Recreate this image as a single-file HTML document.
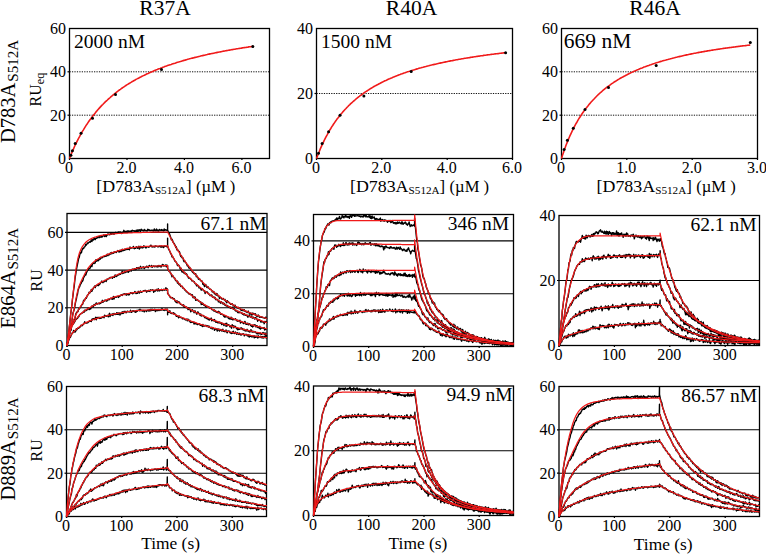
<!DOCTYPE html>
<html><head><meta charset="utf-8"><style>html,body{margin:0;padding:0;background:#fff;width:766px;height:554px;overflow:hidden}svg{display:block}</style></head>
<body><svg width="766" height="554" viewBox="0 0 766 554" font-family='"Liberation Serif", serif' fill="#000"><text x="165.0" y="15.4" font-size="21.5" text-anchor="middle" >R37A</text>
<text x="411.5" y="15.4" font-size="21.5" text-anchor="middle" >R40A</text>
<text x="655.0" y="15.4" font-size="21.5" text-anchor="middle" >R46A</text>
<text x="66.0" y="164.0" font-size="16" text-anchor="end" >0</text>
<text x="66.0" y="120.7" font-size="16" text-anchor="end" >20</text>
<text x="66.0" y="77.3" font-size="16" text-anchor="end" >40</text>
<text x="66.0" y="34.0" font-size="16" text-anchor="end" >60</text>
<text x="69.0" y="172.5" font-size="16" text-anchor="middle" >0</text>
<text x="126.5" y="172.5" font-size="16" text-anchor="middle" >2.0</text>
<text x="183.9" y="172.5" font-size="16" text-anchor="middle" >4.0</text>
<text x="241.4" y="172.5" font-size="16" text-anchor="middle" >6.0</text>
<text x="313.0" y="164.0" font-size="16" text-anchor="end" >0</text>
<text x="313.0" y="99.0" font-size="16" text-anchor="end" >20</text>
<text x="313.0" y="34.0" font-size="16" text-anchor="end" >40</text>
<text x="316.0" y="172.5" font-size="16" text-anchor="middle" >0</text>
<text x="381.3" y="172.5" font-size="16" text-anchor="middle" >2.0</text>
<text x="446.7" y="172.5" font-size="16" text-anchor="middle" >4.0</text>
<text x="512.0" y="172.5" font-size="16" text-anchor="middle" >6.0</text>
<text x="558.0" y="164.0" font-size="16" text-anchor="end" >0</text>
<text x="558.0" y="120.7" font-size="16" text-anchor="end" >20</text>
<text x="558.0" y="77.3" font-size="16" text-anchor="end" >40</text>
<text x="558.0" y="34.0" font-size="16" text-anchor="end" >60</text>
<text x="561.0" y="172.5" font-size="16" text-anchor="middle" >0</text>
<text x="626.3" y="172.5" font-size="16" text-anchor="middle" >1.0</text>
<text x="691.7" y="172.5" font-size="16" text-anchor="middle" >2.0</text>
<text x="757.0" y="172.5" font-size="16" text-anchor="middle" >3.0</text>
<text x="63.5" y="351.0" font-size="16" text-anchor="end" >0</text>
<text x="63.5" y="313.3" font-size="16" text-anchor="end" >20</text>
<text x="63.5" y="275.6" font-size="16" text-anchor="end" >40</text>
<text x="63.5" y="237.9" font-size="16" text-anchor="end" >60</text>
<text x="66.5" y="359.5" font-size="16" text-anchor="middle" >0</text>
<text x="121.7" y="359.5" font-size="16" text-anchor="middle" >100</text>
<text x="177.0" y="359.5" font-size="16" text-anchor="middle" >200</text>
<text x="232.2" y="359.5" font-size="16" text-anchor="middle" >300</text>
<text x="310.0" y="352.0" font-size="16" text-anchor="end" >0</text>
<text x="310.0" y="299.2" font-size="16" text-anchor="end" >20</text>
<text x="310.0" y="246.4" font-size="16" text-anchor="end" >40</text>
<text x="313.0" y="360.5" font-size="16" text-anchor="middle" >0</text>
<text x="368.2" y="360.5" font-size="16" text-anchor="middle" >100</text>
<text x="423.5" y="360.5" font-size="16" text-anchor="middle" >200</text>
<text x="478.7" y="360.5" font-size="16" text-anchor="middle" >300</text>
<text x="555.5" y="351.0" font-size="16" text-anchor="end" >0</text>
<text x="555.5" y="286.0" font-size="16" text-anchor="end" >20</text>
<text x="555.5" y="221.0" font-size="16" text-anchor="end" >40</text>
<text x="558.5" y="359.5" font-size="16" text-anchor="middle" >0</text>
<text x="613.9" y="359.5" font-size="16" text-anchor="middle" >100</text>
<text x="669.3" y="359.5" font-size="16" text-anchor="middle" >200</text>
<text x="724.7" y="359.5" font-size="16" text-anchor="middle" >300</text>
<text x="63.0" y="522.0" font-size="16" text-anchor="end" >0</text>
<text x="63.0" y="478.7" font-size="16" text-anchor="end" >20</text>
<text x="63.0" y="435.3" font-size="16" text-anchor="end" >40</text>
<text x="63.0" y="392.0" font-size="16" text-anchor="end" >60</text>
<text x="66.0" y="530.5" font-size="16" text-anchor="middle" >0</text>
<text x="121.2" y="530.5" font-size="16" text-anchor="middle" >100</text>
<text x="176.5" y="530.5" font-size="16" text-anchor="middle" >200</text>
<text x="231.7" y="530.5" font-size="16" text-anchor="middle" >300</text>
<text x="310.0" y="521.0" font-size="16" text-anchor="end" >0</text>
<text x="310.0" y="456.2" font-size="16" text-anchor="end" >20</text>
<text x="310.0" y="391.5" font-size="16" text-anchor="end" >40</text>
<text x="313.0" y="529.5" font-size="16" text-anchor="middle" >0</text>
<text x="368.2" y="529.5" font-size="16" text-anchor="middle" >100</text>
<text x="423.5" y="529.5" font-size="16" text-anchor="middle" >200</text>
<text x="478.7" y="529.5" font-size="16" text-anchor="middle" >300</text>
<text x="555.5" y="522.0" font-size="16" text-anchor="end" >0</text>
<text x="555.5" y="478.7" font-size="16" text-anchor="end" >20</text>
<text x="555.5" y="435.3" font-size="16" text-anchor="end" >40</text>
<text x="555.5" y="392.0" font-size="16" text-anchor="end" >60</text>
<text x="558.5" y="530.5" font-size="16" text-anchor="middle" >0</text>
<text x="613.9" y="530.5" font-size="16" text-anchor="middle" >100</text>
<text x="669.3" y="530.5" font-size="16" text-anchor="middle" >200</text>
<text x="724.7" y="530.5" font-size="16" text-anchor="middle" >300</text>
<g transform="translate(0.5,0.5)">
<line x1="69" x2="269" y1="114.7" y2="114.7" stroke="#111" stroke-width="1" stroke-dasharray="1.25,1.2"/>
<line x1="67" x2="69" y1="114.7" y2="114.7" stroke="#000" stroke-width="1.2"/>
<line x1="69" x2="269" y1="71.3" y2="71.3" stroke="#111" stroke-width="1" stroke-dasharray="1.25,1.2"/>
<line x1="67" x2="69" y1="71.3" y2="71.3" stroke="#000" stroke-width="1.2"/>
<line x1="69.0" x2="69.0" y1="158" y2="159.5" stroke="#000" stroke-width="1.2"/>
<line x1="126.5" x2="126.5" y1="158" y2="159.5" stroke="#000" stroke-width="1.2"/>
<line x1="183.9" x2="183.9" y1="158" y2="159.5" stroke="#000" stroke-width="1.2"/>
<line x1="241.4" x2="241.4" y1="158" y2="159.5" stroke="#000" stroke-width="1.2"/>
<line x1="316" x2="512" y1="93.0" y2="93.0" stroke="#111" stroke-width="1" stroke-dasharray="1.25,1.2"/>
<line x1="314" x2="316" y1="93.0" y2="93.0" stroke="#000" stroke-width="1.2"/>
<line x1="316.0" x2="316.0" y1="158" y2="159.5" stroke="#000" stroke-width="1.2"/>
<line x1="381.3" x2="381.3" y1="158" y2="159.5" stroke="#000" stroke-width="1.2"/>
<line x1="446.7" x2="446.7" y1="158" y2="159.5" stroke="#000" stroke-width="1.2"/>
<line x1="512.0" x2="512.0" y1="158" y2="159.5" stroke="#000" stroke-width="1.2"/>
<line x1="561" x2="757" y1="114.7" y2="114.7" stroke="#111" stroke-width="1" stroke-dasharray="1.25,1.2"/>
<line x1="559" x2="561" y1="114.7" y2="114.7" stroke="#000" stroke-width="1.2"/>
<line x1="561" x2="757" y1="71.3" y2="71.3" stroke="#111" stroke-width="1" stroke-dasharray="1.25,1.2"/>
<line x1="559" x2="561" y1="71.3" y2="71.3" stroke="#000" stroke-width="1.2"/>
<line x1="561.0" x2="561.0" y1="158" y2="159.5" stroke="#000" stroke-width="1.2"/>
<line x1="626.3" x2="626.3" y1="158" y2="159.5" stroke="#000" stroke-width="1.2"/>
<line x1="691.7" x2="691.7" y1="158" y2="159.5" stroke="#000" stroke-width="1.2"/>
<line x1="757.0" x2="757.0" y1="158" y2="159.5" stroke="#000" stroke-width="1.2"/>
<line x1="66.5" x2="266.5" y1="307.3" y2="307.3" stroke="#000" stroke-width="1.1"/>
<line x1="64.5" x2="66.5" y1="307.3" y2="307.3" stroke="#000" stroke-width="1.2"/>
<line x1="66.5" x2="266.5" y1="269.6" y2="269.6" stroke="#000" stroke-width="1.1"/>
<line x1="64.5" x2="66.5" y1="269.6" y2="269.6" stroke="#000" stroke-width="1.2"/>
<line x1="66.5" x2="266.5" y1="231.9" y2="231.9" stroke="#000" stroke-width="1.1"/>
<line x1="64.5" x2="66.5" y1="231.9" y2="231.9" stroke="#000" stroke-width="1.2"/>
<line x1="66.5" x2="66.5" y1="345" y2="346.5" stroke="#000" stroke-width="1.2"/>
<line x1="121.7" x2="121.7" y1="345" y2="346.5" stroke="#000" stroke-width="1.2"/>
<line x1="177.0" x2="177.0" y1="345" y2="346.5" stroke="#000" stroke-width="1.2"/>
<line x1="232.2" x2="232.2" y1="345" y2="346.5" stroke="#000" stroke-width="1.2"/>
<line x1="313" x2="513" y1="293.2" y2="293.2" stroke="#000" stroke-width="1.1"/>
<line x1="311" x2="313" y1="293.2" y2="293.2" stroke="#000" stroke-width="1.2"/>
<line x1="313" x2="513" y1="240.4" y2="240.4" stroke="#000" stroke-width="1.1"/>
<line x1="311" x2="313" y1="240.4" y2="240.4" stroke="#000" stroke-width="1.2"/>
<line x1="313.0" x2="313.0" y1="346" y2="347.5" stroke="#000" stroke-width="1.2"/>
<line x1="368.2" x2="368.2" y1="346" y2="347.5" stroke="#000" stroke-width="1.2"/>
<line x1="423.5" x2="423.5" y1="346" y2="347.5" stroke="#000" stroke-width="1.2"/>
<line x1="478.7" x2="478.7" y1="346" y2="347.5" stroke="#000" stroke-width="1.2"/>
<line x1="558.5" x2="759" y1="280.0" y2="280.0" stroke="#000" stroke-width="1.1"/>
<line x1="556.5" x2="558.5" y1="280.0" y2="280.0" stroke="#000" stroke-width="1.2"/>
<line x1="558.5" x2="558.5" y1="345" y2="346.5" stroke="#000" stroke-width="1.2"/>
<line x1="613.9" x2="613.9" y1="345" y2="346.5" stroke="#000" stroke-width="1.2"/>
<line x1="669.3" x2="669.3" y1="345" y2="346.5" stroke="#000" stroke-width="1.2"/>
<line x1="724.7" x2="724.7" y1="345" y2="346.5" stroke="#000" stroke-width="1.2"/>
<line x1="66" x2="266" y1="472.7" y2="472.7" stroke="#000" stroke-width="1.1"/>
<line x1="64" x2="66" y1="472.7" y2="472.7" stroke="#000" stroke-width="1.2"/>
<line x1="66" x2="266" y1="429.3" y2="429.3" stroke="#000" stroke-width="1.1"/>
<line x1="64" x2="66" y1="429.3" y2="429.3" stroke="#000" stroke-width="1.2"/>
<line x1="66.0" x2="66.0" y1="516" y2="517.5" stroke="#000" stroke-width="1.2"/>
<line x1="121.2" x2="121.2" y1="516" y2="517.5" stroke="#000" stroke-width="1.2"/>
<line x1="176.5" x2="176.5" y1="516" y2="517.5" stroke="#000" stroke-width="1.2"/>
<line x1="231.7" x2="231.7" y1="516" y2="517.5" stroke="#000" stroke-width="1.2"/>
<line x1="313" x2="513" y1="450.2" y2="450.2" stroke="#000" stroke-width="1.1"/>
<line x1="311" x2="313" y1="450.2" y2="450.2" stroke="#000" stroke-width="1.2"/>
<line x1="313.0" x2="313.0" y1="515" y2="516.5" stroke="#000" stroke-width="1.2"/>
<line x1="368.2" x2="368.2" y1="515" y2="516.5" stroke="#000" stroke-width="1.2"/>
<line x1="423.5" x2="423.5" y1="515" y2="516.5" stroke="#000" stroke-width="1.2"/>
<line x1="478.7" x2="478.7" y1="515" y2="516.5" stroke="#000" stroke-width="1.2"/>
<line x1="558.5" x2="759" y1="472.7" y2="472.7" stroke="#000" stroke-width="1.1"/>
<line x1="556.5" x2="558.5" y1="472.7" y2="472.7" stroke="#000" stroke-width="1.2"/>
<line x1="558.5" x2="759" y1="429.3" y2="429.3" stroke="#000" stroke-width="1.1"/>
<line x1="556.5" x2="558.5" y1="429.3" y2="429.3" stroke="#000" stroke-width="1.2"/>
<line x1="558.5" x2="558.5" y1="516" y2="517.5" stroke="#000" stroke-width="1.2"/>
<line x1="613.9" x2="613.9" y1="516" y2="517.5" stroke="#000" stroke-width="1.2"/>
<line x1="669.3" x2="669.3" y1="516" y2="517.5" stroke="#000" stroke-width="1.2"/>
<line x1="724.7" x2="724.7" y1="516" y2="517.5" stroke="#000" stroke-width="1.2"/>
<rect x="69" y="28" width="200" height="130" fill="none" stroke="#000" stroke-width="1.3"/>
<rect x="316" y="28" width="196" height="130" fill="none" stroke="#000" stroke-width="1.3"/>
<rect x="561" y="28" width="196" height="130" fill="none" stroke="#000" stroke-width="1.3"/>
<rect x="66.5" y="213" width="200.0" height="132" fill="none" stroke="#000" stroke-width="1.3"/>
<rect x="313" y="214" width="200" height="132" fill="none" stroke="#000" stroke-width="1.3"/>
<rect x="558.5" y="215" width="200.5" height="130" fill="none" stroke="#000" stroke-width="1.3"/>
<rect x="66" y="386" width="200" height="130" fill="none" stroke="#000" stroke-width="1.3"/>
<rect x="313" y="385.5" width="200" height="129.5" fill="none" stroke="#000" stroke-width="1.3"/>
<rect x="558.5" y="386" width="200.5" height="130" fill="none" stroke="#000" stroke-width="1.3"/>
<defs><clipPath id="c1"><rect x="67.5" y="28" width="202" height="131"/></clipPath><clipPath id="c2"><rect x="314.5" y="28" width="198" height="131"/></clipPath><clipPath id="c3"><rect x="559.5" y="28" width="198" height="131"/></clipPath><clipPath id="c4"><rect x="65.0" y="213" width="202.0" height="133"/></clipPath><clipPath id="c5"><rect x="311.5" y="214" width="202" height="133"/></clipPath><clipPath id="c6"><rect x="557.0" y="215" width="202.5" height="131"/></clipPath><clipPath id="c7"><rect x="64.5" y="386" width="202" height="131"/></clipPath><clipPath id="c8"><rect x="311.5" y="385.5" width="202" height="130.5"/></clipPath><clipPath id="c9"><rect x="557.0" y="386" width="202.5" height="131"/></clipPath></defs>
<g clip-path="url(#c1)">
<path d="M69.0,158.0 L69.9,155.7 L70.8,153.4 L71.8,151.2 L72.7,149.1 L73.6,147.0 L74.5,145.0 L75.5,143.1 L76.4,141.2 L77.3,139.4 L78.2,137.6 L79.2,135.9 L80.1,134.2 L81.0,132.5 L81.9,130.9 L82.9,129.4 L83.8,127.9 L84.7,126.4 L85.6,124.9 L86.6,123.5 L87.5,122.1 L88.4,120.8 L89.3,119.5 L90.3,118.2 L91.2,117.0 L92.1,115.8 L93.0,114.6 L94.0,113.4 L94.9,112.3 L95.8,111.1 L96.7,110.1 L97.6,109.0 L98.6,107.9 L99.5,106.9 L100.4,105.9 L101.3,104.9 L102.3,104.0 L103.2,103.0 L104.1,102.1 L105.0,101.2 L106.0,100.3 L106.9,99.5 L107.8,98.6 L108.7,97.8 L109.7,97.0 L110.6,96.1 L111.5,95.4 L112.4,94.6 L113.4,93.8 L114.3,93.1 L115.2,92.3 L116.1,91.6 L117.1,90.9 L118.0,90.2 L118.9,89.5 L119.8,88.9 L120.8,88.2 L121.7,87.5 L122.6,86.9 L123.5,86.3 L124.4,85.7 L125.4,85.0 L126.3,84.4 L127.2,83.9 L128.1,83.3 L129.1,82.7 L130.0,82.1 L130.9,81.6 L131.8,81.0 L132.8,80.5 L133.7,80.0 L134.6,79.5 L135.5,78.9 L136.5,78.4 L137.4,77.9 L138.3,77.5 L139.2,77.0 L140.2,76.5 L141.1,76.0 L142.0,75.6 L142.9,75.1 L143.9,74.7 L144.8,74.2 L145.7,73.8 L146.6,73.3 L147.6,72.9 L148.5,72.5 L149.4,72.1 L150.3,71.7 L151.3,71.3 L152.2,70.9 L153.1,70.5 L154.0,70.1 L154.9,69.7 L155.9,69.3 L156.8,69.0 L157.7,68.6 L158.6,68.2 L159.6,67.9 L160.5,67.5 L161.4,67.2 L162.3,66.8 L163.3,66.5 L164.2,66.1 L165.1,65.8 L166.0,65.5 L167.0,65.1 L167.9,64.8 L168.8,64.5 L169.7,64.2 L170.7,63.9 L171.6,63.6 L172.5,63.3 L173.4,63.0 L174.4,62.7 L175.3,62.4 L176.2,62.1 L177.1,61.8 L178.1,61.5 L179.0,61.2 L179.9,61.0 L180.8,60.7 L181.7,60.4 L182.7,60.1 L183.6,59.9 L184.5,59.6 L185.4,59.4 L186.4,59.1 L187.3,58.8 L188.2,58.6 L189.1,58.3 L190.1,58.1 L191.0,57.8 L191.9,57.6 L192.8,57.4 L193.8,57.1 L194.7,56.9 L195.6,56.7 L196.5,56.4 L197.5,56.2 L198.4,56.0 L199.3,55.8 L200.2,55.5 L201.2,55.3 L202.1,55.1 L203.0,54.9 L203.9,54.7 L204.9,54.5 L205.8,54.3 L206.7,54.1 L207.6,53.8 L208.5,53.6 L209.5,53.4 L210.4,53.2 L211.3,53.0 L212.2,52.9 L213.2,52.7 L214.1,52.5 L215.0,52.3 L215.9,52.1 L216.9,51.9 L217.8,51.7 L218.7,51.5 L219.6,51.4 L220.6,51.2 L221.5,51.0 L222.4,50.8 L223.3,50.6 L224.3,50.5 L225.2,50.3 L226.1,50.1 L227.0,50.0 L228.0,49.8 L228.9,49.6 L229.8,49.5 L230.7,49.3 L231.7,49.1 L232.6,49.0 L233.5,48.8 L234.4,48.7 L235.3,48.5 L236.3,48.3 L237.2,48.2 L238.1,48.0 L239.0,47.9 L240.0,47.7 L240.9,47.6 L241.8,47.4 L242.7,47.3 L243.7,47.1 L244.6,47.0 L245.5,46.9 L246.4,46.7 L247.4,46.6 L248.3,46.4 L249.2,46.3 L250.1,46.2 L251.1,46.0 L252.0,45.9 L252.9,45.7" fill="none" stroke="#f01a1a" stroke-width="1.6"/>
</g>
<circle cx="71.9" cy="150.2" r="1.5" fill="#000"/>
<circle cx="74.7" cy="143.1" r="1.5" fill="#000"/>
<circle cx="80.5" cy="132.7" r="1.5" fill="#000"/>
<circle cx="92.0" cy="117.7" r="1.5" fill="#000"/>
<circle cx="115.0" cy="94.1" r="1.5" fill="#000"/>
<circle cx="161.0" cy="68.9" r="1.5" fill="#000"/>
<circle cx="252.3" cy="46.0" r="1.5" fill="#000"/>
<circle cx="70.4" cy="154.8" r="1.5" fill="#000"/>
<g clip-path="url(#c2)">
<path d="M316.0,158.0 L317.0,155.5 L317.9,153.0 L318.9,150.7 L319.8,148.4 L320.8,146.2 L321.7,144.1 L322.7,142.1 L323.6,140.1 L324.6,138.2 L325.5,136.4 L326.5,134.6 L327.4,132.8 L328.4,131.2 L329.3,129.5 L330.3,128.0 L331.2,126.4 L332.2,125.0 L333.1,123.5 L334.1,122.1 L335.0,120.8 L336.0,119.4 L336.9,118.1 L337.9,116.9 L338.8,115.7 L339.8,114.5 L340.7,113.3 L341.7,112.2 L342.6,111.1 L343.6,110.0 L344.5,109.0 L345.5,108.0 L346.4,107.0 L347.4,106.0 L348.3,105.0 L349.3,104.1 L350.2,103.2 L351.2,102.3 L352.1,101.5 L353.1,100.6 L354.0,99.8 L355.0,99.0 L355.9,98.2 L356.9,97.4 L357.8,96.6 L358.8,95.9 L359.7,95.2 L360.7,94.5 L361.6,93.8 L362.6,93.1 L363.5,92.4 L364.5,91.7 L365.4,91.1 L366.4,90.5 L367.3,89.8 L368.3,89.2 L369.2,88.6 L370.2,88.0 L371.1,87.5 L372.1,86.9 L373.0,86.3 L374.0,85.8 L374.9,85.2 L375.9,84.7 L376.8,84.2 L377.8,83.7 L378.7,83.2 L379.7,82.7 L380.6,82.2 L381.6,81.7 L382.5,81.3 L383.5,80.8 L384.4,80.3 L385.4,79.9 L386.3,79.5 L387.3,79.0 L388.2,78.6 L389.2,78.2 L390.1,77.8 L391.1,77.4 L392.0,77.0 L393.0,76.6 L393.9,76.2 L394.9,75.8 L395.8,75.4 L396.8,75.1 L397.7,74.7 L398.7,74.3 L399.6,74.0 L400.6,73.6 L401.5,73.3 L402.5,72.9 L403.4,72.6 L404.4,72.3 L405.3,71.9 L406.3,71.6 L407.2,71.3 L408.2,71.0 L409.1,70.7 L410.1,70.4 L411.0,70.1 L412.0,69.8 L412.9,69.5 L413.9,69.2 L414.8,68.9 L415.8,68.6 L416.7,68.4 L417.7,68.1 L418.6,67.8 L419.6,67.5 L420.5,67.3 L421.5,67.0 L422.5,66.8 L423.4,66.5 L424.4,66.2 L425.3,66.0 L426.3,65.7 L427.2,65.5 L428.2,65.3 L429.1,65.0 L430.1,64.8 L431.0,64.6 L432.0,64.3 L432.9,64.1 L433.9,63.9 L434.8,63.7 L435.8,63.4 L436.7,63.2 L437.7,63.0 L438.6,62.8 L439.6,62.6 L440.5,62.4 L441.5,62.2 L442.4,62.0 L443.4,61.8 L444.3,61.6 L445.3,61.4 L446.2,61.2 L447.2,61.0 L448.1,60.8 L449.1,60.6 L450.0,60.4 L451.0,60.2 L451.9,60.1 L452.9,59.9 L453.8,59.7 L454.8,59.5 L455.7,59.3 L456.7,59.2 L457.6,59.0 L458.6,58.8 L459.5,58.7 L460.5,58.5 L461.4,58.3 L462.4,58.2 L463.3,58.0 L464.3,57.8 L465.2,57.7 L466.2,57.5 L467.1,57.4 L468.1,57.2 L469.0,57.1 L470.0,56.9 L470.9,56.8 L471.9,56.6 L472.8,56.5 L473.8,56.3 L474.7,56.2 L475.7,56.0 L476.6,55.9 L477.6,55.8 L478.5,55.6 L479.5,55.5 L480.4,55.3 L481.4,55.2 L482.3,55.1 L483.3,54.9 L484.2,54.8 L485.2,54.7 L486.1,54.5 L487.1,54.4 L488.0,54.3 L489.0,54.2 L489.9,54.0 L490.9,53.9 L491.8,53.8 L492.8,53.7 L493.7,53.5 L494.7,53.4 L495.6,53.3 L496.6,53.2 L497.5,53.1 L498.5,53.0 L499.4,52.8 L500.4,52.7 L501.3,52.6 L502.3,52.5 L503.2,52.4 L504.2,52.3 L505.1,52.2" fill="none" stroke="#f01a1a" stroke-width="1.6"/>
</g>
<circle cx="318.0" cy="152.8" r="1.5" fill="#000"/>
<circle cx="321.6" cy="143.1" r="1.5" fill="#000"/>
<circle cx="328.1" cy="131.3" r="1.5" fill="#000"/>
<circle cx="339.5" cy="114.8" r="1.5" fill="#000"/>
<circle cx="363.4" cy="95.6" r="1.5" fill="#000"/>
<circle cx="410.7" cy="70.9" r="1.5" fill="#000"/>
<circle cx="505.1" cy="52.2" r="1.5" fill="#000"/>
<g clip-path="url(#c3)">
<path d="M561.0,158.0 L561.9,155.0 L562.9,152.2 L563.8,149.5 L564.8,146.8 L565.7,144.3 L566.7,141.9 L567.6,139.6 L568.6,137.3 L569.5,135.2 L570.5,133.1 L571.4,131.1 L572.4,129.1 L573.3,127.2 L574.3,125.4 L575.2,123.7 L576.2,122.0 L577.1,120.3 L578.1,118.7 L579.0,117.2 L580.0,115.7 L580.9,114.2 L581.9,112.8 L582.8,111.5 L583.8,110.1 L584.7,108.8 L585.7,107.6 L586.6,106.4 L587.6,105.2 L588.5,104.0 L589.5,102.9 L590.4,101.8 L591.4,100.7 L592.3,99.7 L593.3,98.7 L594.2,97.7 L595.2,96.7 L596.1,95.8 L597.1,94.8 L598.0,93.9 L599.0,93.0 L599.9,92.2 L600.9,91.4 L601.8,90.5 L602.7,89.7 L603.7,88.9 L604.6,88.2 L605.6,87.4 L606.5,86.7 L607.5,86.0 L608.4,85.3 L609.4,84.6 L610.3,83.9 L611.3,83.2 L612.2,82.6 L613.2,81.9 L614.1,81.3 L615.1,80.7 L616.0,80.1 L617.0,79.5 L617.9,78.9 L618.9,78.4 L619.8,77.8 L620.8,77.3 L621.7,76.7 L622.7,76.2 L623.6,75.7 L624.6,75.2 L625.5,74.7 L626.5,74.2 L627.4,73.7 L628.4,73.2 L629.3,72.8 L630.3,72.3 L631.2,71.9 L632.2,71.4 L633.1,71.0 L634.1,70.6 L635.0,70.1 L636.0,69.7 L636.9,69.3 L637.9,68.9 L638.8,68.5 L639.8,68.1 L640.7,67.7 L641.6,67.4 L642.6,67.0 L643.5,66.6 L644.5,66.3 L645.4,65.9 L646.4,65.6 L647.3,65.2 L648.3,64.9 L649.2,64.5 L650.2,64.2 L651.1,63.9 L652.1,63.6 L653.0,63.2 L654.0,62.9 L654.9,62.6 L655.9,62.3 L656.8,62.0 L657.8,61.7 L658.7,61.4 L659.7,61.1 L660.6,60.9 L661.6,60.6 L662.5,60.3 L663.5,60.0 L664.4,59.8 L665.4,59.5 L666.3,59.2 L667.3,59.0 L668.2,58.7 L669.2,58.5 L670.1,58.2 L671.1,58.0 L672.0,57.7 L673.0,57.5 L673.9,57.3 L674.9,57.0 L675.8,56.8 L676.8,56.6 L677.7,56.3 L678.7,56.1 L679.6,55.9 L680.6,55.7 L681.5,55.4 L682.4,55.2 L683.4,55.0 L684.3,54.8 L685.3,54.6 L686.2,54.4 L687.2,54.2 L688.1,54.0 L689.1,53.8 L690.0,53.6 L691.0,53.4 L691.9,53.2 L692.9,53.0 L693.8,52.8 L694.8,52.7 L695.7,52.5 L696.7,52.3 L697.6,52.1 L698.6,51.9 L699.5,51.8 L700.5,51.6 L701.4,51.4 L702.4,51.3 L703.3,51.1 L704.3,50.9 L705.2,50.8 L706.2,50.6 L707.1,50.4 L708.1,50.3 L709.0,50.1 L710.0,50.0 L710.9,49.8 L711.9,49.6 L712.8,49.5 L713.8,49.3 L714.7,49.2 L715.7,49.0 L716.6,48.9 L717.6,48.8 L718.5,48.6 L719.5,48.5 L720.4,48.3 L721.3,48.2 L722.3,48.0 L723.2,47.9 L724.2,47.8 L725.1,47.6 L726.1,47.5 L727.0,47.4 L728.0,47.2 L728.9,47.1 L729.9,47.0 L730.8,46.9 L731.8,46.7 L732.7,46.6 L733.7,46.5 L734.6,46.4 L735.6,46.2 L736.5,46.1 L737.5,46.0 L738.4,45.9 L739.4,45.8 L740.3,45.6 L741.3,45.5 L742.2,45.4 L743.2,45.3 L744.1,45.2 L745.1,45.1 L746.0,45.0 L747.0,44.8 L747.9,44.7 L748.9,44.6 L749.8,44.5" fill="none" stroke="#f01a1a" stroke-width="1.6"/>
</g>
<circle cx="563.6" cy="149.1" r="1.5" fill="#000"/>
<circle cx="566.9" cy="139.8" r="1.5" fill="#000"/>
<circle cx="572.8" cy="127.7" r="1.5" fill="#000"/>
<circle cx="584.5" cy="109.0" r="1.5" fill="#000"/>
<circle cx="608.0" cy="87.1" r="1.5" fill="#000"/>
<circle cx="655.7" cy="65.0" r="1.5" fill="#000"/>
<circle cx="749.8" cy="42.1" r="1.5" fill="#000"/>
<g clip-path="url(#c4)" fill="none" stroke-linejoin="round">
<path d="M66.5,345.0 L67.1,340.6 L67.6,336.5 L68.2,332.1 L68.7,326.9 L69.3,322.5 L69.8,317.0 L70.4,311.5 L70.9,308.1 L71.5,303.5 L72.0,298.2 L72.6,293.8 L73.1,289.4 L73.7,285.7 L74.2,280.6 L74.8,275.7 L75.3,273.0 L75.9,268.7 L76.4,266.4 L77.0,263.2 L77.5,261.1 L78.1,257.8 L78.7,256.7 L79.2,254.0 L79.8,252.6 L80.3,251.5 L80.9,252.0 L81.4,249.6 L82.0,248.3 L82.5,247.4 L83.1,247.8 L83.6,246.4 L84.2,246.1 L84.7,245.4 L85.3,243.5 L85.8,244.3 L86.4,243.2 L86.9,242.1 L87.5,242.7 L88.0,241.9 L88.6,241.4 L89.2,241.0 L89.7,241.5 L90.3,240.3 L90.8,239.0 L91.4,240.8 L91.9,238.8 L92.5,239.0 L93.0,239.2 L93.6,237.1 L94.1,237.7 L94.7,238.8 L95.2,237.7 L95.8,237.1 L96.3,237.4 L96.9,236.6 L97.4,236.9 L98.0,236.2 L98.5,235.5 L99.1,236.8 L99.6,236.0 L100.2,236.2 L100.8,235.7 L101.3,236.4 L101.9,235.8 L102.4,235.4 L103.0,234.5 L103.5,234.1 L104.1,235.7 L104.6,235.2 L105.2,234.1 L105.7,235.8 L106.3,234.6 L106.8,234.2 L107.4,233.1 L107.9,233.4 L108.5,234.0 L109.0,233.9 L109.6,233.7 L110.1,232.3 L110.7,233.5 L111.3,233.3 L111.8,232.8 L112.4,233.0 L112.9,232.9 L113.5,233.4 L114.0,232.6 L114.6,232.8 L115.1,231.5 L115.7,231.8 L116.2,232.1 L116.8,231.6 L117.3,232.2 L117.9,231.1 L118.4,231.7 L119.0,231.2 L119.5,232.5 L120.1,231.2 L120.6,232.6 L121.2,232.7 L121.7,231.5 L122.3,231.8 L122.9,231.0 L123.4,229.5 L124.0,231.5 L124.5,231.3 L125.1,230.7 L125.6,230.4 L126.2,230.8 L126.7,230.8 L127.3,230.0 L127.8,230.1 L128.4,231.1 L128.9,230.4 L129.5,230.3 L130.0,231.0 L130.6,230.0 L131.1,230.7 L131.7,229.4 L132.2,229.9 L132.8,229.9 L133.4,230.3 L133.9,229.9 L134.5,231.2 L135.0,230.6 L135.6,229.5 L136.1,231.2 L136.7,229.1 L137.2,230.9 L137.8,229.1 L138.3,230.2 L138.9,229.0 L139.4,229.5 L140.0,230.6 L140.5,228.7 L141.1,228.5 L141.6,229.6 L142.2,229.7 L142.7,229.6 L143.3,230.1 L143.8,228.7 L144.4,229.8 L145.0,229.5 L145.5,230.0 L146.1,229.8 L146.6,230.3 L147.2,228.5 L147.7,229.5 L148.3,228.7 L148.8,229.3 L149.4,229.8 L149.9,229.5 L150.5,229.7 L151.0,229.3 L151.6,229.5 L152.1,229.5 L152.7,230.2 L153.2,229.8 L153.8,228.1 L154.3,229.7 L154.9,230.0 L155.5,229.0 L156.0,228.2 L156.6,230.2 L157.1,229.3 L157.7,229.6 L158.2,230.4 L158.8,228.6 L159.3,229.2 L159.9,229.1 L160.4,229.7 L161.0,228.8 L161.5,229.5 L162.1,229.2 L162.6,229.9 L163.2,230.0 L163.7,228.2 L164.3,229.5 L164.8,228.9 L165.4,229.1 L165.9,229.4 L166.5,229.4 L167.1,228.6 L167.1,223.1 L167.1,229.1 L167.6,230.5 L168.2,231.8 L168.7,232.3 L169.3,233.9 L169.8,235.4 L170.4,237.2 L170.9,239.0 L171.5,238.5 L172.0,239.5 L172.6,241.4 L173.1,242.0 L173.7,242.8 L174.2,243.8 L174.8,244.7 L175.3,246.7 L175.9,246.2 L176.4,249.1 L177.0,248.6 L177.5,249.7 L178.1,250.4 L178.7,250.6 L179.2,251.7 L179.8,254.4 L180.3,255.7 L180.9,254.8 L181.4,256.9 L182.0,257.0 L182.5,257.2 L183.1,259.8 L183.6,260.9 L184.2,260.0 L184.7,261.0 L185.3,261.9 L185.8,262.5 L186.4,263.9 L186.9,265.1 L187.5,264.9 L188.0,266.2 L188.6,267.4 L189.2,266.6 L189.7,267.7 L190.3,268.0 L190.8,269.7 L191.4,270.2 L191.9,271.1 L192.5,271.7 L193.0,271.6 L193.6,272.9 L194.1,272.8 L194.7,273.4 L195.2,272.9 L195.8,275.9 L196.3,274.9 L196.9,276.2 L197.4,276.8 L198.0,278.4 L198.5,278.3 L199.1,278.0 L199.6,279.2 L200.2,279.6 L200.8,280.5 L201.3,280.0 L201.9,281.4 L202.4,283.5 L203.0,282.9 L203.5,284.4 L204.1,285.8 L204.6,284.4 L205.2,283.6 L205.7,285.1 L206.3,286.4 L206.8,286.8 L207.4,285.8 L207.9,287.0 L208.5,287.5 L209.0,288.1 L209.6,288.5 L210.1,288.4 L210.7,289.1 L211.3,289.8 L211.8,291.1 L212.4,290.5 L212.9,291.8 L213.5,291.0 L214.0,293.1 L214.6,292.7 L215.1,293.0 L215.7,294.4 L216.2,292.7 L216.8,293.3 L217.3,295.0 L217.9,294.6 L218.4,295.2 L219.0,297.7 L219.5,296.1 L220.1,296.7 L220.6,297.0 L221.2,298.2 L221.7,298.0 L222.3,298.3 L222.9,297.7 L223.4,298.7 L224.0,299.3 L224.5,298.6 L225.1,300.4 L225.6,300.6 L226.2,302.0 L226.7,299.9 L227.3,300.7 L227.8,301.1 L228.4,301.6 L228.9,302.3 L229.5,302.5 L230.0,303.2 L230.6,303.5 L231.1,303.6 L231.7,302.9 L232.2,303.9 L232.8,304.6 L233.4,305.2 L233.9,305.6 L234.5,304.3 L235.0,305.4 L235.6,306.0 L236.1,306.5 L236.7,307.3 L237.2,306.9 L237.8,306.5 L238.3,307.7 L238.9,307.8 L239.4,308.1 L240.0,308.1 L240.5,309.6 L241.1,308.9 L241.6,309.6 L242.2,308.6 L242.7,310.0 L243.3,309.3 L243.8,308.9 L244.4,310.4 L245.0,310.8 L245.5,310.5 L246.1,310.9 L246.6,311.8 L247.2,311.0 L247.7,310.2 L248.3,312.0 L248.8,312.2 L249.4,313.0 L249.9,312.2 L250.5,313.5 L251.0,313.7 L251.6,312.2 L252.1,313.9 L252.7,312.7 L253.2,312.6 L253.8,313.7 L254.3,313.7 L254.9,312.9 L255.5,314.6 L256.0,315.1 L256.6,315.8 L257.1,315.0 L257.7,314.2 L258.2,314.8 L258.8,316.3 L259.3,316.4 L259.9,316.3 L260.4,315.9 L261.0,316.5 L261.5,316.3 L262.1,316.4 L262.6,317.0 L263.2,317.0 L263.7,317.0 L264.3,317.4 L264.8,317.1 L265.4,316.3 L265.9,317.4 L266.5,317.9" stroke="#000" stroke-width="1.4" transform="translate(0,0.3)"/>
<path d="M66.5,346.2 L67.1,342.6 L67.6,341.6 L68.2,338.3 L68.7,333.5 L69.3,330.5 L69.8,327.9 L70.4,325.9 L70.9,322.0 L71.5,319.4 L72.0,315.7 L72.6,311.8 L73.1,310.6 L73.7,308.7 L74.2,306.3 L74.8,302.8 L75.3,300.2 L75.9,298.2 L76.4,294.9 L77.0,293.4 L77.5,289.8 L78.1,287.9 L78.7,286.2 L79.2,285.8 L79.8,283.8 L80.3,283.0 L80.9,282.0 L81.4,280.8 L82.0,280.3 L82.5,279.3 L83.1,276.6 L83.6,276.2 L84.2,274.9 L84.7,273.3 L85.3,274.2 L85.8,272.5 L86.4,270.9 L86.9,269.9 L87.5,269.6 L88.0,267.8 L88.6,267.6 L89.2,267.9 L89.7,267.0 L90.3,265.2 L90.8,264.8 L91.4,265.8 L91.9,263.0 L92.5,263.0 L93.0,261.9 L93.6,262.6 L94.1,262.1 L94.7,262.2 L95.2,259.1 L95.8,260.6 L96.3,258.9 L96.9,260.0 L97.4,259.0 L98.0,259.9 L98.5,258.6 L99.1,257.3 L99.6,258.5 L100.2,256.5 L100.8,256.7 L101.3,257.3 L101.9,256.6 L102.4,256.3 L103.0,255.7 L103.5,255.8 L104.1,255.7 L104.6,255.1 L105.2,255.4 L105.7,255.4 L106.3,254.3 L106.8,253.4 L107.4,254.9 L107.9,253.6 L108.5,253.9 L109.0,253.9 L109.6,252.4 L110.1,253.2 L110.7,251.6 L111.3,253.0 L111.8,252.0 L112.4,252.3 L112.9,252.4 L113.5,251.3 L114.0,251.7 L114.6,250.9 L115.1,251.2 L115.7,251.8 L116.2,250.9 L116.8,250.6 L117.3,249.8 L117.9,251.0 L118.4,250.2 L119.0,251.2 L119.5,249.4 L120.1,250.4 L120.6,250.8 L121.2,249.4 L121.7,248.4 L122.3,250.1 L122.9,249.7 L123.4,249.3 L124.0,249.4 L124.5,248.3 L125.1,249.0 L125.6,248.8 L126.2,247.7 L126.7,248.6 L127.3,247.6 L127.8,248.5 L128.4,248.5 L128.9,248.9 L129.5,246.2 L130.0,247.6 L130.6,247.1 L131.1,247.3 L131.7,247.0 L132.2,247.0 L132.8,245.7 L133.4,247.6 L133.9,247.9 L134.5,247.5 L135.0,247.6 L135.6,246.1 L136.1,246.0 L136.7,247.2 L137.2,247.5 L137.8,246.7 L138.3,245.4 L138.9,248.3 L139.4,245.9 L140.0,247.0 L140.5,245.5 L141.1,246.9 L141.6,246.3 L142.2,247.1 L142.7,246.7 L143.3,245.0 L143.8,245.4 L144.4,246.2 L145.0,246.5 L145.5,247.2 L146.1,246.1 L146.6,245.9 L147.2,245.9 L147.7,245.8 L148.3,246.5 L148.8,245.8 L149.4,245.7 L149.9,244.8 L150.5,244.4 L151.0,245.7 L151.6,246.2 L152.1,245.7 L152.7,246.0 L153.2,246.1 L153.8,245.6 L154.3,246.3 L154.9,245.1 L155.5,245.6 L156.0,245.3 L156.6,245.6 L157.1,246.0 L157.7,246.1 L158.2,245.6 L158.8,245.8 L159.3,245.3 L159.9,245.4 L160.4,246.4 L161.0,245.3 L161.5,246.3 L162.1,245.8 L162.6,245.6 L163.2,246.8 L163.7,245.3 L164.3,245.2 L164.8,245.5 L165.4,245.6 L165.9,245.6 L166.5,246.0 L167.1,245.5 L167.1,237.3 L167.1,245.6 L167.6,246.6 L168.2,248.8 L168.7,249.1 L169.3,250.4 L169.8,251.8 L170.4,253.1 L170.9,253.5 L171.5,256.1 L172.0,255.6 L172.6,256.7 L173.1,257.6 L173.7,258.4 L174.2,260.0 L174.8,260.6 L175.3,260.8 L175.9,261.8 L176.4,262.7 L177.0,264.7 L177.5,264.0 L178.1,264.3 L178.7,265.1 L179.2,266.4 L179.8,268.3 L180.3,267.2 L180.9,268.7 L181.4,271.0 L182.0,269.6 L182.5,271.5 L183.1,272.0 L183.6,272.2 L184.2,271.5 L184.7,273.2 L185.3,273.3 L185.8,272.9 L186.4,273.6 L186.9,275.3 L187.5,276.0 L188.0,277.3 L188.6,277.4 L189.2,277.2 L189.7,277.7 L190.3,278.4 L190.8,278.4 L191.4,280.1 L191.9,280.1 L192.5,280.1 L193.0,280.7 L193.6,280.9 L194.1,281.8 L194.7,282.8 L195.2,282.8 L195.8,284.3 L196.3,285.2 L196.9,284.1 L197.4,285.0 L198.0,285.2 L198.5,287.1 L199.1,286.6 L199.6,287.2 L200.2,287.9 L200.8,289.3 L201.3,288.4 L201.9,288.0 L202.4,288.8 L203.0,289.9 L203.5,289.9 L204.1,289.8 L204.6,292.7 L205.2,291.2 L205.7,291.2 L206.3,291.5 L206.8,291.2 L207.4,292.0 L207.9,293.0 L208.5,293.4 L209.0,293.4 L209.6,294.8 L210.1,294.8 L210.7,294.5 L211.3,294.2 L211.8,296.0 L212.4,296.3 L212.9,296.5 L213.5,296.1 L214.0,297.4 L214.6,296.8 L215.1,298.8 L215.7,298.6 L216.2,299.0 L216.8,298.7 L217.3,298.8 L217.9,301.0 L218.4,300.9 L219.0,300.4 L219.5,301.4 L220.1,302.4 L220.6,300.9 L221.2,301.6 L221.7,301.9 L222.3,303.0 L222.9,302.2 L223.4,303.4 L224.0,302.8 L224.5,304.5 L225.1,304.8 L225.6,304.4 L226.2,305.3 L226.7,304.7 L227.3,305.3 L227.8,306.4 L228.4,306.0 L228.9,306.6 L229.5,306.0 L230.0,307.4 L230.6,307.6 L231.1,306.7 L231.7,306.3 L232.2,306.7 L232.8,308.4 L233.4,308.5 L233.9,307.9 L234.5,309.3 L235.0,310.2 L235.6,309.7 L236.1,309.7 L236.7,310.9 L237.2,311.7 L237.8,311.9 L238.3,310.7 L238.9,311.9 L239.4,311.7 L240.0,311.7 L240.5,311.7 L241.1,312.6 L241.6,312.3 L242.2,313.5 L242.7,313.4 L243.3,314.1 L243.8,312.8 L244.4,313.9 L245.0,314.6 L245.5,314.6 L246.1,314.7 L246.6,314.3 L247.2,316.2 L247.7,316.0 L248.3,315.8 L248.8,314.0 L249.4,315.3 L249.9,316.3 L250.5,315.9 L251.0,315.2 L251.6,317.0 L252.1,317.3 L252.7,316.4 L253.2,317.1 L253.8,317.2 L254.3,318.3 L254.9,316.8 L255.5,317.1 L256.0,318.1 L256.6,318.3 L257.1,320.4 L257.7,318.7 L258.2,319.5 L258.8,319.2 L259.3,319.2 L259.9,320.2 L260.4,321.3 L261.0,320.0 L261.5,321.0 L262.1,320.9 L262.6,321.3 L263.2,321.3 L263.7,322.9 L264.3,320.6 L264.8,321.4 L265.4,321.0 L265.9,320.6 L266.5,322.1" stroke="#000" stroke-width="1.4" transform="translate(0,0.3)"/>
<path d="M66.5,346.3 L67.1,342.3 L67.6,339.6 L68.2,336.4 L68.7,333.6 L69.3,332.8 L69.8,329.1 L70.4,328.5 L70.9,325.5 L71.5,324.1 L72.0,322.6 L72.6,321.0 L73.1,319.9 L73.7,318.6 L74.2,318.1 L74.8,315.7 L75.3,313.2 L75.9,312.0 L76.4,311.4 L77.0,310.7 L77.5,310.7 L78.1,308.2 L78.7,308.3 L79.2,307.4 L79.8,306.6 L80.3,305.5 L80.9,304.9 L81.4,303.8 L82.0,303.6 L82.5,302.2 L83.1,299.5 L83.6,300.2 L84.2,299.4 L84.7,298.0 L85.3,297.0 L85.8,297.4 L86.4,296.0 L86.9,294.3 L87.5,294.0 L88.0,293.3 L88.6,291.5 L89.2,292.3 L89.7,291.1 L90.3,290.8 L90.8,288.7 L91.4,290.5 L91.9,289.0 L92.5,288.3 L93.0,286.9 L93.6,286.4 L94.1,285.3 L94.7,286.9 L95.2,284.8 L95.8,285.1 L96.3,284.9 L96.9,283.7 L97.4,284.3 L98.0,284.8 L98.5,283.2 L99.1,283.7 L99.6,282.8 L100.2,281.7 L100.8,281.5 L101.3,280.3 L101.9,281.2 L102.4,281.9 L103.0,281.1 L103.5,280.9 L104.1,280.8 L104.6,279.4 L105.2,279.9 L105.7,280.6 L106.3,278.5 L106.8,278.8 L107.4,278.2 L107.9,278.1 L108.5,277.5 L109.0,277.7 L109.6,276.6 L110.1,276.9 L110.7,276.7 L111.3,276.5 L111.8,277.5 L112.4,276.4 L112.9,276.2 L113.5,275.6 L114.0,276.5 L114.6,274.1 L115.1,275.0 L115.7,275.6 L116.2,275.7 L116.8,274.5 L117.3,274.1 L117.9,274.3 L118.4,273.5 L119.0,273.8 L119.5,272.7 L120.1,273.4 L120.6,272.7 L121.2,271.7 L121.7,270.4 L122.3,272.7 L122.9,272.1 L123.4,272.1 L124.0,270.8 L124.5,271.9 L125.1,271.3 L125.6,270.8 L126.2,271.2 L126.7,271.0 L127.3,270.5 L127.8,271.5 L128.4,270.8 L128.9,270.0 L129.5,269.4 L130.0,269.5 L130.6,270.4 L131.1,269.4 L131.7,268.3 L132.2,268.4 L132.8,268.7 L133.4,269.1 L133.9,267.9 L134.5,268.6 L135.0,268.9 L135.6,268.6 L136.1,266.9 L136.7,267.6 L137.2,266.9 L137.8,267.9 L138.3,266.8 L138.9,267.8 L139.4,267.4 L140.0,265.5 L140.5,266.6 L141.1,267.4 L141.6,267.0 L142.2,266.6 L142.7,265.9 L143.3,267.0 L143.8,267.8 L144.4,266.8 L145.0,266.5 L145.5,266.3 L146.1,265.4 L146.6,266.1 L147.2,265.7 L147.7,266.9 L148.3,265.5 L148.8,264.6 L149.4,265.5 L149.9,265.8 L150.5,265.8 L151.0,264.6 L151.6,266.5 L152.1,265.8 L152.7,265.4 L153.2,265.2 L153.8,265.9 L154.3,265.4 L154.9,265.8 L155.5,265.4 L156.0,265.6 L156.6,266.3 L157.1,265.4 L157.7,264.8 L158.2,266.0 L158.8,265.5 L159.3,264.8 L159.9,266.0 L160.4,265.1 L161.0,266.0 L161.5,264.4 L162.1,263.6 L162.6,263.8 L163.2,265.3 L163.7,264.6 L164.3,265.0 L164.8,265.0 L165.4,264.0 L165.9,266.0 L166.5,264.3 L167.1,265.1 L167.1,267.0 L167.1,267.1 L167.6,268.8 L168.2,270.2 L168.7,270.4 L169.3,270.8 L169.8,272.1 L170.4,272.6 L170.9,274.0 L171.5,275.9 L172.0,274.5 L172.6,275.4 L173.1,276.5 L173.7,277.2 L174.2,277.2 L174.8,279.0 L175.3,279.8 L175.9,280.1 L176.4,279.8 L177.0,282.2 L177.5,281.1 L178.1,283.0 L178.7,283.9 L179.2,282.9 L179.8,284.4 L180.3,285.8 L180.9,285.8 L181.4,285.4 L182.0,285.8 L182.5,287.5 L183.1,287.5 L183.6,287.8 L184.2,289.3 L184.7,289.1 L185.3,289.9 L185.8,290.8 L186.4,291.2 L186.9,291.4 L187.5,291.9 L188.0,292.8 L188.6,293.2 L189.2,292.6 L189.7,293.7 L190.3,293.7 L190.8,293.9 L191.4,294.8 L191.9,294.0 L192.5,296.7 L193.0,295.9 L193.6,297.2 L194.1,296.1 L194.7,296.6 L195.2,299.6 L195.8,299.3 L196.3,298.6 L196.9,298.9 L197.4,299.3 L198.0,300.3 L198.5,300.3 L199.1,300.5 L199.6,301.4 L200.2,301.0 L200.8,303.7 L201.3,302.0 L201.9,303.6 L202.4,302.5 L203.0,303.7 L203.5,304.5 L204.1,304.0 L204.6,305.2 L205.2,305.6 L205.7,306.4 L206.3,305.6 L206.8,305.6 L207.4,305.6 L207.9,306.7 L208.5,306.2 L209.0,307.2 L209.6,307.6 L210.1,307.4 L210.7,307.4 L211.3,308.7 L211.8,308.9 L212.4,309.2 L212.9,309.3 L213.5,310.3 L214.0,309.2 L214.6,310.5 L215.1,310.2 L215.7,311.4 L216.2,310.8 L216.8,311.1 L217.3,311.9 L217.9,310.5 L218.4,311.9 L219.0,311.2 L219.5,312.0 L220.1,313.4 L220.6,313.4 L221.2,313.1 L221.7,313.6 L222.3,313.9 L222.9,314.4 L223.4,315.7 L224.0,314.8 L224.5,316.5 L225.1,314.9 L225.6,315.9 L226.2,316.1 L226.7,316.0 L227.3,315.9 L227.8,317.3 L228.4,317.8 L228.9,317.5 L229.5,318.4 L230.0,317.9 L230.6,316.3 L231.1,318.4 L231.7,317.4 L232.2,319.0 L232.8,318.1 L233.4,318.7 L233.9,318.7 L234.5,318.5 L235.0,317.9 L235.6,319.2 L236.1,319.4 L236.7,320.4 L237.2,319.5 L237.8,320.3 L238.3,319.7 L238.9,320.5 L239.4,319.4 L240.0,322.2 L240.5,321.2 L241.1,320.6 L241.6,321.6 L242.2,322.1 L242.7,321.9 L243.3,322.9 L243.8,322.0 L244.4,320.6 L245.0,321.7 L245.5,323.4 L246.1,323.4 L246.6,323.3 L247.2,322.4 L247.7,323.9 L248.3,324.0 L248.8,323.0 L249.4,323.2 L249.9,324.2 L250.5,324.9 L251.0,325.4 L251.6,324.9 L252.1,326.2 L252.7,324.2 L253.2,325.3 L253.8,324.7 L254.3,323.9 L254.9,324.5 L255.5,326.3 L256.0,325.0 L256.6,325.0 L257.1,326.5 L257.7,326.8 L258.2,326.3 L258.8,327.5 L259.3,325.5 L259.9,328.3 L260.4,327.6 L261.0,327.1 L261.5,327.2 L262.1,327.1 L262.6,327.1 L263.2,327.6 L263.7,326.8 L264.3,329.2 L264.8,327.9 L265.4,328.5 L265.9,328.0 L266.5,328.1" stroke="#000" stroke-width="1.4" transform="translate(0,0.3)"/>
<path d="M66.5,345.6 L67.1,342.0 L67.6,338.1 L68.2,335.9 L68.7,334.4 L69.3,330.5 L69.8,328.6 L70.4,329.7 L70.9,327.0 L71.5,324.1 L72.0,324.1 L72.6,323.4 L73.1,322.7 L73.7,321.9 L74.2,320.8 L74.8,320.1 L75.3,318.4 L75.9,318.5 L76.4,317.8 L77.0,317.6 L77.5,316.2 L78.1,316.1 L78.7,315.1 L79.2,313.6 L79.8,313.6 L80.3,313.0 L80.9,312.6 L81.4,312.3 L82.0,312.0 L82.5,311.7 L83.1,310.5 L83.6,311.4 L84.2,309.3 L84.7,309.8 L85.3,310.0 L85.8,309.5 L86.4,309.2 L86.9,308.3 L87.5,308.6 L88.0,307.0 L88.6,308.0 L89.2,308.7 L89.7,307.3 L90.3,307.9 L90.8,306.2 L91.4,305.2 L91.9,305.2 L92.5,306.3 L93.0,305.6 L93.6,303.6 L94.1,304.3 L94.7,304.3 L95.2,303.3 L95.8,302.1 L96.3,302.6 L96.9,303.2 L97.4,302.8 L98.0,302.4 L98.5,303.0 L99.1,303.1 L99.6,302.0 L100.2,302.5 L100.8,301.6 L101.3,301.3 L101.9,299.5 L102.4,301.5 L103.0,300.7 L103.5,300.5 L104.1,299.9 L104.6,299.2 L105.2,300.1 L105.7,300.1 L106.3,300.4 L106.8,299.7 L107.4,298.5 L107.9,298.6 L108.5,299.1 L109.0,298.5 L109.6,298.0 L110.1,297.4 L110.7,298.0 L111.3,297.6 L111.8,298.5 L112.4,297.8 L112.9,295.7 L113.5,298.2 L114.0,296.7 L114.6,296.2 L115.1,296.4 L115.7,296.5 L116.2,295.9 L116.8,295.7 L117.3,295.6 L117.9,296.7 L118.4,295.3 L119.0,295.7 L119.5,295.3 L120.1,294.6 L120.6,294.2 L121.2,293.9 L121.7,294.7 L122.3,293.6 L122.9,293.3 L123.4,293.2 L124.0,292.9 L124.5,293.9 L125.1,293.8 L125.6,292.9 L126.2,294.4 L126.7,293.1 L127.3,293.6 L127.8,293.3 L128.4,294.2 L128.9,293.5 L129.5,292.8 L130.0,292.0 L130.6,291.9 L131.1,292.5 L131.7,292.5 L132.2,292.9 L132.8,291.9 L133.4,292.3 L133.9,291.6 L134.5,290.7 L135.0,291.9 L135.6,292.8 L136.1,292.3 L136.7,292.6 L137.2,292.3 L137.8,290.5 L138.3,291.2 L138.9,292.3 L139.4,290.7 L140.0,290.2 L140.5,291.3 L141.1,291.5 L141.6,291.1 L142.2,290.6 L142.7,290.3 L143.3,289.9 L143.8,289.8 L144.4,289.7 L145.0,289.6 L145.5,290.0 L146.1,291.4 L146.6,290.4 L147.2,290.0 L147.7,290.5 L148.3,289.5 L148.8,290.3 L149.4,290.7 L149.9,289.0 L150.5,289.4 L151.0,289.7 L151.6,289.2 L152.1,289.0 L152.7,289.5 L153.2,291.4 L153.8,290.1 L154.3,289.9 L154.9,290.2 L155.5,289.3 L156.0,288.6 L156.6,289.7 L157.1,290.1 L157.7,287.9 L158.2,289.6 L158.8,290.1 L159.3,289.0 L159.9,288.9 L160.4,289.6 L161.0,288.5 L161.5,289.4 L162.1,289.7 L162.6,288.9 L163.2,288.4 L163.7,289.4 L164.3,288.7 L164.8,289.0 L165.4,286.9 L165.9,289.3 L166.5,287.9 L167.1,288.8 L167.1,292.8 L167.1,291.7 L167.6,293.0 L168.2,294.0 L168.7,294.4 L169.3,295.6 L169.8,296.7 L170.4,297.1 L170.9,296.7 L171.5,297.1 L172.0,296.9 L172.6,298.0 L173.1,297.9 L173.7,298.0 L174.2,299.3 L174.8,300.8 L175.3,301.0 L175.9,301.6 L176.4,299.8 L177.0,301.9 L177.5,300.8 L178.1,301.6 L178.7,301.2 L179.2,302.0 L179.8,303.1 L180.3,303.6 L180.9,303.7 L181.4,304.0 L182.0,304.8 L182.5,304.8 L183.1,304.0 L183.6,306.6 L184.2,305.6 L184.7,306.7 L185.3,306.3 L185.8,306.1 L186.4,307.1 L186.9,306.8 L187.5,308.8 L188.0,307.2 L188.6,308.7 L189.2,308.2 L189.7,308.8 L190.3,311.0 L190.8,310.0 L191.4,309.6 L191.9,309.0 L192.5,310.2 L193.0,310.5 L193.6,311.9 L194.1,310.2 L194.7,310.2 L195.2,311.8 L195.8,312.2 L196.3,313.5 L196.9,312.0 L197.4,311.0 L198.0,312.6 L198.5,312.5 L199.1,313.3 L199.6,314.6 L200.2,313.2 L200.8,315.3 L201.3,314.8 L201.9,314.7 L202.4,314.6 L203.0,315.1 L203.5,315.4 L204.1,316.5 L204.6,317.1 L205.2,316.4 L205.7,317.1 L206.3,317.8 L206.8,318.0 L207.4,317.7 L207.9,318.9 L208.5,318.7 L209.0,319.2 L209.6,318.1 L210.1,318.2 L210.7,317.3 L211.3,320.0 L211.8,319.6 L212.4,318.7 L212.9,319.7 L213.5,320.0 L214.0,318.8 L214.6,320.4 L215.1,321.2 L215.7,321.5 L216.2,320.6 L216.8,320.8 L217.3,322.1 L217.9,322.1 L218.4,321.2 L219.0,321.4 L219.5,322.4 L220.1,321.7 L220.6,321.9 L221.2,323.8 L221.7,322.9 L222.3,322.6 L222.9,323.5 L223.4,324.8 L224.0,323.6 L224.5,323.1 L225.1,322.7 L225.6,325.5 L226.2,322.3 L226.7,325.1 L227.3,323.8 L227.8,323.8 L228.4,324.1 L228.9,324.9 L229.5,326.0 L230.0,324.9 L230.6,326.0 L231.1,327.4 L231.7,323.8 L232.2,325.5 L232.8,324.9 L233.4,326.9 L233.9,325.4 L234.5,325.5 L235.0,325.7 L235.6,326.9 L236.1,327.9 L236.7,327.3 L237.2,328.9 L237.8,328.7 L238.3,327.6 L238.9,328.5 L239.4,328.0 L240.0,328.1 L240.5,326.9 L241.1,327.4 L241.6,328.5 L242.2,327.8 L242.7,329.3 L243.3,329.1 L243.8,328.4 L244.4,330.0 L245.0,329.5 L245.5,330.3 L246.1,329.5 L246.6,328.5 L247.2,330.3 L247.7,329.8 L248.3,330.7 L248.8,331.0 L249.4,331.2 L249.9,329.4 L250.5,328.9 L251.0,330.3 L251.6,331.3 L252.1,330.4 L252.7,331.3 L253.2,330.6 L253.8,331.0 L254.3,331.2 L254.9,331.0 L255.5,332.0 L256.0,332.0 L256.6,333.0 L257.1,332.2 L257.7,333.0 L258.2,332.2 L258.8,332.9 L259.3,332.3 L259.9,332.1 L260.4,333.5 L261.0,333.2 L261.5,333.4 L262.1,332.3 L262.6,331.8 L263.2,332.5 L263.7,333.4 L264.3,332.2 L264.8,334.4 L265.4,332.4 L265.9,334.0 L266.5,335.6" stroke="#000" stroke-width="1.4" transform="translate(0,0.3)"/>
<path d="M66.5,343.1 L67.1,341.6 L67.6,341.6 L68.2,339.1 L68.7,338.0 L69.3,336.6 L69.8,336.7 L70.4,335.2 L70.9,333.6 L71.5,333.0 L72.0,331.7 L72.6,331.8 L73.1,329.7 L73.7,331.3 L74.2,330.0 L74.8,331.1 L75.3,330.1 L75.9,327.8 L76.4,328.9 L77.0,327.4 L77.5,327.4 L78.1,327.6 L78.7,326.7 L79.2,326.4 L79.8,326.0 L80.3,324.7 L80.9,324.4 L81.4,324.9 L82.0,324.8 L82.5,323.6 L83.1,323.5 L83.6,322.4 L84.2,320.9 L84.7,321.9 L85.3,322.2 L85.8,322.0 L86.4,322.2 L86.9,322.0 L87.5,321.8 L88.0,321.1 L88.6,320.9 L89.2,319.9 L89.7,320.5 L90.3,320.1 L90.8,320.6 L91.4,318.4 L91.9,319.0 L92.5,317.9 L93.0,318.4 L93.6,317.7 L94.1,318.8 L94.7,317.9 L95.2,316.4 L95.8,318.9 L96.3,317.1 L96.9,316.6 L97.4,317.3 L98.0,316.9 L98.5,316.4 L99.1,317.6 L99.6,316.7 L100.2,317.4 L100.8,317.2 L101.3,317.0 L101.9,316.5 L102.4,316.1 L103.0,315.8 L103.5,317.0 L104.1,314.4 L104.6,314.8 L105.2,315.0 L105.7,315.6 L106.3,315.3 L106.8,314.7 L107.4,314.7 L107.9,316.1 L108.5,314.2 L109.0,312.5 L109.6,315.8 L110.1,313.6 L110.7,313.9 L111.3,314.2 L111.8,313.0 L112.4,314.7 L112.9,313.6 L113.5,312.6 L114.0,313.6 L114.6,313.7 L115.1,313.2 L115.7,313.5 L116.2,311.9 L116.8,313.6 L117.3,312.2 L117.9,313.6 L118.4,312.1 L119.0,312.6 L119.5,314.3 L120.1,312.3 L120.6,313.0 L121.2,312.4 L121.7,310.9 L122.3,312.7 L122.9,312.6 L123.4,310.7 L124.0,311.6 L124.5,310.5 L125.1,311.2 L125.6,312.0 L126.2,311.4 L126.7,310.4 L127.3,310.5 L127.8,311.1 L128.4,311.0 L128.9,311.0 L129.5,311.3 L130.0,309.4 L130.6,310.7 L131.1,311.5 L131.7,311.0 L132.2,310.0 L132.8,310.0 L133.4,310.6 L133.9,310.9 L134.5,310.3 L135.0,311.5 L135.6,311.2 L136.1,309.6 L136.7,310.5 L137.2,309.8 L137.8,309.2 L138.3,309.5 L138.9,310.0 L139.4,308.4 L140.0,309.4 L140.5,310.1 L141.1,309.3 L141.6,309.5 L142.2,310.4 L142.7,309.7 L143.3,309.8 L143.8,311.1 L144.4,309.7 L145.0,309.8 L145.5,309.9 L146.1,310.7 L146.6,309.7 L147.2,309.5 L147.7,309.4 L148.3,310.2 L148.8,308.9 L149.4,310.2 L149.9,309.5 L150.5,308.4 L151.0,309.8 L151.6,309.6 L152.1,308.5 L152.7,309.5 L153.2,309.4 L153.8,309.0 L154.3,308.4 L154.9,310.7 L155.5,309.7 L156.0,309.8 L156.6,309.9 L157.1,309.7 L157.7,309.7 L158.2,308.8 L158.8,309.7 L159.3,308.9 L159.9,308.7 L160.4,309.5 L161.0,308.9 L161.5,307.8 L162.1,308.7 L162.6,309.4 L163.2,309.0 L163.7,309.6 L164.3,308.7 L164.8,308.3 L165.4,309.5 L165.9,309.1 L166.5,308.1 L167.1,309.3 L167.1,313.9 L167.1,310.2 L167.6,311.3 L168.2,311.5 L168.7,311.5 L169.3,309.9 L169.8,312.0 L170.4,312.4 L170.9,312.7 L171.5,312.6 L172.0,312.3 L172.6,312.9 L173.1,311.9 L173.7,313.4 L174.2,312.8 L174.8,313.9 L175.3,313.9 L175.9,315.6 L176.4,314.9 L177.0,315.2 L177.5,315.5 L178.1,317.1 L178.7,315.2 L179.2,316.4 L179.8,316.6 L180.3,316.7 L180.9,316.9 L181.4,316.7 L182.0,318.1 L182.5,318.1 L183.1,317.5 L183.6,317.8 L184.2,318.4 L184.7,318.8 L185.3,319.2 L185.8,318.9 L186.4,318.2 L186.9,320.0 L187.5,318.4 L188.0,319.1 L188.6,320.2 L189.2,319.5 L189.7,321.3 L190.3,321.7 L190.8,321.6 L191.4,321.2 L191.9,321.3 L192.5,321.6 L193.0,321.4 L193.6,323.2 L194.1,321.5 L194.7,323.0 L195.2,322.7 L195.8,322.7 L196.3,323.4 L196.9,323.8 L197.4,323.7 L198.0,323.2 L198.5,322.9 L199.1,323.1 L199.6,324.4 L200.2,324.4 L200.8,324.7 L201.3,323.9 L201.9,325.8 L202.4,323.7 L203.0,325.1 L203.5,325.4 L204.1,324.8 L204.6,324.5 L205.2,325.1 L205.7,324.8 L206.3,325.6 L206.8,325.0 L207.4,325.2 L207.9,326.3 L208.5,325.3 L209.0,326.4 L209.6,326.6 L210.1,327.4 L210.7,327.1 L211.3,326.5 L211.8,328.2 L212.4,326.9 L212.9,327.3 L213.5,327.5 L214.0,329.4 L214.6,328.0 L215.1,327.6 L215.7,328.8 L216.2,328.3 L216.8,330.2 L217.3,328.2 L217.9,329.2 L218.4,328.3 L219.0,330.3 L219.5,328.7 L220.1,329.5 L220.6,328.9 L221.2,330.2 L221.7,330.1 L222.3,328.3 L222.9,330.5 L223.4,330.6 L224.0,330.4 L224.5,331.0 L225.1,329.6 L225.6,329.3 L226.2,331.2 L226.7,332.0 L227.3,330.1 L227.8,330.2 L228.4,330.6 L228.9,330.4 L229.5,332.0 L230.0,331.6 L230.6,332.6 L231.1,332.7 L231.7,331.1 L232.2,332.4 L232.8,330.4 L233.4,332.1 L233.9,332.7 L234.5,331.8 L235.0,331.2 L235.6,332.2 L236.1,333.5 L236.7,332.5 L237.2,331.9 L237.8,333.3 L238.3,333.6 L238.9,332.4 L239.4,333.2 L240.0,334.1 L240.5,333.7 L241.1,334.1 L241.6,333.4 L242.2,333.6 L242.7,333.0 L243.3,333.4 L243.8,335.1 L244.4,333.8 L245.0,333.6 L245.5,334.0 L246.1,333.6 L246.6,334.8 L247.2,335.2 L247.7,334.0 L248.3,335.5 L248.8,336.3 L249.4,334.2 L249.9,335.5 L250.5,335.3 L251.0,336.1 L251.6,336.1 L252.1,336.1 L252.7,335.6 L253.2,335.2 L253.8,337.1 L254.3,335.1 L254.9,336.5 L255.5,336.5 L256.0,335.4 L256.6,336.0 L257.1,337.1 L257.7,334.8 L258.2,336.7 L258.8,336.0 L259.3,336.1 L259.9,335.4 L260.4,336.7 L261.0,335.8 L261.5,337.1 L262.1,335.8 L262.6,337.2 L263.2,337.0 L263.7,335.5 L264.3,336.7 L264.8,336.9 L265.4,335.5 L265.9,336.8 L266.5,337.7" stroke="#000" stroke-width="1.4" transform="translate(0,0.3)"/>
<path d="M66.5,345.0 L66.8,342.9 L67.1,340.9 L67.3,338.6 L67.6,336.3 L67.9,333.9 L68.2,331.5 L68.4,329.0 L68.7,326.6 L69.0,324.2 L69.3,321.8 L69.5,319.4 L69.8,317.1 L70.1,314.8 L70.4,312.4 L70.6,310.1 L70.9,307.8 L71.2,305.4 L71.5,303.0 L71.7,300.5 L72.0,298.1 L72.3,295.6 L72.6,293.1 L72.9,290.7 L73.1,288.2 L73.4,285.7 L73.7,283.2 L74.0,280.8 L74.2,278.5 L74.5,276.2 L74.8,273.9 L75.1,271.8 L75.3,269.8 L75.6,267.9 L75.9,266.0 L76.2,264.4 L76.4,262.8 L76.7,261.3 L77.0,259.9 L77.3,258.6 L77.5,257.4 L78.9,252.5 L80.3,249.0 L81.7,246.3 L83.1,244.3 L84.5,242.7 L85.8,241.3 L87.2,240.3 L88.6,239.3 L90.0,238.6 L91.4,237.9 L92.7,237.3 L94.1,236.7 L95.5,236.3 L96.9,235.8 L98.3,235.5 L99.6,235.2 L101.0,234.9 L102.4,234.6 L103.8,234.4 L105.2,234.2 L106.6,234.0 L107.9,233.8 L109.3,233.7 L110.7,233.6 L112.1,233.4 L113.5,233.3 L114.8,233.2 L116.2,233.1 L117.6,233.0 L119.0,232.9 L120.4,232.8 L121.7,232.8 L123.1,232.7 L124.5,232.6 L125.9,232.5 L127.3,232.5 L128.7,232.4 L130.0,232.4 L131.4,232.3 L132.8,232.2 L134.2,232.2 L135.6,232.1 L136.9,232.1 L138.3,232.1 L139.7,232.0 L141.1,232.0 L142.5,231.9 L143.8,231.9 L145.2,231.9 L146.6,231.8 L148.0,231.8 L149.4,231.8 L150.8,231.7 L152.1,231.7 L153.5,231.7 L154.9,231.7 L156.3,231.6 L157.7,231.6 L159.0,231.6 L160.4,231.6 L161.8,231.6 L163.2,231.6 L164.6,231.6 L165.9,231.5 L167.1,231.5 L167.1,231.4 L167.6,232.5 L168.2,233.5 L168.7,234.6 L169.3,235.7 L169.8,236.7 L170.4,237.7 L170.9,238.8 L171.5,239.8 L172.0,240.8 L172.6,241.8 L173.1,242.7 L173.7,243.7 L174.2,244.7 L174.8,245.6 L175.3,246.5 L175.9,247.5 L176.4,248.4 L177.0,249.3 L177.5,250.2 L178.1,251.1 L178.7,252.0 L179.2,252.8 L179.8,253.7 L180.3,254.5 L180.9,255.4 L181.4,256.2 L182.0,257.0 L182.5,257.8 L183.1,258.6 L183.6,259.4 L185.3,261.8 L186.9,264.0 L188.6,266.2 L190.3,268.3 L191.9,270.4 L193.6,272.4 L195.2,274.3 L196.9,276.1 L198.5,277.9 L200.2,279.7 L201.9,281.4 L203.5,283.0 L205.2,284.6 L206.8,286.1 L208.5,287.6 L210.1,289.0 L211.8,290.4 L213.5,291.7 L215.1,293.0 L216.8,294.3 L218.4,295.5 L220.1,296.7 L221.7,297.8 L223.4,298.9 L225.1,300.0 L226.7,301.0 L228.4,302.0 L230.0,303.0 L231.7,303.9 L233.4,304.8 L235.0,305.7 L236.7,306.6 L238.3,307.4 L240.0,308.2 L241.6,309.0 L243.3,309.7 L245.0,310.4 L246.6,311.1 L248.3,311.8 L249.9,312.5 L251.6,313.1 L253.2,313.7 L254.9,314.3 L256.6,314.9 L258.2,315.4 L259.9,316.0 L261.5,316.5 L263.2,317.0 L264.8,317.5 L266.5,318.0" stroke="#f01a1a" stroke-width="1.25"/>
<path d="M66.5,345.0 L66.8,343.9 L67.1,342.8 L67.3,341.6 L67.6,340.2 L67.9,338.8 L68.2,337.3 L68.4,335.7 L68.7,334.1 L69.0,332.5 L69.3,331.0 L69.5,329.4 L69.8,327.8 L70.1,326.3 L70.4,324.7 L70.6,323.2 L70.9,321.8 L71.2,320.3 L71.5,318.9 L71.7,317.5 L72.0,316.1 L72.3,314.7 L72.6,313.4 L72.9,312.0 L73.1,310.6 L73.4,309.2 L73.7,307.8 L74.0,306.4 L74.2,304.9 L74.5,303.4 L74.8,302.0 L75.1,300.5 L75.3,299.1 L75.6,297.6 L75.9,296.2 L76.2,294.9 L76.4,293.6 L76.7,292.4 L77.0,291.2 L77.3,290.1 L77.5,289.0 L78.9,284.7 L80.3,281.4 L81.7,278.5 L83.1,275.7 L84.5,273.0 L85.8,270.5 L87.2,268.2 L88.6,266.3 L90.0,264.6 L91.4,263.1 L92.7,261.9 L94.1,260.7 L95.5,259.7 L96.9,258.8 L98.3,258.0 L99.6,257.2 L101.0,256.5 L102.4,255.9 L103.8,255.3 L105.2,254.7 L106.6,254.1 L107.9,253.6 L109.3,253.1 L110.7,252.7 L112.1,252.2 L113.5,251.7 L114.8,251.3 L116.2,250.8 L117.6,250.4 L119.0,250.0 L120.4,249.6 L121.7,249.2 L123.1,248.9 L124.5,248.5 L125.9,248.2 L127.3,247.9 L128.7,247.6 L130.0,247.4 L131.4,247.2 L132.8,247.0 L134.2,246.8 L135.6,246.7 L136.9,246.5 L138.3,246.4 L139.7,246.3 L141.1,246.2 L142.5,246.1 L143.8,246.0 L145.2,245.9 L146.6,245.8 L148.0,245.8 L149.4,245.7 L150.8,245.7 L152.1,245.6 L153.5,245.6 L154.9,245.5 L156.3,245.5 L157.7,245.5 L159.0,245.4 L160.4,245.4 L161.8,245.4 L163.2,245.4 L164.6,245.3 L165.9,245.3 L167.1,245.3 L167.1,245.2 L167.6,246.6 L168.2,248.0 L168.7,249.3 L169.3,250.5 L169.8,251.7 L170.4,252.8 L170.9,253.9 L171.5,254.9 L172.0,255.9 L172.6,256.9 L173.1,257.8 L173.7,258.7 L174.2,259.6 L174.8,260.4 L175.3,261.3 L175.9,262.1 L176.4,262.9 L177.0,263.6 L177.5,264.4 L178.1,265.1 L178.7,265.8 L179.2,266.5 L179.8,267.2 L180.3,267.9 L180.9,268.6 L181.4,269.2 L182.0,269.9 L182.5,270.5 L183.1,271.1 L183.6,271.7 L185.3,273.5 L186.9,275.3 L188.6,276.9 L190.3,278.5 L191.9,280.1 L193.6,281.6 L195.2,283.1 L196.9,284.5 L198.5,285.9 L200.2,287.3 L201.9,288.6 L203.5,289.9 L205.2,291.2 L206.8,292.4 L208.5,293.6 L210.1,294.8 L211.8,295.9 L213.5,297.1 L215.1,298.1 L216.8,299.2 L218.4,300.3 L220.1,301.3 L221.7,302.3 L223.4,303.3 L225.1,304.2 L226.7,305.2 L228.4,306.1 L230.0,307.0 L231.7,307.8 L233.4,308.7 L235.0,309.5 L236.7,310.3 L238.3,311.1 L240.0,311.9 L241.6,312.7 L243.3,313.4 L245.0,314.1 L246.6,314.8 L248.3,315.5 L249.9,316.2 L251.6,316.8 L253.2,317.5 L254.9,318.1 L256.6,318.7 L258.2,319.3 L259.9,319.9 L261.5,320.5 L263.2,321.1 L264.8,321.6 L266.5,322.1" stroke="#f01a1a" stroke-width="1.25"/>
<path d="M66.5,345.0 L66.8,343.3 L67.1,341.7 L67.3,340.1 L67.6,338.7 L67.9,337.4 L68.2,336.1 L68.4,334.8 L68.7,333.6 L69.0,332.5 L69.3,331.4 L69.5,330.4 L69.8,329.4 L70.1,328.4 L70.4,327.5 L70.6,326.5 L70.9,325.7 L71.2,324.8 L71.5,324.0 L71.7,323.2 L72.0,322.4 L72.3,321.7 L72.6,320.9 L72.9,320.2 L73.1,319.5 L73.4,318.8 L73.7,318.2 L74.0,317.5 L74.2,316.9 L74.5,316.3 L74.8,315.7 L75.1,315.1 L75.3,314.5 L75.6,313.9 L75.9,313.4 L76.2,312.8 L76.4,312.3 L76.7,311.8 L77.0,311.2 L77.3,310.7 L77.5,310.2 L78.9,307.8 L80.3,305.5 L81.7,303.3 L83.1,301.0 L84.5,298.8 L85.8,296.7 L87.2,294.6 L88.6,292.6 L90.0,290.8 L91.4,289.1 L92.7,287.6 L94.1,286.3 L95.5,285.1 L96.9,284.1 L98.3,283.1 L99.6,282.3 L101.0,281.5 L102.4,280.8 L103.8,280.1 L105.2,279.5 L106.6,278.8 L107.9,278.2 L109.3,277.6 L110.7,277.0 L112.1,276.4 L113.5,275.8 L114.8,275.2 L116.2,274.5 L117.6,273.9 L119.0,273.3 L120.4,272.8 L121.7,272.2 L123.1,271.7 L124.5,271.1 L125.9,270.6 L127.3,270.2 L128.7,269.7 L130.0,269.3 L131.4,269.0 L132.8,268.6 L134.2,268.3 L135.6,268.0 L136.9,267.7 L138.3,267.5 L139.7,267.2 L141.1,267.0 L142.5,266.8 L143.8,266.6 L145.2,266.5 L146.6,266.3 L148.0,266.1 L149.4,266.0 L150.8,265.9 L152.1,265.8 L153.5,265.7 L154.9,265.6 L156.3,265.5 L157.7,265.4 L159.0,265.3 L160.4,265.3 L161.8,265.2 L163.2,265.2 L164.6,265.1 L165.9,265.1 L167.1,265.0 L167.1,268.1 L167.6,269.0 L168.2,269.8 L168.7,270.6 L169.3,271.4 L169.8,272.1 L170.4,272.9 L170.9,273.7 L171.5,274.4 L172.0,275.1 L172.6,275.9 L173.1,276.6 L173.7,277.3 L174.2,278.0 L174.8,278.6 L175.3,279.3 L175.9,280.0 L176.4,280.6 L177.0,281.3 L177.5,281.9 L178.1,282.5 L178.7,283.1 L179.2,283.7 L179.8,284.3 L180.3,284.9 L180.9,285.5 L181.4,286.1 L182.0,286.6 L182.5,287.2 L183.1,287.7 L183.6,288.3 L185.3,289.9 L186.9,291.4 L188.6,292.9 L190.3,294.3 L191.9,295.6 L193.6,296.9 L195.2,298.2 L196.9,299.4 L198.5,300.6 L200.2,301.7 L201.9,302.8 L203.5,303.9 L205.2,304.9 L206.8,305.9 L208.5,306.9 L210.1,307.9 L211.8,308.8 L213.5,309.6 L215.1,310.5 L216.8,311.3 L218.4,312.1 L220.1,312.9 L221.7,313.7 L223.4,314.4 L225.1,315.1 L226.7,315.9 L228.4,316.5 L230.0,317.2 L231.7,317.8 L233.4,318.5 L235.0,319.1 L236.7,319.7 L238.3,320.3 L240.0,320.8 L241.6,321.4 L243.3,321.9 L245.0,322.5 L246.6,323.0 L248.3,323.5 L249.9,324.0 L251.6,324.4 L253.2,324.9 L254.9,325.4 L256.6,325.8 L258.2,326.2 L259.9,326.7 L261.5,327.1 L263.2,327.5 L264.8,327.9 L266.5,328.2" stroke="#f01a1a" stroke-width="1.25"/>
<path d="M66.5,345.0 L66.8,343.2 L67.1,341.5 L67.3,340.0 L67.6,338.6 L67.9,337.3 L68.2,336.1 L68.4,335.0 L68.7,333.9 L69.0,332.9 L69.3,332.0 L69.5,331.1 L69.8,330.2 L70.1,329.4 L70.4,328.6 L70.6,327.9 L70.9,327.2 L71.2,326.5 L71.5,325.9 L71.7,325.3 L72.0,324.7 L72.3,324.1 L72.6,323.6 L72.9,323.0 L73.1,322.5 L73.4,322.0 L73.7,321.5 L74.0,321.1 L74.2,320.6 L74.5,320.2 L74.8,319.8 L75.1,319.3 L75.3,318.9 L75.6,318.6 L75.9,318.2 L76.2,317.8 L76.4,317.5 L76.7,317.1 L77.0,316.8 L77.3,316.4 L77.5,316.1 L78.9,314.7 L80.3,313.3 L81.7,312.2 L83.1,311.1 L84.5,310.1 L85.8,309.1 L87.2,308.3 L88.6,307.4 L90.0,306.7 L91.4,305.9 L92.7,305.2 L94.1,304.6 L95.5,303.9 L96.9,303.3 L98.3,302.7 L99.6,302.1 L101.0,301.5 L102.4,300.9 L103.8,300.3 L105.2,299.7 L106.6,299.2 L107.9,298.6 L109.3,298.1 L110.7,297.6 L112.1,297.1 L113.5,296.7 L114.8,296.2 L116.2,295.8 L117.6,295.4 L119.0,295.1 L120.4,294.7 L121.7,294.4 L123.1,294.1 L124.5,293.7 L125.9,293.5 L127.3,293.2 L128.7,292.9 L130.0,292.7 L131.4,292.4 L132.8,292.2 L134.2,292.0 L135.6,291.8 L136.9,291.5 L138.3,291.4 L139.7,291.2 L141.1,291.0 L142.5,290.8 L143.8,290.6 L145.2,290.5 L146.6,290.3 L148.0,290.2 L149.4,290.0 L150.8,289.9 L152.1,289.8 L153.5,289.6 L154.9,289.5 L156.3,289.4 L157.7,289.3 L159.0,289.2 L160.4,289.1 L161.8,289.0 L163.2,289.0 L164.6,288.9 L165.9,288.8 L167.1,288.8 L167.1,291.6 L167.6,293.5 L168.2,294.6 L168.7,295.3 L169.3,295.8 L169.8,296.3 L170.4,296.7 L170.9,297.1 L171.5,297.5 L172.0,297.9 L172.6,298.3 L173.1,298.7 L173.7,299.0 L174.2,299.4 L174.8,299.8 L175.3,300.2 L175.9,300.6 L176.4,300.9 L177.0,301.3 L177.5,301.6 L178.1,302.0 L178.7,302.4 L179.2,302.7 L179.8,303.1 L180.3,303.4 L180.9,303.8 L181.4,304.1 L182.0,304.4 L182.5,304.8 L183.1,305.1 L183.6,305.4 L185.3,306.4 L186.9,307.4 L188.6,308.3 L190.3,309.2 L191.9,310.1 L193.6,310.9 L195.2,311.8 L196.9,312.6 L198.5,313.4 L200.2,314.2 L201.9,314.9 L203.5,315.7 L205.2,316.4 L206.8,317.1 L208.5,317.8 L210.1,318.5 L211.8,319.1 L213.5,319.8 L215.1,320.4 L216.8,321.0 L218.4,321.6 L220.1,322.2 L221.7,322.7 L223.4,323.3 L225.1,323.8 L226.7,324.3 L228.4,324.8 L230.0,325.3 L231.7,325.8 L233.4,326.3 L235.0,326.8 L236.7,327.2 L238.3,327.6 L240.0,328.1 L241.6,328.5 L243.3,328.9 L245.0,329.3 L246.6,329.7 L248.3,330.1 L249.9,330.4 L251.6,330.8 L253.2,331.1 L254.9,331.5 L256.6,331.8 L258.2,332.1 L259.9,332.4 L261.5,332.8 L263.2,333.1 L264.8,333.4 L266.5,333.6" stroke="#f01a1a" stroke-width="1.25"/>
<path d="M66.5,345.0 L66.8,343.8 L67.1,342.7 L67.3,341.7 L67.6,340.8 L67.9,340.0 L68.2,339.2 L68.4,338.5 L68.7,337.9 L69.0,337.2 L69.3,336.7 L69.5,336.1 L69.8,335.6 L70.1,335.1 L70.4,334.7 L70.6,334.3 L70.9,333.9 L71.2,333.5 L71.5,333.2 L71.7,332.8 L72.0,332.5 L72.3,332.2 L72.6,331.9 L72.9,331.6 L73.1,331.3 L73.4,331.0 L73.7,330.8 L74.0,330.5 L74.2,330.2 L74.5,330.0 L74.8,329.7 L75.1,329.5 L75.3,329.2 L75.6,329.0 L75.9,328.7 L76.2,328.5 L76.4,328.3 L76.7,328.0 L77.0,327.8 L77.3,327.6 L77.5,327.4 L78.9,326.3 L80.3,325.3 L81.7,324.3 L83.1,323.4 L84.5,322.6 L85.8,321.9 L87.2,321.2 L88.6,320.6 L90.0,320.1 L91.4,319.5 L92.7,319.1 L94.1,318.6 L95.5,318.2 L96.9,317.8 L98.3,317.4 L99.6,317.0 L101.0,316.6 L102.4,316.2 L103.8,315.9 L105.2,315.5 L106.6,315.2 L107.9,314.9 L109.3,314.5 L110.7,314.2 L112.1,313.9 L113.5,313.6 L114.8,313.3 L116.2,313.0 L117.6,312.8 L119.0,312.5 L120.4,312.3 L121.7,312.0 L123.1,311.8 L124.5,311.6 L125.9,311.4 L127.3,311.2 L128.7,311.0 L130.0,310.8 L131.4,310.7 L132.8,310.5 L134.2,310.4 L135.6,310.2 L136.9,310.1 L138.3,310.0 L139.7,309.9 L141.1,309.8 L142.5,309.7 L143.8,309.6 L145.2,309.6 L146.6,309.5 L148.0,309.4 L149.4,309.4 L150.8,309.3 L152.1,309.2 L153.5,309.2 L154.9,309.1 L156.3,309.1 L157.7,309.1 L159.0,309.0 L160.4,309.0 L161.8,309.0 L163.2,308.9 L164.6,308.9 L165.9,308.9 L167.1,308.9 L167.1,310.3 L167.6,310.6 L168.2,310.9 L168.7,311.2 L169.3,311.4 L169.8,311.7 L170.4,312.0 L170.9,312.3 L171.5,312.5 L172.0,312.8 L172.6,313.1 L173.1,313.3 L173.7,313.6 L174.2,313.8 L174.8,314.1 L175.3,314.4 L175.9,314.6 L176.4,314.9 L177.0,315.1 L177.5,315.4 L178.1,315.6 L178.7,315.8 L179.2,316.1 L179.8,316.3 L180.3,316.6 L180.9,316.8 L181.4,317.0 L182.0,317.3 L182.5,317.5 L183.1,317.7 L183.6,317.9 L185.3,318.6 L186.9,319.2 L188.6,319.9 L190.3,320.5 L191.9,321.1 L193.6,321.7 L195.2,322.2 L196.9,322.8 L198.5,323.3 L200.2,323.9 L201.9,324.4 L203.5,324.9 L205.2,325.4 L206.8,325.9 L208.5,326.3 L210.1,326.8 L211.8,327.2 L213.5,327.7 L215.1,328.1 L216.8,328.5 L218.4,328.9 L220.1,329.3 L221.7,329.7 L223.4,330.1 L225.1,330.4 L226.7,330.8 L228.4,331.1 L230.0,331.5 L231.7,331.8 L233.4,332.1 L235.0,332.4 L236.7,332.8 L238.3,333.1 L240.0,333.3 L241.6,333.6 L243.3,333.9 L245.0,334.2 L246.6,334.4 L248.3,334.7 L249.9,335.0 L251.6,335.2 L253.2,335.4 L254.9,335.7 L256.6,335.9 L258.2,336.1 L259.9,336.3 L261.5,336.6 L263.2,336.8 L264.8,337.0 L266.5,337.2" stroke="#f01a1a" stroke-width="1.25"/>
</g>
<g clip-path="url(#c5)" fill="none" stroke-linejoin="round">
<path d="M313.0,345.3 L313.6,335.3 L314.1,322.3 L314.7,312.0 L315.2,303.8 L315.8,294.2 L316.3,284.0 L316.9,275.2 L317.4,268.3 L318.0,260.3 L318.5,257.3 L319.1,251.4 L319.6,247.4 L320.2,243.8 L320.7,240.2 L321.3,238.9 L321.8,235.0 L322.4,233.7 L322.9,232.4 L323.5,231.6 L324.0,230.2 L324.6,227.7 L325.2,228.0 L325.7,226.3 L326.3,224.7 L326.8,224.0 L327.4,223.0 L327.9,224.1 L328.5,224.3 L329.0,222.0 L329.6,222.2 L330.1,221.1 L330.7,221.8 L331.2,220.4 L331.8,220.4 L332.3,220.2 L332.9,220.1 L333.4,219.8 L334.0,219.7 L334.5,219.4 L335.1,218.4 L335.7,219.5 L336.2,217.2 L336.8,218.6 L337.3,217.3 L337.9,218.1 L338.4,218.0 L339.0,215.7 L339.5,217.6 L340.1,218.2 L340.6,217.5 L341.2,217.0 L341.7,214.6 L342.3,216.2 L342.8,215.5 L343.4,217.1 L343.9,215.8 L344.5,215.5 L345.0,214.4 L345.6,216.5 L346.1,215.3 L346.7,215.5 L347.3,216.6 L347.8,215.6 L348.4,215.8 L348.9,217.6 L349.5,214.9 L350.0,214.9 L350.6,215.7 L351.1,216.5 L351.7,213.9 L352.2,214.9 L352.8,214.2 L353.3,213.8 L353.9,215.6 L354.4,214.3 L355.0,215.3 L355.5,215.1 L356.1,215.1 L356.6,215.1 L357.2,214.1 L357.8,215.0 L358.3,215.3 L358.9,215.4 L359.4,214.9 L360.0,216.1 L360.5,215.8 L361.1,215.4 L361.6,216.0 L362.2,215.6 L362.7,216.1 L363.3,213.8 L363.8,214.5 L364.4,215.4 L364.9,215.9 L365.5,214.0 L366.0,215.7 L366.6,216.2 L367.1,215.9 L367.7,216.0 L368.2,215.1 L368.8,216.4 L369.4,214.6 L369.9,217.4 L370.5,216.0 L371.0,217.7 L371.6,215.2 L372.1,217.3 L372.7,217.1 L373.2,216.4 L373.8,216.2 L374.3,218.4 L374.9,217.9 L375.4,218.9 L376.0,217.7 L376.5,218.0 L377.1,218.4 L377.6,218.8 L378.2,218.6 L378.7,219.1 L379.3,218.1 L379.9,217.3 L380.4,220.5 L381.0,219.0 L381.5,219.4 L382.1,218.7 L382.6,220.1 L383.2,219.5 L383.7,220.4 L384.3,218.9 L384.8,219.6 L385.4,219.9 L385.9,219.6 L386.5,220.2 L387.0,221.5 L387.6,219.7 L388.1,220.1 L388.7,220.6 L389.2,219.7 L389.8,219.6 L390.3,221.8 L390.9,221.6 L391.5,219.6 L392.0,219.8 L392.6,221.9 L393.1,222.4 L393.7,222.0 L394.2,221.9 L394.8,223.0 L395.3,221.6 L395.9,222.9 L396.4,222.9 L397.0,221.1 L397.5,222.6 L398.1,222.1 L398.6,221.5 L399.2,221.5 L399.7,222.6 L400.3,222.3 L400.8,223.1 L401.4,220.9 L402.0,222.0 L402.5,223.6 L403.1,222.7 L403.6,222.1 L404.2,222.4 L404.7,221.3 L405.3,221.8 L405.8,223.6 L406.4,223.3 L406.9,224.4 L407.5,223.1 L408.0,223.3 L408.6,221.1 L409.1,223.6 L409.7,225.7 L410.2,224.5 L410.8,223.9 L411.3,225.2 L411.9,225.0 L412.4,224.6 L413.0,224.1 L413.6,224.7 L414.1,225.4 L414.1,222.6 L414.1,217.4 L414.7,224.2 L415.2,229.5 L415.8,235.2 L416.3,239.3 L416.9,242.3 L417.4,248.4 L418.0,250.9 L418.5,253.7 L419.1,258.0 L419.6,260.6 L420.2,264.8 L420.7,265.4 L421.3,268.2 L421.8,271.5 L422.4,275.6 L422.9,277.2 L423.5,277.4 L424.0,278.8 L424.6,281.9 L425.2,282.9 L425.7,286.2 L426.3,287.5 L426.8,288.8 L427.4,289.9 L427.9,293.1 L428.5,292.2 L429.0,293.2 L429.6,296.7 L430.1,298.1 L430.7,297.7 L431.2,299.7 L431.8,302.3 L432.3,300.5 L432.9,302.1 L433.4,303.6 L434.0,302.2 L434.5,304.9 L435.1,306.5 L435.7,306.6 L436.2,308.5 L436.8,309.0 L437.3,308.8 L437.9,310.4 L438.4,311.0 L439.0,309.8 L439.5,311.3 L440.1,312.0 L440.6,312.9 L441.2,313.6 L441.7,313.3 L442.3,315.3 L442.8,314.2 L443.4,317.3 L443.9,317.3 L444.5,318.8 L445.0,318.5 L445.6,318.2 L446.1,317.9 L446.7,320.3 L447.3,320.2 L447.8,321.1 L448.4,321.9 L448.9,322.8 L449.5,322.1 L450.0,324.2 L450.6,323.0 L451.1,323.5 L451.7,324.5 L452.2,325.2 L452.8,326.0 L453.3,323.5 L453.9,326.7 L454.4,324.5 L455.0,325.8 L455.5,327.0 L456.1,328.1 L456.6,326.5 L457.2,326.2 L457.8,328.9 L458.3,328.7 L458.9,327.8 L459.4,328.8 L460.0,327.6 L460.5,330.2 L461.1,329.5 L461.6,331.4 L462.2,328.7 L462.7,331.6 L463.3,333.2 L463.8,331.6 L464.4,331.9 L464.9,330.3 L465.5,332.6 L466.0,332.5 L466.6,332.2 L467.1,331.6 L467.7,333.3 L468.2,332.6 L468.8,333.3 L469.4,334.2 L469.9,334.1 L470.5,334.4 L471.0,335.5 L471.6,333.8 L472.1,336.3 L472.7,334.2 L473.2,334.6 L473.8,335.7 L474.3,336.5 L474.9,336.2 L475.4,335.8 L476.0,335.7 L476.5,336.3 L477.1,335.9 L477.6,337.4 L478.2,336.9 L478.7,338.7 L479.3,336.8 L479.9,337.5 L480.4,338.1 L481.0,336.9 L481.5,337.4 L482.1,340.7 L482.6,338.3 L483.2,339.8 L483.7,337.7 L484.3,336.5 L484.8,339.4 L485.4,339.0 L485.9,339.4 L486.5,339.0 L487.0,338.9 L487.6,338.4 L488.1,340.6 L488.7,338.4 L489.2,340.7 L489.8,339.8 L490.3,339.1 L490.9,339.6 L491.5,341.2 L492.0,341.1 L492.6,341.0 L493.1,340.7 L493.7,339.7 L494.2,342.0 L494.8,340.5 L495.3,340.5 L495.9,340.6 L496.4,340.8 L497.0,340.0 L497.5,341.0 L498.1,340.7 L498.6,341.1 L499.2,340.1 L499.7,343.5 L500.3,340.7 L500.8,342.1 L501.4,342.2 L502.0,342.9 L502.5,343.8 L503.1,342.5 L503.6,342.9 L504.2,341.9 L504.7,343.7 L505.3,341.2 L505.8,342.3 L506.4,342.8 L506.9,343.3 L507.5,343.4 L508.0,343.8 L508.6,343.3 L509.1,342.9 L509.7,343.1 L510.2,344.3 L510.8,343.3 L511.3,343.9 L511.9,343.0 L512.4,341.6 L513.0,342.7" stroke="#000" stroke-width="1.4" transform="translate(0,0.3)"/>
<path d="M313.0,346.3 L313.6,345.9 L314.1,343.3 L314.7,340.2 L315.2,334.2 L315.8,331.3 L316.3,326.1 L316.9,322.1 L317.4,316.5 L318.0,309.8 L318.5,305.4 L319.1,298.4 L319.6,292.1 L320.2,284.3 L320.7,280.6 L321.3,276.2 L321.8,272.6 L322.4,269.4 L322.9,265.1 L323.5,260.9 L324.0,262.2 L324.6,258.8 L325.2,257.9 L325.7,257.8 L326.3,255.9 L326.8,254.8 L327.4,254.3 L327.9,251.0 L328.5,253.7 L329.0,250.9 L329.6,250.2 L330.1,250.4 L330.7,249.1 L331.2,247.9 L331.8,248.0 L332.3,247.3 L332.9,246.6 L333.4,248.6 L334.0,245.0 L334.5,244.0 L335.1,244.8 L335.7,244.5 L336.2,246.4 L336.8,245.0 L337.3,245.4 L337.9,245.0 L338.4,243.5 L339.0,244.9 L339.5,244.2 L340.1,245.7 L340.6,244.0 L341.2,243.8 L341.7,244.4 L342.3,244.4 L342.8,242.0 L343.4,244.8 L343.9,244.6 L344.5,244.4 L345.0,242.5 L345.6,241.7 L346.1,243.3 L346.7,244.2 L347.3,243.9 L347.8,242.6 L348.4,244.3 L348.9,242.2 L349.5,242.2 L350.0,243.4 L350.6,242.8 L351.1,242.7 L351.7,242.0 L352.2,244.3 L352.8,242.3 L353.3,243.6 L353.9,244.0 L354.4,243.2 L355.0,243.4 L355.5,244.1 L356.1,244.6 L356.6,244.0 L357.2,241.8 L357.8,241.3 L358.3,242.5 L358.9,242.0 L359.4,243.5 L360.0,243.1 L360.5,242.7 L361.1,243.9 L361.6,243.8 L362.2,242.8 L362.7,243.2 L363.3,243.9 L363.8,242.5 L364.4,243.1 L364.9,242.0 L365.5,242.9 L366.0,243.1 L366.6,242.7 L367.1,243.0 L367.7,243.5 L368.2,243.2 L368.8,242.2 L369.4,242.3 L369.9,241.8 L370.5,244.5 L371.0,243.5 L371.6,243.6 L372.1,243.1 L372.7,243.8 L373.2,244.0 L373.8,243.0 L374.3,243.6 L374.9,245.0 L375.4,242.9 L376.0,243.3 L376.5,244.9 L377.1,243.8 L377.6,245.3 L378.2,243.8 L378.7,245.1 L379.3,245.8 L379.9,245.5 L380.4,246.0 L381.0,245.2 L381.5,245.3 L382.1,245.6 L382.6,246.2 L383.2,249.1 L383.7,245.8 L384.3,247.7 L384.8,245.8 L385.4,245.1 L385.9,246.0 L386.5,246.7 L387.0,246.6 L387.6,246.6 L388.1,247.1 L388.7,247.2 L389.2,247.6 L389.8,245.8 L390.3,246.9 L390.9,246.2 L391.5,247.3 L392.0,247.1 L392.6,247.4 L393.1,246.9 L393.7,246.7 L394.2,247.3 L394.8,248.2 L395.3,248.4 L395.9,246.3 L396.4,248.1 L397.0,248.2 L397.5,246.6 L398.1,247.1 L398.6,247.6 L399.2,248.5 L399.7,246.1 L400.3,248.0 L400.8,247.9 L401.4,248.6 L402.0,249.8 L402.5,249.8 L403.1,248.3 L403.6,248.4 L404.2,249.1 L404.7,250.0 L405.3,250.3 L405.8,249.4 L406.4,250.5 L406.9,248.5 L407.5,248.4 L408.0,247.0 L408.6,248.9 L409.1,250.3 L409.7,250.7 L410.2,253.1 L410.8,250.7 L411.3,250.4 L411.9,249.5 L412.4,250.0 L413.0,250.1 L413.6,250.6 L414.1,250.3 L414.1,248.9 L414.1,244.9 L414.7,250.7 L415.2,253.7 L415.8,257.8 L416.3,258.4 L416.9,261.8 L417.4,265.3 L418.0,269.9 L418.5,271.4 L419.1,274.4 L419.6,276.7 L420.2,279.3 L420.7,281.0 L421.3,284.0 L421.8,285.0 L422.4,287.6 L422.9,290.0 L423.5,291.6 L424.0,293.7 L424.6,294.2 L425.2,296.8 L425.7,297.8 L426.3,299.8 L426.8,302.2 L427.4,301.3 L427.9,304.4 L428.5,304.0 L429.0,305.4 L429.6,308.3 L430.1,308.8 L430.7,309.4 L431.2,310.6 L431.8,311.9 L432.3,311.0 L432.9,312.7 L433.4,313.0 L434.0,314.5 L434.5,314.6 L435.1,316.3 L435.7,316.3 L436.2,316.4 L436.8,317.6 L437.3,318.6 L437.9,319.8 L438.4,319.3 L439.0,319.7 L439.5,320.7 L440.1,321.7 L440.6,321.1 L441.2,319.8 L441.7,322.8 L442.3,322.7 L442.8,323.1 L443.4,326.2 L443.9,324.2 L444.5,325.3 L445.0,323.8 L445.6,325.7 L446.1,326.5 L446.7,326.4 L447.3,326.4 L447.8,327.4 L448.4,327.3 L448.9,328.8 L449.5,328.1 L450.0,327.5 L450.6,326.7 L451.1,328.2 L451.7,328.8 L452.2,328.3 L452.8,328.7 L453.3,328.4 L453.9,329.2 L454.4,330.6 L455.0,330.5 L455.5,330.8 L456.1,330.9 L456.6,331.3 L457.2,332.4 L457.8,333.8 L458.3,332.7 L458.9,334.2 L459.4,332.5 L460.0,332.8 L460.5,334.5 L461.1,332.6 L461.6,332.6 L462.2,333.5 L462.7,332.3 L463.3,332.3 L463.8,335.3 L464.4,333.4 L464.9,334.1 L465.5,334.3 L466.0,334.0 L466.6,335.7 L467.1,335.8 L467.7,336.1 L468.2,336.2 L468.8,335.8 L469.4,337.2 L469.9,337.0 L470.5,335.6 L471.0,336.4 L471.6,336.1 L472.1,338.3 L472.7,337.5 L473.2,337.4 L473.8,337.0 L474.3,337.7 L474.9,336.5 L475.4,337.5 L476.0,337.5 L476.5,337.7 L477.1,337.2 L477.6,338.4 L478.2,337.0 L478.7,337.8 L479.3,338.2 L479.9,338.4 L480.4,338.1 L481.0,337.7 L481.5,337.9 L482.1,338.5 L482.6,338.2 L483.2,339.0 L483.7,338.0 L484.3,339.3 L484.8,341.2 L485.4,338.3 L485.9,339.5 L486.5,340.7 L487.0,339.9 L487.6,340.6 L488.1,338.1 L488.7,339.6 L489.2,341.5 L489.8,339.7 L490.3,340.7 L490.9,338.7 L491.5,341.4 L492.0,342.6 L492.6,340.6 L493.1,341.0 L493.7,341.2 L494.2,342.8 L494.8,340.6 L495.3,339.5 L495.9,342.8 L496.4,340.1 L497.0,341.7 L497.5,339.2 L498.1,341.0 L498.6,341.6 L499.2,340.5 L499.7,341.1 L500.3,342.2 L500.8,341.1 L501.4,342.2 L502.0,343.4 L502.5,340.1 L503.1,342.3 L503.6,342.6 L504.2,341.8 L504.7,343.5 L505.3,343.4 L505.8,342.7 L506.4,342.8 L506.9,342.3 L507.5,341.4 L508.0,342.9 L508.6,342.1 L509.1,342.0 L509.7,343.6 L510.2,342.5 L510.8,343.6 L511.3,341.8 L511.9,342.4 L512.4,342.8 L513.0,344.1" stroke="#000" stroke-width="1.4" transform="translate(0,0.3)"/>
<path d="M313.0,345.9 L313.6,340.8 L314.1,334.4 L314.7,330.8 L315.2,327.5 L315.8,322.4 L316.3,319.3 L316.9,317.6 L317.4,313.3 L318.0,312.1 L318.5,309.7 L319.1,307.1 L319.6,305.8 L320.2,303.6 L320.7,301.5 L321.3,298.2 L321.8,296.5 L322.4,296.5 L322.9,293.3 L323.5,293.3 L324.0,291.5 L324.6,289.7 L325.2,289.0 L325.7,285.8 L326.3,286.6 L326.8,286.8 L327.4,283.6 L327.9,284.2 L328.5,283.2 L329.0,284.8 L329.6,280.4 L330.1,279.8 L330.7,279.2 L331.2,278.4 L331.8,277.1 L332.3,278.1 L332.9,276.7 L333.4,277.7 L334.0,276.9 L334.5,275.2 L335.1,275.3 L335.7,276.5 L336.2,274.6 L336.8,274.7 L337.3,275.0 L337.9,273.5 L338.4,274.0 L339.0,274.8 L339.5,274.1 L340.1,271.2 L340.6,274.0 L341.2,272.2 L341.7,271.6 L342.3,271.4 L342.8,272.9 L343.4,272.0 L343.9,271.4 L344.5,270.7 L345.0,271.8 L345.6,272.2 L346.1,270.1 L346.7,269.9 L347.3,270.5 L347.8,271.3 L348.4,270.3 L348.9,270.5 L349.5,269.8 L350.0,271.7 L350.6,270.4 L351.1,270.6 L351.7,271.4 L352.2,270.2 L352.8,270.3 L353.3,270.7 L353.9,270.0 L354.4,271.6 L355.0,270.4 L355.5,269.9 L356.1,270.1 L356.6,269.4 L357.2,271.4 L357.8,271.7 L358.3,270.2 L358.9,270.0 L359.4,268.5 L360.0,269.9 L360.5,271.2 L361.1,269.8 L361.6,271.3 L362.2,271.9 L362.7,268.2 L363.3,270.3 L363.8,270.0 L364.4,270.2 L364.9,269.1 L365.5,270.5 L366.0,269.7 L366.6,271.7 L367.1,272.1 L367.7,269.6 L368.2,269.6 L368.8,270.5 L369.4,270.8 L369.9,270.9 L370.5,271.7 L371.0,269.8 L371.6,270.6 L372.1,270.8 L372.7,270.9 L373.2,270.4 L373.8,270.9 L374.3,270.7 L374.9,272.5 L375.4,271.0 L376.0,269.6 L376.5,272.1 L377.1,271.7 L377.6,270.9 L378.2,270.9 L378.7,271.2 L379.3,273.3 L379.9,271.4 L380.4,272.9 L381.0,272.7 L381.5,271.5 L382.1,272.3 L382.6,271.3 L383.2,269.3 L383.7,271.5 L384.3,271.5 L384.8,273.1 L385.4,272.9 L385.9,273.3 L386.5,272.9 L387.0,273.4 L387.6,273.1 L388.1,272.7 L388.7,273.5 L389.2,273.9 L389.8,274.0 L390.3,272.4 L390.9,272.8 L391.5,272.0 L392.0,272.0 L392.6,273.3 L393.1,272.5 L393.7,274.4 L394.2,271.1 L394.8,272.2 L395.3,273.5 L395.9,274.4 L396.4,273.1 L397.0,275.2 L397.5,274.3 L398.1,272.9 L398.6,273.6 L399.2,274.2 L399.7,272.9 L400.3,274.8 L400.8,273.7 L401.4,274.4 L402.0,274.8 L402.5,273.7 L403.1,275.0 L403.6,272.5 L404.2,274.8 L404.7,272.5 L405.3,275.3 L405.8,273.9 L406.4,275.5 L406.9,275.7 L407.5,274.4 L408.0,274.0 L408.6,275.8 L409.1,273.7 L409.7,275.5 L410.2,274.7 L410.8,274.5 L411.3,274.4 L411.9,276.6 L412.4,273.6 L413.0,274.6 L413.6,275.5 L414.1,276.1 L414.1,273.2 L414.1,273.5 L414.7,275.5 L415.2,276.1 L415.8,279.1 L416.3,282.0 L416.9,283.5 L417.4,283.6 L418.0,287.3 L418.5,289.4 L419.1,289.4 L419.6,292.0 L420.2,294.0 L420.7,296.2 L421.3,298.5 L421.8,299.6 L422.4,300.4 L422.9,301.5 L423.5,302.2 L424.0,303.3 L424.6,304.7 L425.2,305.9 L425.7,308.0 L426.3,310.1 L426.8,309.6 L427.4,310.9 L427.9,311.6 L428.5,312.1 L429.0,313.8 L429.6,314.4 L430.1,314.3 L430.7,314.8 L431.2,316.2 L431.8,315.9 L432.3,317.2 L432.9,318.5 L433.4,318.2 L434.0,317.1 L434.5,320.0 L435.1,318.9 L435.7,319.2 L436.2,319.6 L436.8,322.2 L437.3,320.1 L437.9,322.3 L438.4,323.0 L439.0,323.5 L439.5,323.1 L440.1,324.0 L440.6,324.6 L441.2,323.7 L441.7,325.9 L442.3,326.5 L442.8,325.2 L443.4,325.7 L443.9,325.7 L444.5,327.9 L445.0,326.3 L445.6,327.2 L446.1,326.3 L446.7,329.3 L447.3,328.3 L447.8,329.0 L448.4,330.5 L448.9,330.0 L449.5,328.6 L450.0,330.3 L450.6,330.8 L451.1,329.6 L451.7,329.7 L452.2,330.0 L452.8,331.8 L453.3,331.4 L453.9,330.6 L454.4,332.4 L455.0,332.7 L455.5,331.5 L456.1,331.0 L456.6,333.6 L457.2,335.2 L457.8,334.3 L458.3,334.1 L458.9,333.5 L459.4,333.0 L460.0,333.9 L460.5,334.6 L461.1,334.0 L461.6,335.2 L462.2,334.5 L462.7,335.2 L463.3,332.4 L463.8,334.2 L464.4,335.9 L464.9,336.2 L465.5,335.9 L466.0,337.1 L466.6,336.4 L467.1,336.6 L467.7,335.3 L468.2,336.6 L468.8,337.1 L469.4,337.7 L469.9,337.7 L470.5,336.8 L471.0,337.1 L471.6,336.0 L472.1,337.7 L472.7,336.3 L473.2,337.2 L473.8,337.5 L474.3,339.5 L474.9,338.9 L475.4,337.2 L476.0,336.7 L476.5,337.9 L477.1,337.5 L477.6,338.7 L478.2,338.8 L478.7,339.2 L479.3,337.8 L479.9,338.5 L480.4,339.1 L481.0,339.3 L481.5,338.6 L482.1,338.9 L482.6,340.0 L483.2,337.8 L483.7,339.2 L484.3,339.6 L484.8,338.3 L485.4,338.8 L485.9,339.9 L486.5,339.4 L487.0,341.0 L487.6,340.7 L488.1,342.2 L488.7,339.2 L489.2,342.1 L489.8,339.8 L490.3,341.3 L490.9,341.5 L491.5,340.8 L492.0,340.5 L492.6,340.3 L493.1,339.3 L493.7,340.6 L494.2,340.2 L494.8,341.6 L495.3,340.5 L495.9,341.1 L496.4,341.7 L497.0,341.5 L497.5,341.5 L498.1,341.3 L498.6,341.2 L499.2,342.1 L499.7,342.4 L500.3,341.1 L500.8,343.3 L501.4,342.4 L502.0,340.5 L502.5,344.4 L503.1,342.7 L503.6,341.5 L504.2,343.6 L504.7,339.9 L505.3,344.6 L505.8,341.0 L506.4,341.0 L506.9,341.6 L507.5,342.7 L508.0,342.2 L508.6,343.4 L509.1,341.9 L509.7,343.7 L510.2,343.0 L510.8,341.9 L511.3,343.8 L511.9,343.2 L512.4,342.8 L513.0,344.2" stroke="#000" stroke-width="1.4" transform="translate(0,0.3)"/>
<path d="M313.0,345.0 L313.6,341.4 L314.1,339.4 L314.7,334.9 L315.2,332.8 L315.8,330.2 L316.3,327.4 L316.9,326.1 L317.4,322.7 L318.0,322.6 L318.5,319.5 L319.1,319.0 L319.6,316.8 L320.2,316.8 L320.7,315.6 L321.3,315.1 L321.8,312.5 L322.4,311.1 L322.9,309.1 L323.5,308.9 L324.0,309.0 L324.6,308.6 L325.2,307.2 L325.7,306.9 L326.3,304.8 L326.8,304.5 L327.4,305.5 L327.9,304.7 L328.5,302.2 L329.0,302.6 L329.6,302.5 L330.1,300.7 L330.7,301.5 L331.2,300.9 L331.8,300.6 L332.3,301.5 L332.9,298.5 L333.4,300.0 L334.0,299.0 L334.5,298.8 L335.1,297.1 L335.7,297.4 L336.2,297.0 L336.8,298.3 L337.3,296.5 L337.9,297.5 L338.4,295.7 L339.0,295.4 L339.5,295.6 L340.1,293.5 L340.6,294.7 L341.2,294.5 L341.7,294.8 L342.3,295.0 L342.8,293.8 L343.4,293.6 L343.9,295.6 L344.5,293.4 L345.0,293.8 L345.6,293.4 L346.1,293.7 L346.7,295.2 L347.3,295.1 L347.8,292.4 L348.4,293.7 L348.9,295.2 L349.5,293.6 L350.0,294.2 L350.6,295.5 L351.1,295.8 L351.7,295.2 L352.2,293.5 L352.8,293.7 L353.3,293.9 L353.9,293.4 L354.4,293.1 L355.0,295.5 L355.5,293.8 L356.1,294.3 L356.6,294.6 L357.2,294.0 L357.8,293.6 L358.3,293.7 L358.9,294.8 L359.4,293.9 L360.0,291.6 L360.5,294.4 L361.1,295.0 L361.6,293.2 L362.2,292.9 L362.7,293.0 L363.3,294.4 L363.8,292.5 L364.4,294.1 L364.9,294.4 L365.5,293.9 L366.0,293.5 L366.6,292.8 L367.1,292.8 L367.7,293.4 L368.2,292.6 L368.8,293.3 L369.4,292.6 L369.9,294.7 L370.5,294.8 L371.0,292.7 L371.6,294.7 L372.1,293.7 L372.7,293.6 L373.2,293.9 L373.8,293.9 L374.3,292.3 L374.9,295.8 L375.4,292.8 L376.0,291.5 L376.5,293.6 L377.1,293.6 L377.6,293.0 L378.2,292.0 L378.7,294.8 L379.3,293.6 L379.9,293.9 L380.4,293.3 L381.0,293.7 L381.5,293.2 L382.1,294.3 L382.6,293.9 L383.2,294.5 L383.7,294.6 L384.3,294.1 L384.8,294.2 L385.4,295.1 L385.9,292.7 L386.5,294.3 L387.0,295.4 L387.6,293.2 L388.1,294.9 L388.7,293.9 L389.2,294.4 L389.8,294.2 L390.3,294.3 L390.9,295.0 L391.5,294.5 L392.0,292.7 L392.6,296.6 L393.1,294.6 L393.7,294.3 L394.2,295.7 L394.8,296.0 L395.3,292.9 L395.9,295.2 L396.4,293.0 L397.0,294.5 L397.5,294.9 L398.1,294.6 L398.6,294.6 L399.2,294.1 L399.7,294.9 L400.3,295.2 L400.8,295.2 L401.4,294.2 L402.0,294.8 L402.5,296.5 L403.1,296.2 L403.6,295.4 L404.2,296.3 L404.7,296.2 L405.3,296.8 L405.8,296.2 L406.4,295.7 L406.9,295.2 L407.5,296.2 L408.0,294.4 L408.6,296.4 L409.1,293.6 L409.7,295.6 L410.2,296.2 L410.8,297.1 L411.3,299.3 L411.9,297.0 L412.4,296.8 L413.0,295.3 L413.6,298.3 L414.1,295.5 L414.1,294.2 L414.1,294.7 L414.7,295.4 L415.2,299.8 L415.8,298.9 L416.3,300.7 L416.9,301.2 L417.4,303.0 L418.0,305.4 L418.5,304.7 L419.1,306.1 L419.6,307.3 L420.2,308.0 L420.7,308.9 L421.3,310.8 L421.8,313.0 L422.4,313.9 L422.9,312.2 L423.5,313.6 L424.0,314.9 L424.6,316.2 L425.2,316.4 L425.7,317.1 L426.3,318.1 L426.8,319.0 L427.4,317.0 L427.9,319.3 L428.5,320.6 L429.0,321.8 L429.6,321.8 L430.1,320.9 L430.7,321.4 L431.2,322.7 L431.8,322.9 L432.3,323.6 L432.9,324.8 L433.4,323.0 L434.0,324.2 L434.5,322.7 L435.1,326.0 L435.7,325.8 L436.2,325.2 L436.8,326.5 L437.3,327.9 L437.9,327.8 L438.4,327.2 L439.0,327.2 L439.5,327.9 L440.1,327.2 L440.6,327.5 L441.2,328.4 L441.7,328.9 L442.3,329.4 L442.8,329.0 L443.4,328.9 L443.9,329.9 L444.5,329.8 L445.0,330.7 L445.6,331.9 L446.1,331.8 L446.7,330.4 L447.3,330.9 L447.8,330.1 L448.4,331.7 L448.9,331.2 L449.5,331.0 L450.0,331.5 L450.6,333.1 L451.1,332.9 L451.7,332.8 L452.2,334.0 L452.8,332.9 L453.3,332.6 L453.9,334.1 L454.4,332.1 L455.0,334.3 L455.5,334.4 L456.1,334.6 L456.6,335.1 L457.2,334.3 L457.8,334.8 L458.3,333.5 L458.9,334.6 L459.4,334.8 L460.0,335.6 L460.5,336.9 L461.1,335.8 L461.6,336.7 L462.2,335.2 L462.7,336.2 L463.3,334.8 L463.8,335.8 L464.4,335.8 L464.9,336.5 L465.5,336.6 L466.0,336.4 L466.6,336.3 L467.1,337.9 L467.7,336.9 L468.2,335.1 L468.8,337.7 L469.4,337.9 L469.9,338.4 L470.5,339.2 L471.0,337.0 L471.6,338.1 L472.1,338.0 L472.7,336.7 L473.2,336.2 L473.8,339.4 L474.3,337.7 L474.9,338.2 L475.4,338.5 L476.0,338.5 L476.5,339.1 L477.1,337.7 L477.6,338.7 L478.2,339.1 L478.7,338.3 L479.3,338.7 L479.9,339.2 L480.4,339.4 L481.0,338.2 L481.5,339.4 L482.1,340.1 L482.6,340.8 L483.2,340.5 L483.7,341.2 L484.3,340.2 L484.8,340.2 L485.4,342.3 L485.9,340.5 L486.5,340.0 L487.0,340.5 L487.6,341.6 L488.1,339.7 L488.7,341.5 L489.2,342.1 L489.8,342.0 L490.3,341.1 L490.9,340.3 L491.5,340.2 L492.0,341.1 L492.6,342.5 L493.1,342.0 L493.7,342.3 L494.2,341.7 L494.8,343.2 L495.3,341.6 L495.9,341.2 L496.4,342.0 L497.0,341.5 L497.5,342.8 L498.1,343.3 L498.6,342.6 L499.2,341.1 L499.7,341.2 L500.3,342.6 L500.8,341.2 L501.4,342.6 L502.0,341.0 L502.5,342.0 L503.1,342.9 L503.6,341.8 L504.2,343.3 L504.7,343.5 L505.3,344.0 L505.8,342.5 L506.4,342.8 L506.9,342.9 L507.5,343.2 L508.0,341.6 L508.6,343.3 L509.1,343.6 L509.7,341.9 L510.2,341.8 L510.8,342.8 L511.3,344.7 L511.9,343.7 L512.4,342.7 L513.0,343.2" stroke="#000" stroke-width="1.4" transform="translate(0,0.3)"/>
<path d="M313.0,344.6 L313.6,344.3 L314.1,340.1 L314.7,339.2 L315.2,335.7 L315.8,335.4 L316.3,333.1 L316.9,333.4 L317.4,333.1 L318.0,331.9 L318.5,330.5 L319.1,330.1 L319.6,327.4 L320.2,326.6 L320.7,326.9 L321.3,327.4 L321.8,326.0 L322.4,325.9 L322.9,323.4 L323.5,323.8 L324.0,323.1 L324.6,323.4 L325.2,324.4 L325.7,322.7 L326.3,322.6 L326.8,320.8 L327.4,320.6 L327.9,321.0 L328.5,320.2 L329.0,318.1 L329.6,320.0 L330.1,319.6 L330.7,318.7 L331.2,318.8 L331.8,318.2 L332.3,317.1 L332.9,315.7 L333.4,318.6 L334.0,316.8 L334.5,316.4 L335.1,316.3 L335.7,316.2 L336.2,316.1 L336.8,314.7 L337.3,315.8 L337.9,315.3 L338.4,315.0 L339.0,314.7 L339.5,314.8 L340.1,313.5 L340.6,314.3 L341.2,314.0 L341.7,314.0 L342.3,314.7 L342.8,314.5 L343.4,314.5 L343.9,313.3 L344.5,314.0 L345.0,314.2 L345.6,312.9 L346.1,312.5 L346.7,314.5 L347.3,311.3 L347.8,312.6 L348.4,312.7 L348.9,311.5 L349.5,312.3 L350.0,312.8 L350.6,310.2 L351.1,313.1 L351.7,312.1 L352.2,311.2 L352.8,312.8 L353.3,311.9 L353.9,311.4 L354.4,309.5 L355.0,312.4 L355.5,311.5 L356.1,310.8 L356.6,311.3 L357.2,312.4 L357.8,310.9 L358.3,311.1 L358.9,310.7 L359.4,310.0 L360.0,310.1 L360.5,310.6 L361.1,310.6 L361.6,311.8 L362.2,310.9 L362.7,310.5 L363.3,311.1 L363.8,310.6 L364.4,311.3 L364.9,309.2 L365.5,308.6 L366.0,310.8 L366.6,310.1 L367.1,310.6 L367.7,309.2 L368.2,309.9 L368.8,310.2 L369.4,310.5 L369.9,310.1 L370.5,311.1 L371.0,309.6 L371.6,310.8 L372.1,309.7 L372.7,310.0 L373.2,309.1 L373.8,310.1 L374.3,309.1 L374.9,310.8 L375.4,309.4 L376.0,310.2 L376.5,309.8 L377.1,309.9 L377.6,309.1 L378.2,311.7 L378.7,309.6 L379.3,311.2 L379.9,308.8 L380.4,311.6 L381.0,310.7 L381.5,311.3 L382.1,308.3 L382.6,310.9 L383.2,309.7 L383.7,310.3 L384.3,311.4 L384.8,310.1 L385.4,309.2 L385.9,309.9 L386.5,308.9 L387.0,310.1 L387.6,309.8 L388.1,310.1 L388.7,309.5 L389.2,308.1 L389.8,309.5 L390.3,309.7 L390.9,310.4 L391.5,310.5 L392.0,308.6 L392.6,310.9 L393.1,310.7 L393.7,310.0 L394.2,310.3 L394.8,308.2 L395.3,312.1 L395.9,309.7 L396.4,309.4 L397.0,311.1 L397.5,310.7 L398.1,309.7 L398.6,308.7 L399.2,311.0 L399.7,311.6 L400.3,309.4 L400.8,308.9 L401.4,310.6 L402.0,312.3 L402.5,309.0 L403.1,310.6 L403.6,309.4 L404.2,310.5 L404.7,310.8 L405.3,310.9 L405.8,309.2 L406.4,309.3 L406.9,312.6 L407.5,311.5 L408.0,309.2 L408.6,311.1 L409.1,312.1 L409.7,310.9 L410.2,311.1 L410.8,311.2 L411.3,311.6 L411.9,311.5 L412.4,311.7 L413.0,311.1 L413.6,312.2 L414.1,311.8 L414.1,309.6 L414.1,310.6 L414.7,310.1 L415.2,311.7 L415.8,313.0 L416.3,313.2 L416.9,314.0 L417.4,314.2 L418.0,315.4 L418.5,315.0 L419.1,316.1 L419.6,318.0 L420.2,319.0 L420.7,318.5 L421.3,319.4 L421.8,320.5 L422.4,322.4 L422.9,323.2 L423.5,321.8 L424.0,322.0 L424.6,322.4 L425.2,324.8 L425.7,323.2 L426.3,325.1 L426.8,324.7 L427.4,325.1 L427.9,326.6 L428.5,326.8 L429.0,328.5 L429.6,327.9 L430.1,329.0 L430.7,327.4 L431.2,328.1 L431.8,327.6 L432.3,328.5 L432.9,329.7 L433.4,329.1 L434.0,330.1 L434.5,329.5 L435.1,330.0 L435.7,331.5 L436.2,330.8 L436.8,331.1 L437.3,331.6 L437.9,330.8 L438.4,330.3 L439.0,332.4 L439.5,332.7 L440.1,334.6 L440.6,332.9 L441.2,333.4 L441.7,335.2 L442.3,333.2 L442.8,333.1 L443.4,334.5 L443.9,334.4 L444.5,335.1 L445.0,333.7 L445.6,335.9 L446.1,335.0 L446.7,333.2 L447.3,335.1 L447.8,334.8 L448.4,335.6 L448.9,336.7 L449.5,335.8 L450.0,335.5 L450.6,337.0 L451.1,335.9 L451.7,335.2 L452.2,335.5 L452.8,338.1 L453.3,337.7 L453.9,338.4 L454.4,336.1 L455.0,336.6 L455.5,336.7 L456.1,338.2 L456.6,338.6 L457.2,337.6 L457.8,337.7 L458.3,338.7 L458.9,337.9 L459.4,337.6 L460.0,338.1 L460.5,339.3 L461.1,340.4 L461.6,338.8 L462.2,338.6 L462.7,339.1 L463.3,339.3 L463.8,339.6 L464.4,338.5 L464.9,339.3 L465.5,339.2 L466.0,340.3 L466.6,340.1 L467.1,339.5 L467.7,340.6 L468.2,340.9 L468.8,340.2 L469.4,338.9 L469.9,339.9 L470.5,338.8 L471.0,340.3 L471.6,340.6 L472.1,341.6 L472.7,341.0 L473.2,339.2 L473.8,340.3 L474.3,340.0 L474.9,340.1 L475.4,340.8 L476.0,341.1 L476.5,340.9 L477.1,340.4 L477.6,340.7 L478.2,340.7 L478.7,341.1 L479.3,342.0 L479.9,341.6 L480.4,342.3 L481.0,340.6 L481.5,343.5 L482.1,341.8 L482.6,339.5 L483.2,342.1 L483.7,342.8 L484.3,341.9 L484.8,340.8 L485.4,342.1 L485.9,341.5 L486.5,342.0 L487.0,342.5 L487.6,339.4 L488.1,342.2 L488.7,342.8 L489.2,342.8 L489.8,342.1 L490.3,342.1 L490.9,341.8 L491.5,342.4 L492.0,343.9 L492.6,342.2 L493.1,343.0 L493.7,343.0 L494.2,344.1 L494.8,343.4 L495.3,343.5 L495.9,343.0 L496.4,344.3 L497.0,343.0 L497.5,342.9 L498.1,344.1 L498.6,343.7 L499.2,343.9 L499.7,342.4 L500.3,345.5 L500.8,343.6 L501.4,344.8 L502.0,343.8 L502.5,342.6 L503.1,344.0 L503.6,343.3 L504.2,344.3 L504.7,341.8 L505.3,342.8 L505.8,342.6 L506.4,344.8 L506.9,344.7 L507.5,342.7 L508.0,343.9 L508.6,344.0 L509.1,343.5 L509.7,345.0 L510.2,343.2 L510.8,343.9 L511.3,343.5 L511.9,344.6 L512.4,343.5 L513.0,344.6" stroke="#000" stroke-width="1.4" transform="translate(0,0.3)"/>
<path d="M313.0,346.0 L313.3,340.0 L313.6,334.2 L313.8,328.7 L314.1,323.4 L314.4,318.2 L314.7,313.1 L314.9,308.1 L315.2,303.2 L315.5,298.4 L315.8,293.6 L316.0,288.9 L316.3,284.2 L316.6,279.6 L316.9,275.3 L317.1,271.2 L317.4,267.4 L317.7,264.0 L318.0,260.9 L318.2,258.0 L318.5,255.5 L318.8,253.2 L319.1,251.0 L319.4,249.0 L319.6,247.1 L319.9,245.3 L320.2,243.6 L320.5,242.0 L320.7,240.5 L321.0,239.1 L321.3,237.8 L321.6,236.6 L321.8,235.5 L322.1,234.5 L322.4,233.5 L322.7,232.6 L322.9,231.8 L323.2,231.1 L323.5,230.4 L323.8,229.7 L324.0,229.1 L325.4,226.7 L326.8,225.0 L328.2,223.6 L329.6,222.5 L331.0,221.7 L332.3,221.1 L333.7,220.6 L335.1,220.4 L336.5,220.2 L337.9,220.2 L339.2,220.1 L340.6,220.1 L342.0,220.1 L343.4,220.1 L344.8,220.1 L346.1,220.1 L347.5,220.1 L348.9,220.1 L350.3,220.1 L351.7,220.1 L353.1,220.1 L354.4,220.1 L355.8,220.1 L357.2,220.1 L358.6,220.1 L360.0,220.1 L361.3,220.1 L362.7,220.1 L364.1,220.1 L365.5,220.1 L366.9,220.1 L368.2,220.1 L369.6,220.1 L371.0,220.1 L372.4,220.1 L373.8,220.1 L375.2,220.1 L376.5,220.1 L377.9,220.0 L379.3,220.0 L380.7,220.0 L382.1,220.0 L383.4,220.0 L384.8,220.0 L386.2,220.0 L387.6,220.0 L389.0,220.0 L390.3,220.0 L391.7,220.0 L393.1,219.9 L394.5,219.9 L395.9,219.9 L397.3,219.9 L398.6,219.9 L400.0,219.9 L401.4,219.9 L402.8,219.9 L404.2,219.9 L405.5,219.9 L406.9,219.9 L408.3,219.9 L409.7,219.9 L411.1,219.8 L412.4,219.8 L413.8,219.8 L414.1,219.8 L414.1,213.3 L414.7,219.7 L415.2,225.6 L415.8,231.1 L416.3,236.1 L416.9,240.8 L417.4,245.2 L418.0,249.3 L418.5,253.1 L419.1,256.6 L419.6,259.9 L420.2,263.0 L420.7,265.9 L421.3,268.7 L421.8,271.2 L422.4,273.6 L422.9,275.9 L423.5,278.0 L424.0,280.1 L424.6,282.0 L425.2,283.8 L425.7,285.5 L426.3,287.2 L426.8,288.7 L427.4,290.2 L427.9,291.7 L428.5,293.0 L429.0,294.3 L429.6,295.6 L430.1,296.8 L430.7,298.0 L432.3,301.2 L434.0,304.1 L435.7,306.7 L437.3,309.1 L439.0,311.3 L440.6,313.4 L442.3,315.3 L443.9,317.0 L445.6,318.7 L447.3,320.2 L448.9,321.7 L450.6,323.1 L452.2,324.3 L453.9,325.5 L455.5,326.7 L457.2,327.8 L458.9,328.8 L460.5,329.7 L462.2,330.6 L463.8,331.5 L465.5,332.3 L467.1,333.0 L468.8,333.7 L470.5,334.4 L472.1,335.1 L473.8,335.7 L475.4,336.2 L477.1,336.8 L478.7,337.3 L480.4,337.8 L482.1,338.2 L483.7,338.6 L485.4,339.0 L487.0,339.4 L488.7,339.8 L490.3,340.1 L492.0,340.5 L493.7,340.8 L495.3,341.1 L497.0,341.3 L498.6,341.6 L500.3,341.8 L502.0,342.1 L503.6,342.3 L505.3,342.5 L506.9,342.7 L508.6,342.9 L510.2,343.0 L511.9,343.2 L513.0,343.3" stroke="#f01a1a" stroke-width="1.25"/>
<path d="M313.0,346.0 L313.3,345.3 L313.6,344.5 L313.8,343.3 L314.1,342.0 L314.4,340.4 L314.7,338.7 L314.9,336.8 L315.2,334.8 L315.5,332.8 L315.8,330.6 L316.0,328.4 L316.3,326.2 L316.6,323.9 L316.9,321.6 L317.1,319.1 L317.4,316.6 L317.7,313.9 L318.0,311.0 L318.2,308.0 L318.5,304.8 L318.8,301.5 L319.1,298.1 L319.4,294.7 L319.6,291.3 L319.9,288.1 L320.2,285.1 L320.5,282.3 L320.7,279.7 L321.0,277.3 L321.3,275.1 L321.6,273.2 L321.8,271.3 L322.1,269.7 L322.4,268.2 L322.7,266.8 L322.9,265.5 L323.2,264.3 L323.5,263.2 L323.8,262.2 L324.0,261.3 L325.4,257.5 L326.8,254.6 L328.2,252.4 L329.6,250.5 L331.0,248.9 L332.3,247.6 L333.7,246.6 L335.1,245.7 L336.5,245.0 L337.9,244.5 L339.2,244.1 L340.6,243.9 L342.0,243.8 L343.4,243.7 L344.8,243.6 L346.1,243.6 L347.5,243.6 L348.9,243.6 L350.3,243.6 L351.7,243.6 L353.1,243.6 L354.4,243.6 L355.8,243.6 L357.2,243.6 L358.6,243.6 L360.0,243.6 L361.3,243.6 L362.7,243.6 L364.1,243.6 L365.5,243.6 L366.9,243.6 L368.2,243.6 L369.6,243.6 L371.0,243.7 L372.4,243.7 L373.8,243.7 L375.2,243.7 L376.5,243.7 L377.9,243.7 L379.3,243.7 L380.7,243.7 L382.1,243.8 L383.4,243.8 L384.8,243.8 L386.2,243.8 L387.6,243.8 L389.0,243.8 L390.3,243.8 L391.7,243.9 L393.1,243.9 L394.5,243.9 L395.9,243.9 L397.3,243.9 L398.6,243.9 L400.0,243.9 L401.4,244.0 L402.8,244.0 L404.2,244.0 L405.5,244.0 L406.9,244.0 L408.3,244.0 L409.7,244.0 L411.1,244.0 L412.4,244.0 L413.8,244.0 L414.1,244.0 L414.1,239.3 L414.7,244.0 L415.2,248.3 L415.8,252.4 L416.3,256.3 L416.9,260.0 L417.4,263.4 L418.0,266.7 L418.5,269.8 L419.1,272.7 L419.6,275.5 L420.2,278.1 L420.7,280.6 L421.3,282.9 L421.8,285.1 L422.4,287.2 L422.9,289.2 L423.5,291.1 L424.0,292.9 L424.6,294.6 L425.2,296.3 L425.7,297.8 L426.3,299.3 L426.8,300.7 L427.4,302.0 L427.9,303.3 L428.5,304.5 L429.0,305.7 L429.6,306.8 L430.1,307.9 L430.7,308.9 L432.3,311.7 L434.0,314.1 L435.7,316.3 L437.3,318.2 L439.0,320.0 L440.6,321.5 L442.3,323.0 L443.9,324.3 L445.6,325.5 L447.3,326.6 L448.9,327.6 L450.6,328.5 L452.2,329.4 L453.9,330.2 L455.5,331.0 L457.2,331.7 L458.9,332.4 L460.5,333.0 L462.2,333.6 L463.8,334.2 L465.5,334.7 L467.1,335.2 L468.8,335.7 L470.5,336.2 L472.1,336.6 L473.8,337.0 L475.4,337.4 L477.1,337.8 L478.7,338.2 L480.4,338.5 L482.1,338.9 L483.7,339.2 L485.4,339.5 L487.0,339.8 L488.7,340.0 L490.3,340.3 L492.0,340.5 L493.7,340.8 L495.3,341.0 L497.0,341.2 L498.6,341.4 L500.3,341.6 L502.0,341.8 L503.6,342.0 L505.3,342.2 L506.9,342.4 L508.6,342.5 L510.2,342.7 L511.9,342.8 L513.0,342.9" stroke="#f01a1a" stroke-width="1.25"/>
<path d="M313.0,346.0 L313.3,342.9 L313.6,340.1 L313.8,337.5 L314.1,335.1 L314.4,332.8 L314.7,330.7 L314.9,328.6 L315.2,326.7 L315.5,324.9 L315.8,323.2 L316.0,321.5 L316.3,320.0 L316.6,318.5 L316.9,317.0 L317.1,315.6 L317.4,314.3 L317.7,313.0 L318.0,311.8 L318.2,310.6 L318.5,309.4 L318.8,308.3 L319.1,307.2 L319.4,306.2 L319.6,305.2 L319.9,304.2 L320.2,303.2 L320.5,302.3 L320.7,301.3 L321.0,300.4 L321.3,299.6 L321.6,298.7 L321.8,297.9 L322.1,297.1 L322.4,296.3 L322.7,295.5 L322.9,294.8 L323.2,294.0 L323.5,293.3 L323.8,292.6 L324.0,291.9 L325.4,288.6 L326.8,285.8 L328.2,283.3 L329.6,281.3 L331.0,279.6 L332.3,278.1 L333.7,276.8 L335.1,275.7 L336.5,274.7 L337.9,273.9 L339.2,273.2 L340.6,272.6 L342.0,272.1 L343.4,271.7 L344.8,271.3 L346.1,271.0 L347.5,270.8 L348.9,270.5 L350.3,270.4 L351.7,270.2 L353.1,270.1 L354.4,270.0 L355.8,270.0 L357.2,269.9 L358.6,269.9 L360.0,269.8 L361.3,269.8 L362.7,269.8 L364.1,269.8 L365.5,269.8 L366.9,269.7 L368.2,269.7 L369.6,269.7 L371.0,269.7 L372.4,269.7 L373.8,269.7 L375.2,269.8 L376.5,269.8 L377.9,269.8 L379.3,269.8 L380.7,269.8 L382.1,269.8 L383.4,269.8 L384.8,269.8 L386.2,269.8 L387.6,269.8 L389.0,269.8 L390.3,269.8 L391.7,269.8 L393.1,269.8 L394.5,269.8 L395.9,269.8 L397.3,269.8 L398.6,269.9 L400.0,269.9 L401.4,269.9 L402.8,269.9 L404.2,269.9 L405.5,269.9 L406.9,269.9 L408.3,269.9 L409.7,269.9 L411.1,269.9 L412.4,269.9 L413.8,269.9 L414.1,269.9 L414.1,266.7 L414.7,269.8 L415.2,272.8 L415.8,275.6 L416.3,278.3 L416.9,280.8 L417.4,283.1 L418.0,285.4 L418.5,287.5 L419.1,289.5 L419.6,291.4 L420.2,293.2 L420.7,294.9 L421.3,296.5 L421.8,298.1 L422.4,299.5 L422.9,300.9 L423.5,302.3 L424.0,303.5 L424.6,304.7 L425.2,305.9 L425.7,307.0 L426.3,308.0 L426.8,309.0 L427.4,310.0 L427.9,310.9 L428.5,311.8 L429.0,312.6 L429.6,313.4 L430.1,314.2 L430.7,314.9 L432.3,317.0 L434.0,318.8 L435.7,320.4 L437.3,321.9 L439.0,323.3 L440.6,324.5 L442.3,325.6 L443.9,326.6 L445.6,327.6 L447.3,328.5 L448.9,329.3 L450.6,330.1 L452.2,330.9 L453.9,331.5 L455.5,332.2 L457.2,332.8 L458.9,333.4 L460.5,334.0 L462.2,334.5 L463.8,335.0 L465.5,335.5 L467.1,335.9 L468.8,336.3 L470.5,336.8 L472.1,337.2 L473.8,337.5 L475.4,337.9 L477.1,338.2 L478.7,338.6 L480.4,338.9 L482.1,339.2 L483.7,339.5 L485.4,339.7 L487.0,340.0 L488.7,340.3 L490.3,340.5 L492.0,340.7 L493.7,341.0 L495.3,341.2 L497.0,341.4 L498.6,341.6 L500.3,341.8 L502.0,341.9 L503.6,342.1 L505.3,342.3 L506.9,342.4 L508.6,342.6 L510.2,342.7 L511.9,342.9 L513.0,342.9" stroke="#f01a1a" stroke-width="1.25"/>
<path d="M313.0,346.0 L313.3,343.7 L313.6,341.7 L313.8,339.8 L314.1,338.0 L314.4,336.4 L314.7,334.9 L314.9,333.4 L315.2,332.1 L315.5,330.8 L315.8,329.6 L316.0,328.5 L316.3,327.4 L316.6,326.4 L316.9,325.4 L317.1,324.5 L317.4,323.6 L317.7,322.8 L318.0,321.9 L318.2,321.1 L318.5,320.4 L318.8,319.7 L319.1,318.9 L319.4,318.3 L319.6,317.6 L319.9,317.0 L320.2,316.3 L320.5,315.7 L320.7,315.2 L321.0,314.6 L321.3,314.0 L321.6,313.5 L321.8,313.0 L322.1,312.5 L322.4,312.0 L322.7,311.5 L322.9,311.0 L323.2,310.5 L323.5,310.1 L323.8,309.7 L324.0,309.2 L325.4,307.2 L326.8,305.4 L328.2,303.8 L329.6,302.3 L331.0,300.9 L332.3,299.7 L333.7,298.6 L335.1,297.6 L336.5,296.7 L337.9,295.9 L339.2,295.3 L340.6,294.8 L342.0,294.4 L343.4,294.0 L344.8,293.8 L346.1,293.6 L347.5,293.4 L348.9,293.3 L350.3,293.2 L351.7,293.1 L353.1,293.0 L354.4,293.0 L355.8,292.9 L357.2,292.9 L358.6,292.8 L360.0,292.8 L361.3,292.8 L362.7,292.7 L364.1,292.7 L365.5,292.7 L366.9,292.7 L368.2,292.6 L369.6,292.6 L371.0,292.6 L372.4,292.6 L373.8,292.6 L375.2,292.6 L376.5,292.6 L377.9,292.5 L379.3,292.5 L380.7,292.5 L382.1,292.5 L383.4,292.5 L384.8,292.5 L386.2,292.5 L387.6,292.5 L389.0,292.5 L390.3,292.5 L391.7,292.5 L393.1,292.5 L394.5,292.4 L395.9,292.4 L397.3,292.4 L398.6,292.4 L400.0,292.4 L401.4,292.4 L402.8,292.4 L404.2,292.4 L405.5,292.4 L406.9,292.4 L408.3,292.4 L409.7,292.4 L411.1,292.4 L412.4,292.4 L413.8,292.4 L414.1,292.4 L414.1,289.7 L414.7,292.0 L415.2,294.1 L415.8,296.1 L416.3,298.0 L416.9,299.7 L417.4,301.3 L418.0,302.9 L418.5,304.3 L419.1,305.6 L419.6,306.9 L420.2,308.1 L420.7,309.2 L421.3,310.3 L421.8,311.3 L422.4,312.2 L422.9,313.1 L423.5,314.0 L424.0,314.8 L424.6,315.6 L425.2,316.3 L425.7,317.0 L426.3,317.6 L426.8,318.3 L427.4,318.9 L427.9,319.5 L428.5,320.0 L429.0,320.6 L429.6,321.1 L430.1,321.6 L430.7,322.0 L432.3,323.3 L434.0,324.5 L435.7,325.6 L437.3,326.6 L439.0,327.5 L440.6,328.4 L442.3,329.2 L443.9,329.9 L445.6,330.7 L447.3,331.3 L448.9,331.9 L450.6,332.5 L452.2,333.1 L453.9,333.7 L455.5,334.2 L457.2,334.7 L458.9,335.1 L460.5,335.6 L462.2,336.0 L463.8,336.4 L465.5,336.8 L467.1,337.2 L468.8,337.6 L470.5,337.9 L472.1,338.3 L473.8,338.6 L475.4,338.9 L477.1,339.2 L478.7,339.5 L480.4,339.7 L482.1,340.0 L483.7,340.2 L485.4,340.5 L487.0,340.7 L488.7,340.9 L490.3,341.1 L492.0,341.3 L493.7,341.5 L495.3,341.7 L497.0,341.9 L498.6,342.0 L500.3,342.2 L502.0,342.4 L503.6,342.5 L505.3,342.7 L506.9,342.8 L508.6,342.9 L510.2,343.1 L511.9,343.2 L513.0,343.3" stroke="#f01a1a" stroke-width="1.25"/>
<path d="M313.0,346.0 L313.3,344.5 L313.6,343.1 L313.8,341.8 L314.1,340.7 L314.4,339.6 L314.7,338.6 L314.9,337.7 L315.2,336.9 L315.5,336.1 L315.8,335.4 L316.0,334.7 L316.3,334.0 L316.6,333.4 L316.9,332.8 L317.1,332.3 L317.4,331.8 L317.7,331.3 L318.0,330.9 L318.2,330.4 L318.5,330.0 L318.8,329.6 L319.1,329.2 L319.4,328.8 L319.6,328.5 L319.9,328.1 L320.2,327.8 L320.5,327.4 L320.7,327.1 L321.0,326.8 L321.3,326.5 L321.6,326.2 L321.8,325.9 L322.1,325.6 L322.4,325.3 L322.7,325.0 L322.9,324.7 L323.2,324.4 L323.5,324.1 L323.8,323.8 L324.0,323.6 L325.4,322.3 L326.8,321.1 L328.2,320.1 L329.6,319.2 L331.0,318.3 L332.3,317.6 L333.7,316.9 L335.1,316.2 L336.5,315.7 L337.9,315.2 L339.2,314.7 L340.6,314.3 L342.0,313.9 L343.4,313.6 L344.8,313.3 L346.1,313.0 L347.5,312.7 L348.9,312.5 L350.3,312.3 L351.7,312.1 L353.1,311.9 L354.4,311.7 L355.8,311.6 L357.2,311.4 L358.6,311.3 L360.0,311.2 L361.3,311.0 L362.7,310.9 L364.1,310.9 L365.5,310.8 L366.9,310.7 L368.2,310.6 L369.6,310.6 L371.0,310.5 L372.4,310.5 L373.8,310.4 L375.2,310.4 L376.5,310.3 L377.9,310.3 L379.3,310.3 L380.7,310.2 L382.1,310.2 L383.4,310.2 L384.8,310.1 L386.2,310.1 L387.6,310.1 L389.0,310.1 L390.3,310.0 L391.7,310.0 L393.1,310.0 L394.5,310.0 L395.9,310.0 L397.3,309.9 L398.6,309.9 L400.0,309.9 L401.4,309.9 L402.8,309.9 L404.2,309.9 L405.5,309.9 L406.9,309.9 L408.3,309.9 L409.7,309.9 L411.1,309.9 L412.4,309.8 L413.8,309.8 L414.1,309.8 L414.1,308.7 L414.7,309.8 L415.2,310.8 L415.8,311.8 L416.3,312.8 L416.9,313.7 L417.4,314.5 L418.0,315.3 L418.5,316.1 L419.1,316.9 L419.6,317.6 L420.2,318.3 L420.7,319.0 L421.3,319.7 L421.8,320.3 L422.4,320.9 L422.9,321.5 L423.5,322.0 L424.0,322.6 L424.6,323.1 L425.2,323.6 L425.7,324.1 L426.3,324.5 L426.8,325.0 L427.4,325.4 L427.9,325.9 L428.5,326.3 L429.0,326.7 L429.6,327.0 L430.1,327.4 L430.7,327.8 L432.3,328.8 L434.0,329.7 L435.7,330.6 L437.3,331.4 L439.0,332.1 L440.6,332.8 L442.3,333.4 L443.9,334.0 L445.6,334.6 L447.3,335.1 L448.9,335.6 L450.6,336.1 L452.2,336.5 L453.9,336.9 L455.5,337.3 L457.2,337.7 L458.9,338.0 L460.5,338.4 L462.2,338.7 L463.8,339.0 L465.5,339.3 L467.1,339.6 L468.8,339.9 L470.5,340.1 L472.1,340.4 L473.8,340.6 L475.4,340.8 L477.1,341.0 L478.7,341.2 L480.4,341.4 L482.1,341.6 L483.7,341.8 L485.4,342.0 L487.0,342.2 L488.7,342.3 L490.3,342.5 L492.0,342.6 L493.7,342.7 L495.3,342.9 L497.0,343.0 L498.6,343.1 L500.3,343.3 L502.0,343.4 L503.6,343.5 L505.3,343.6 L506.9,343.7 L508.6,343.8 L510.2,343.9 L511.9,344.0 L513.0,344.0" stroke="#f01a1a" stroke-width="1.25"/>
</g>
<g clip-path="url(#c6)" fill="none" stroke-linejoin="round">
<path d="M558.5,344.0 L559.1,337.1 L559.6,331.2 L560.2,325.8 L560.7,320.1 L561.3,318.5 L561.8,309.7 L562.4,306.2 L562.9,301.4 L563.5,297.6 L564.0,294.7 L564.6,289.9 L565.1,284.7 L565.7,280.0 L566.3,278.5 L566.8,275.2 L567.4,269.1 L567.9,268.3 L568.5,262.0 L569.0,261.5 L569.6,260.0 L570.1,255.6 L570.7,252.8 L571.2,254.4 L571.8,249.5 L572.3,250.0 L572.9,246.7 L573.5,247.5 L574.0,247.7 L574.6,244.4 L575.1,243.0 L575.7,240.9 L576.2,240.6 L576.8,241.0 L577.3,241.4 L577.9,241.1 L578.4,240.3 L579.0,240.4 L579.5,239.4 L580.1,241.4 L580.7,238.0 L581.2,237.9 L581.8,234.7 L582.3,236.4 L582.9,237.5 L583.4,236.1 L584.0,237.9 L584.5,237.0 L585.1,238.2 L585.6,234.4 L586.2,235.2 L586.7,237.1 L587.3,235.7 L587.9,234.6 L588.4,235.0 L589.0,235.0 L589.5,236.2 L590.1,235.8 L590.6,234.8 L591.2,233.7 L591.7,235.4 L592.3,235.5 L592.8,232.8 L593.4,234.8 L593.9,232.3 L594.5,233.0 L595.1,232.0 L595.6,230.9 L596.2,231.8 L596.7,231.5 L597.3,233.1 L597.8,232.7 L598.4,231.1 L598.9,230.0 L599.5,230.0 L600.0,229.0 L600.6,231.1 L601.1,231.3 L601.7,230.4 L602.3,231.5 L602.8,231.6 L603.4,232.7 L603.9,230.5 L604.5,232.8 L605.0,231.0 L605.6,233.2 L606.1,230.5 L606.7,232.9 L607.2,230.8 L607.8,233.6 L608.3,232.3 L608.9,230.6 L609.5,232.8 L610.0,231.9 L610.6,232.6 L611.1,234.7 L611.7,231.9 L612.2,231.8 L612.8,233.5 L613.3,231.8 L613.9,233.3 L614.4,233.6 L615.0,232.6 L615.5,233.4 L616.1,230.2 L616.7,234.5 L617.2,232.1 L617.8,231.9 L618.3,235.2 L618.9,235.0 L619.4,232.6 L620.0,233.8 L620.5,232.9 L621.1,232.1 L621.6,233.9 L622.2,234.7 L622.7,236.6 L623.3,233.5 L623.9,234.8 L624.4,233.5 L625.0,233.6 L625.5,235.5 L626.1,232.1 L626.6,232.9 L627.2,233.2 L627.7,235.5 L628.3,234.8 L628.8,235.0 L629.4,234.9 L629.9,235.8 L630.5,234.1 L631.1,234.4 L631.6,234.4 L632.2,235.4 L632.7,233.5 L633.3,234.8 L633.8,238.1 L634.4,235.9 L634.9,235.3 L635.5,234.3 L636.0,235.7 L636.6,235.8 L637.1,236.3 L637.7,234.9 L638.3,236.2 L638.8,236.5 L639.4,236.7 L639.9,235.4 L640.5,236.7 L641.0,238.0 L641.6,235.6 L642.1,237.1 L642.7,236.1 L643.2,236.1 L643.8,235.3 L644.3,235.6 L644.9,237.4 L645.5,237.1 L646.0,238.4 L646.6,235.2 L647.1,236.7 L647.7,235.7 L648.2,237.7 L648.8,239.7 L649.3,235.8 L649.9,237.5 L650.4,237.5 L651.0,237.7 L651.5,237.2 L652.1,237.4 L652.7,239.8 L653.2,236.9 L653.8,238.8 L654.3,238.8 L654.9,236.5 L655.4,237.5 L656.0,239.0 L656.5,240.7 L657.1,238.6 L657.6,238.3 L658.2,239.1 L658.8,240.4 L659.3,239.9 L659.6,238.1 L659.6,237.8 L660.1,238.3 L660.7,239.7 L661.2,241.6 L661.8,245.6 L662.4,246.6 L662.9,248.4 L663.5,251.6 L664.0,253.2 L664.6,252.7 L665.1,256.8 L665.7,258.0 L666.2,261.4 L666.8,262.7 L667.3,266.5 L667.9,266.4 L668.4,266.8 L669.0,267.6 L669.6,270.2 L670.1,272.4 L670.7,274.8 L671.2,277.0 L671.8,278.1 L672.3,278.7 L672.9,281.7 L673.4,281.3 L674.0,284.8 L674.5,287.0 L675.1,287.5 L675.6,289.5 L676.2,290.5 L676.8,288.9 L677.3,291.6 L677.9,292.3 L678.4,292.4 L679.0,293.4 L679.5,296.5 L680.1,295.5 L680.6,297.6 L681.2,299.0 L681.7,299.5 L682.3,302.6 L682.8,302.8 L683.4,303.0 L684.0,303.1 L684.5,305.0 L685.1,305.6 L685.6,305.2 L686.2,305.6 L686.7,307.1 L687.3,307.3 L687.8,309.9 L688.4,310.5 L688.9,310.6 L689.5,312.0 L690.0,312.9 L690.6,311.2 L691.2,313.9 L691.7,315.3 L692.3,314.4 L692.8,313.5 L693.4,316.0 L693.9,315.3 L694.5,317.7 L695.0,318.4 L695.6,319.1 L696.1,319.0 L696.7,317.4 L697.2,321.2 L697.8,318.6 L698.4,322.0 L698.9,321.6 L699.5,320.9 L700.0,321.6 L700.6,322.4 L701.1,324.9 L701.7,323.2 L702.2,325.1 L702.8,321.5 L703.3,325.0 L703.9,324.9 L704.4,326.8 L705.0,326.4 L705.6,327.7 L706.1,325.5 L706.7,327.2 L707.2,326.6 L707.8,328.3 L708.3,328.5 L708.9,326.8 L709.4,329.6 L710.0,330.8 L710.5,328.7 L711.1,330.7 L711.6,330.2 L712.2,329.0 L712.8,331.1 L713.3,329.5 L713.9,331.5 L714.4,329.4 L715.0,329.8 L715.5,332.0 L716.1,331.9 L716.6,332.9 L717.2,332.0 L717.7,331.1 L718.3,334.2 L718.8,331.8 L719.4,334.5 L720.0,334.2 L720.5,335.4 L721.1,331.3 L721.6,333.7 L722.2,333.7 L722.7,334.9 L723.3,333.2 L723.8,336.8 L724.4,334.7 L724.9,332.4 L725.5,335.5 L726.0,335.2 L726.6,334.6 L727.2,336.4 L727.7,335.6 L728.3,334.8 L728.8,335.7 L729.4,335.7 L729.9,336.6 L730.5,336.0 L731.0,336.5 L731.6,335.0 L732.1,336.0 L732.7,337.2 L733.2,339.7 L733.8,336.4 L734.4,336.4 L734.9,338.4 L735.5,339.7 L736.0,338.9 L736.6,336.7 L737.1,339.0 L737.7,338.5 L738.2,337.8 L738.8,336.8 L739.3,338.3 L739.9,338.5 L740.4,339.1 L741.0,336.8 L741.6,337.5 L742.1,338.8 L742.7,340.4 L743.2,339.8 L743.8,338.4 L744.3,339.9 L744.9,338.2 L745.4,338.9 L746.0,339.0 L746.5,338.7 L747.1,338.9 L747.6,340.5 L748.2,340.0 L748.8,337.2 L749.3,341.1 L749.9,340.4 L750.4,338.8 L751.0,340.2 L751.5,341.0 L752.1,341.6 L752.6,339.6 L753.2,339.2 L753.7,338.8 L754.3,340.3 L754.8,339.3 L755.4,341.7 L756.0,340.4 L756.5,341.4 L757.1,340.5 L757.6,339.9 L758.2,339.6 L758.7,342.0 L759.3,339.5" stroke="#000" stroke-width="1.4" transform="translate(0,0.3)"/>
<path d="M558.5,345.5 L559.1,344.0 L559.6,340.5 L560.2,339.0 L560.7,334.5 L561.3,331.1 L561.8,328.4 L562.4,324.0 L562.9,321.3 L563.5,317.2 L564.0,315.1 L564.6,309.8 L565.1,307.4 L565.7,303.8 L566.3,300.4 L566.8,297.3 L567.4,296.7 L567.9,294.1 L568.5,290.4 L569.0,287.2 L569.6,285.2 L570.1,282.4 L570.7,279.9 L571.2,278.8 L571.8,277.5 L572.3,276.8 L572.9,275.0 L573.5,272.9 L574.0,270.6 L574.6,269.3 L575.1,268.3 L575.7,267.3 L576.2,265.4 L576.8,265.0 L577.3,264.0 L577.9,263.3 L578.4,263.5 L579.0,263.5 L579.5,261.3 L580.1,260.9 L580.7,261.2 L581.2,261.1 L581.8,257.8 L582.3,260.9 L582.9,260.1 L583.4,259.3 L584.0,260.7 L584.5,259.1 L585.1,257.1 L585.6,257.9 L586.2,258.1 L586.7,258.0 L587.3,258.4 L587.9,257.3 L588.4,258.4 L589.0,258.6 L589.5,258.0 L590.1,257.0 L590.6,257.5 L591.2,257.1 L591.7,259.9 L592.3,256.3 L592.8,255.0 L593.4,256.0 L593.9,257.8 L594.5,258.3 L595.1,257.0 L595.6,258.3 L596.2,256.4 L596.7,257.7 L597.3,256.0 L597.8,255.5 L598.4,259.2 L598.9,256.6 L599.5,257.6 L600.0,258.4 L600.6,257.5 L601.1,257.0 L601.7,255.6 L602.3,258.3 L602.8,255.5 L603.4,254.4 L603.9,255.9 L604.5,255.9 L605.0,256.5 L605.6,257.7 L606.1,255.8 L606.7,255.9 L607.2,255.5 L607.8,253.5 L608.3,255.5 L608.9,255.8 L609.5,254.5 L610.0,257.6 L610.6,257.4 L611.1,256.5 L611.7,256.8 L612.2,255.3 L612.8,256.4 L613.3,254.1 L613.9,254.3 L614.4,255.1 L615.0,256.3 L615.5,255.2 L616.1,255.0 L616.7,257.0 L617.2,255.4 L617.8,255.0 L618.3,255.5 L618.9,254.0 L619.4,254.4 L620.0,256.6 L620.5,255.5 L621.1,256.6 L621.6,255.0 L622.2,256.6 L622.7,254.6 L623.3,255.1 L623.9,254.5 L624.4,255.7 L625.0,257.1 L625.5,253.6 L626.1,255.7 L626.6,253.9 L627.2,255.0 L627.7,254.7 L628.3,253.4 L628.8,255.0 L629.4,253.8 L629.9,257.0 L630.5,254.4 L631.1,255.6 L631.6,255.5 L632.2,255.3 L632.7,254.9 L633.3,253.5 L633.8,257.3 L634.4,255.2 L634.9,256.0 L635.5,254.0 L636.0,255.7 L636.6,254.7 L637.1,255.6 L637.7,254.5 L638.3,254.1 L638.8,255.6 L639.4,255.1 L639.9,256.7 L640.5,254.8 L641.0,254.2 L641.6,255.8 L642.1,253.9 L642.7,257.4 L643.2,257.2 L643.8,256.6 L644.3,255.6 L644.9,255.1 L645.5,255.2 L646.0,255.2 L646.6,254.3 L647.1,255.6 L647.7,256.5 L648.2,256.4 L648.8,252.7 L649.3,257.6 L649.9,255.2 L650.4,253.4 L651.0,254.5 L651.5,256.0 L652.1,255.0 L652.7,254.1 L653.2,253.7 L653.8,256.0 L654.3,254.2 L654.9,254.7 L655.4,253.8 L656.0,253.5 L656.5,255.4 L657.1,256.6 L657.6,254.6 L658.2,253.1 L658.8,254.3 L659.3,254.8 L659.6,253.0 L659.6,250.0 L660.1,257.0 L660.7,257.9 L661.2,262.4 L661.8,264.3 L662.4,266.7 L662.9,267.4 L663.5,272.3 L664.0,273.9 L664.6,277.0 L665.1,276.5 L665.7,279.2 L666.2,279.9 L666.8,283.1 L667.3,283.7 L667.9,283.6 L668.4,286.2 L669.0,286.6 L669.6,288.0 L670.1,290.1 L670.7,292.5 L671.2,290.8 L671.8,292.7 L672.3,292.8 L672.9,297.1 L673.4,297.6 L674.0,299.1 L674.5,298.5 L675.1,297.3 L675.6,298.6 L676.2,300.1 L676.8,300.7 L677.3,300.7 L677.9,302.6 L678.4,302.6 L679.0,303.6 L679.5,306.8 L680.1,305.5 L680.6,304.2 L681.2,306.8 L681.7,307.1 L682.3,308.3 L682.8,308.7 L683.4,307.6 L684.0,309.7 L684.5,311.1 L685.1,313.9 L685.6,311.7 L686.2,313.7 L686.7,314.1 L687.3,311.7 L687.8,312.3 L688.4,315.7 L688.9,313.2 L689.5,314.1 L690.0,315.9 L690.6,314.7 L691.2,317.8 L691.7,317.8 L692.3,318.5 L692.8,318.5 L693.4,316.8 L693.9,319.6 L694.5,319.8 L695.0,320.0 L695.6,319.2 L696.1,320.1 L696.7,319.2 L697.2,321.3 L697.8,322.3 L698.4,321.8 L698.9,321.6 L699.5,323.0 L700.0,322.1 L700.6,320.7 L701.1,323.7 L701.7,323.3 L702.2,322.2 L702.8,324.8 L703.3,325.3 L703.9,325.9 L704.4,324.6 L705.0,324.7 L705.6,325.8 L706.1,325.9 L706.7,324.8 L707.2,325.5 L707.8,328.3 L708.3,327.1 L708.9,327.2 L709.4,326.8 L710.0,328.1 L710.5,328.8 L711.1,328.9 L711.6,330.6 L712.2,328.9 L712.8,329.8 L713.3,328.9 L713.9,330.8 L714.4,330.3 L715.0,331.2 L715.5,331.5 L716.1,329.8 L716.6,331.3 L717.2,330.5 L717.7,332.4 L718.3,331.3 L718.8,333.5 L719.4,332.4 L720.0,332.6 L720.5,331.6 L721.1,332.2 L721.6,332.8 L722.2,331.9 L722.7,332.8 L723.3,332.6 L723.8,332.5 L724.4,333.6 L724.9,334.1 L725.5,333.5 L726.0,334.5 L726.6,333.8 L727.2,333.2 L727.7,333.6 L728.3,335.1 L728.8,336.3 L729.4,335.1 L729.9,335.3 L730.5,334.1 L731.0,335.9 L731.6,335.9 L732.1,335.0 L732.7,336.5 L733.2,336.2 L733.8,334.3 L734.4,334.7 L734.9,335.8 L735.5,336.3 L736.0,337.8 L736.6,336.2 L737.1,336.9 L737.7,336.9 L738.2,337.8 L738.8,337.4 L739.3,337.7 L739.9,337.2 L740.4,336.1 L741.0,337.4 L741.6,339.7 L742.1,339.1 L742.7,339.9 L743.2,339.1 L743.8,337.7 L744.3,338.0 L744.9,339.2 L745.4,338.4 L746.0,339.6 L746.5,340.4 L747.1,340.5 L747.6,340.0 L748.2,337.6 L748.8,340.7 L749.3,337.9 L749.9,337.9 L750.4,339.7 L751.0,339.6 L751.5,340.3 L752.1,339.8 L752.6,339.1 L753.2,339.9 L753.7,338.9 L754.3,338.7 L754.8,339.7 L755.4,339.8 L756.0,340.3 L756.5,340.0 L757.1,341.6 L757.6,340.0 L758.2,340.3 L758.7,341.6 L759.3,338.3" stroke="#000" stroke-width="1.4" transform="translate(0,0.3)"/>
<path d="M558.5,346.1 L559.1,342.2 L559.6,337.5 L560.2,336.9 L560.7,332.9 L561.3,331.2 L561.8,328.3 L562.4,325.2 L562.9,322.7 L563.5,320.0 L564.0,318.6 L564.6,316.5 L565.1,315.5 L565.7,315.1 L566.3,311.8 L566.8,312.1 L567.4,310.8 L567.9,307.1 L568.5,306.5 L569.0,305.9 L569.6,304.1 L570.1,302.8 L570.7,304.2 L571.2,301.8 L571.8,302.1 L572.3,299.8 L572.9,299.8 L573.5,296.8 L574.0,297.0 L574.6,297.8 L575.1,296.4 L575.7,297.1 L576.2,295.2 L576.8,294.1 L577.3,293.9 L577.9,295.8 L578.4,293.6 L579.0,292.3 L579.5,292.1 L580.1,290.7 L580.7,293.0 L581.2,290.6 L581.8,291.6 L582.3,290.3 L582.9,289.7 L583.4,289.1 L584.0,290.2 L584.5,289.0 L585.1,290.2 L585.6,290.2 L586.2,287.8 L586.7,288.2 L587.3,289.7 L587.9,288.6 L588.4,287.4 L589.0,285.5 L589.5,285.9 L590.1,286.0 L590.6,288.6 L591.2,286.6 L591.7,285.8 L592.3,285.7 L592.8,285.6 L593.4,286.2 L593.9,283.8 L594.5,284.0 L595.1,285.6 L595.6,286.5 L596.2,283.1 L596.7,285.9 L597.3,283.8 L597.8,283.0 L598.4,286.0 L598.9,284.6 L599.5,285.3 L600.0,284.3 L600.6,284.4 L601.1,282.6 L601.7,284.0 L602.3,284.6 L602.8,283.3 L603.4,284.8 L603.9,284.9 L604.5,282.0 L605.0,285.3 L605.6,284.9 L606.1,284.3 L606.7,285.5 L607.2,286.6 L607.8,283.1 L608.3,285.1 L608.9,284.8 L609.5,284.6 L610.0,285.2 L610.6,285.3 L611.1,283.9 L611.7,281.5 L612.2,283.3 L612.8,283.2 L613.3,285.7 L613.9,284.0 L614.4,285.3 L615.0,283.1 L615.5,284.2 L616.1,283.9 L616.7,284.0 L617.2,284.5 L617.8,285.6 L618.3,283.2 L618.9,285.4 L619.4,285.1 L620.0,284.1 L620.5,284.6 L621.1,283.5 L621.6,282.7 L622.2,283.5 L622.7,283.5 L623.3,283.7 L623.9,282.8 L624.4,285.7 L625.0,283.3 L625.5,284.7 L626.1,285.0 L626.6,283.7 L627.2,284.1 L627.7,283.0 L628.3,282.4 L628.8,286.2 L629.4,283.7 L629.9,281.4 L630.5,282.6 L631.1,282.0 L631.6,283.5 L632.2,285.1 L632.7,284.8 L633.3,282.8 L633.8,282.5 L634.4,284.3 L634.9,283.8 L635.5,283.2 L636.0,285.4 L636.6,283.9 L637.1,281.7 L637.7,281.1 L638.3,283.6 L638.8,281.5 L639.4,284.0 L639.9,284.4 L640.5,285.9 L641.0,282.4 L641.6,283.9 L642.1,280.9 L642.7,283.1 L643.2,283.2 L643.8,285.4 L644.3,281.8 L644.9,283.8 L645.5,283.6 L646.0,285.8 L646.6,282.4 L647.1,282.3 L647.7,284.1 L648.2,283.3 L648.8,283.0 L649.3,282.3 L649.9,283.3 L650.4,281.5 L651.0,283.7 L651.5,284.1 L652.1,283.9 L652.7,286.2 L653.2,284.3 L653.8,282.3 L654.3,283.1 L654.9,284.3 L655.4,283.0 L656.0,285.6 L656.5,283.7 L657.1,282.8 L657.6,282.6 L658.2,284.2 L658.8,282.4 L659.3,281.3 L659.6,279.3 L659.6,283.6 L660.1,283.8 L660.7,287.7 L661.2,289.5 L661.8,288.0 L662.4,290.0 L662.9,291.0 L663.5,293.1 L664.0,294.0 L664.6,294.0 L665.1,294.1 L665.7,297.3 L666.2,300.0 L666.8,297.8 L667.3,299.6 L667.9,300.5 L668.4,302.0 L669.0,300.6 L669.6,304.0 L670.1,304.4 L670.7,307.9 L671.2,307.3 L671.8,308.3 L672.3,308.4 L672.9,308.7 L673.4,310.7 L674.0,308.7 L674.5,312.5 L675.1,312.5 L675.6,312.5 L676.2,314.8 L676.8,313.4 L677.3,314.0 L677.9,315.7 L678.4,313.8 L679.0,316.4 L679.5,316.8 L680.1,318.7 L680.6,320.1 L681.2,319.4 L681.7,319.6 L682.3,320.3 L682.8,319.4 L683.4,323.4 L684.0,322.5 L684.5,323.7 L685.1,320.6 L685.6,323.2 L686.2,323.5 L686.7,324.6 L687.3,322.8 L687.8,324.6 L688.4,324.3 L688.9,327.2 L689.5,324.0 L690.0,325.2 L690.6,325.4 L691.2,325.0 L691.7,326.9 L692.3,327.2 L692.8,326.5 L693.4,327.2 L693.9,328.2 L694.5,328.2 L695.0,329.1 L695.6,328.0 L696.1,328.0 L696.7,329.3 L697.2,327.5 L697.8,331.5 L698.4,330.4 L698.9,328.5 L699.5,331.0 L700.0,332.6 L700.6,329.5 L701.1,330.7 L701.7,332.8 L702.2,330.8 L702.8,333.0 L703.3,333.6 L703.9,332.5 L704.4,333.0 L705.0,333.9 L705.6,333.3 L706.1,334.1 L706.7,333.1 L707.2,333.4 L707.8,332.7 L708.3,334.2 L708.9,335.3 L709.4,335.5 L710.0,334.4 L710.5,332.6 L711.1,333.5 L711.6,335.3 L712.2,333.7 L712.8,336.2 L713.3,333.9 L713.9,335.6 L714.4,334.4 L715.0,334.7 L715.5,335.8 L716.1,335.3 L716.6,337.0 L717.2,336.0 L717.7,334.8 L718.3,331.6 L718.8,335.4 L719.4,336.2 L720.0,337.6 L720.5,335.4 L721.1,338.5 L721.6,337.6 L722.2,336.4 L722.7,338.3 L723.3,335.3 L723.8,335.9 L724.4,337.8 L724.9,337.9 L725.5,338.8 L726.0,339.0 L726.6,337.1 L727.2,336.9 L727.7,337.3 L728.3,337.5 L728.8,338.5 L729.4,337.5 L729.9,339.6 L730.5,338.1 L731.0,336.5 L731.6,336.8 L732.1,338.8 L732.7,338.7 L733.2,336.9 L733.8,336.5 L734.4,340.2 L734.9,339.1 L735.5,338.4 L736.0,337.4 L736.6,339.7 L737.1,338.2 L737.7,339.2 L738.2,336.4 L738.8,338.6 L739.3,339.2 L739.9,339.5 L740.4,338.0 L741.0,338.5 L741.6,340.5 L742.1,339.1 L742.7,340.9 L743.2,340.3 L743.8,340.9 L744.3,341.0 L744.9,340.4 L745.4,340.7 L746.0,339.1 L746.5,338.9 L747.1,340.0 L747.6,341.1 L748.2,339.0 L748.8,342.1 L749.3,342.1 L749.9,339.2 L750.4,339.3 L751.0,339.0 L751.5,340.3 L752.1,341.5 L752.6,340.8 L753.2,339.6 L753.7,341.1 L754.3,341.1 L754.8,341.9 L755.4,341.7 L756.0,339.5 L756.5,339.9 L757.1,341.8 L757.6,341.7 L758.2,341.2 L758.7,340.0 L759.3,341.9" stroke="#000" stroke-width="1.4" transform="translate(0,0.3)"/>
<path d="M558.5,345.2 L559.1,344.7 L559.6,341.4 L560.2,337.6 L560.7,335.2 L561.3,335.9 L561.8,334.0 L562.4,330.9 L562.9,331.0 L563.5,330.0 L564.0,327.7 L564.6,327.1 L565.1,325.1 L565.7,324.5 L566.3,325.1 L566.8,323.8 L567.4,322.9 L567.9,323.6 L568.5,322.4 L569.0,319.6 L569.6,321.7 L570.1,318.2 L570.7,318.4 L571.2,318.3 L571.8,317.1 L572.3,316.6 L572.9,315.4 L573.5,316.7 L574.0,316.1 L574.6,315.7 L575.1,313.0 L575.7,313.7 L576.2,315.5 L576.8,314.5 L577.3,314.6 L577.9,313.5 L578.4,313.0 L579.0,310.5 L579.5,314.8 L580.1,311.4 L580.7,311.8 L581.2,312.8 L581.8,312.0 L582.3,312.1 L582.9,311.3 L583.4,310.1 L584.0,312.7 L584.5,309.4 L585.1,311.0 L585.6,308.8 L586.2,309.8 L586.7,308.8 L587.3,309.3 L587.9,308.6 L588.4,309.6 L589.0,310.4 L589.5,308.6 L590.1,308.5 L590.6,306.8 L591.2,311.2 L591.7,309.1 L592.3,307.6 L592.8,310.0 L593.4,308.8 L593.9,306.1 L594.5,306.8 L595.1,309.2 L595.6,306.6 L596.2,306.7 L596.7,307.1 L597.3,307.4 L597.8,307.5 L598.4,308.6 L598.9,308.2 L599.5,306.7 L600.0,307.3 L600.6,305.3 L601.1,307.7 L601.7,309.9 L602.3,307.5 L602.8,306.8 L603.4,306.6 L603.9,306.9 L604.5,307.8 L605.0,305.2 L605.6,307.5 L606.1,305.9 L606.7,307.0 L607.2,307.9 L607.8,305.0 L608.3,309.2 L608.9,307.4 L609.5,305.9 L610.0,306.7 L610.6,305.4 L611.1,306.3 L611.7,306.7 L612.2,303.7 L612.8,306.3 L613.3,306.2 L613.9,307.2 L614.4,306.8 L615.0,305.2 L615.5,305.2 L616.1,305.8 L616.7,306.5 L617.2,305.0 L617.8,307.5 L618.3,306.0 L618.9,305.9 L619.4,306.5 L620.0,305.3 L620.5,306.2 L621.1,306.3 L621.6,303.4 L622.2,304.5 L622.7,304.0 L623.3,305.2 L623.9,304.2 L624.4,304.4 L625.0,303.9 L625.5,302.5 L626.1,305.4 L626.6,304.8 L627.2,305.1 L627.7,308.9 L628.3,306.5 L628.8,305.0 L629.4,304.2 L629.9,305.5 L630.5,303.6 L631.1,303.4 L631.6,305.3 L632.2,303.2 L632.7,302.9 L633.3,304.2 L633.8,305.8 L634.4,303.1 L634.9,304.9 L635.5,305.1 L636.0,304.5 L636.6,305.2 L637.1,303.4 L637.7,303.7 L638.3,303.2 L638.8,303.9 L639.4,305.4 L639.9,304.7 L640.5,303.5 L641.0,304.9 L641.6,301.2 L642.1,304.7 L642.7,305.1 L643.2,303.1 L643.8,303.6 L644.3,304.4 L644.9,304.6 L645.5,303.9 L646.0,303.4 L646.6,303.5 L647.1,304.6 L647.7,303.8 L648.2,303.3 L648.8,303.4 L649.3,307.6 L649.9,305.2 L650.4,305.1 L651.0,304.5 L651.5,304.0 L652.1,303.2 L652.7,303.5 L653.2,304.3 L653.8,304.1 L654.3,302.2 L654.9,304.8 L655.4,303.8 L656.0,302.4 L656.5,303.7 L657.1,306.4 L657.6,303.7 L658.2,304.5 L658.8,304.2 L659.3,302.9 L659.6,299.1 L659.6,303.5 L660.1,305.2 L660.7,304.8 L661.2,306.2 L661.8,307.4 L662.4,308.0 L662.9,308.9 L663.5,310.3 L664.0,311.2 L664.6,311.4 L665.1,313.2 L665.7,314.3 L666.2,312.2 L666.8,314.5 L667.3,315.0 L667.9,315.7 L668.4,316.2 L669.0,316.8 L669.6,317.3 L670.1,318.9 L670.7,317.5 L671.2,319.9 L671.8,318.5 L672.3,322.3 L672.9,321.9 L673.4,320.1 L674.0,321.8 L674.5,322.9 L675.1,322.2 L675.6,324.2 L676.2,323.4 L676.8,326.4 L677.3,324.9 L677.9,325.5 L678.4,324.6 L679.0,324.6 L679.5,326.9 L680.1,324.5 L680.6,327.3 L681.2,329.3 L681.7,330.0 L682.3,326.0 L682.8,328.1 L683.4,329.0 L684.0,329.5 L684.5,330.1 L685.1,327.8 L685.6,329.6 L686.2,327.8 L686.7,330.3 L687.3,332.9 L687.8,329.7 L688.4,331.3 L688.9,331.4 L689.5,329.6 L690.0,331.9 L690.6,330.5 L691.2,332.1 L691.7,333.1 L692.3,331.9 L692.8,333.3 L693.4,331.5 L693.9,332.0 L694.5,333.2 L695.0,332.8 L695.6,333.0 L696.1,334.1 L696.7,333.0 L697.2,334.4 L697.8,333.7 L698.4,335.6 L698.9,334.6 L699.5,334.4 L700.0,335.8 L700.6,335.6 L701.1,335.9 L701.7,334.6 L702.2,336.3 L702.8,335.2 L703.3,334.1 L703.9,335.5 L704.4,337.8 L705.0,336.0 L705.6,335.2 L706.1,336.7 L706.7,335.3 L707.2,336.0 L707.8,336.3 L708.3,337.1 L708.9,337.5 L709.4,337.3 L710.0,337.1 L710.5,336.7 L711.1,336.9 L711.6,337.8 L712.2,337.4 L712.8,337.2 L713.3,339.5 L713.9,338.6 L714.4,338.7 L715.0,338.2 L715.5,338.3 L716.1,338.4 L716.6,339.1 L717.2,337.5 L717.7,338.0 L718.3,340.2 L718.8,338.4 L719.4,339.7 L720.0,336.7 L720.5,339.1 L721.1,339.1 L721.6,338.7 L722.2,339.0 L722.7,338.9 L723.3,337.2 L723.8,338.7 L724.4,338.1 L724.9,337.8 L725.5,340.2 L726.0,337.3 L726.6,338.5 L727.2,338.2 L727.7,340.3 L728.3,338.5 L728.8,339.0 L729.4,340.0 L729.9,337.0 L730.5,338.9 L731.0,339.8 L731.6,339.4 L732.1,338.7 L732.7,338.5 L733.2,339.1 L733.8,338.4 L734.4,338.2 L734.9,341.2 L735.5,340.4 L736.0,340.9 L736.6,339.8 L737.1,338.4 L737.7,339.3 L738.2,341.2 L738.8,340.4 L739.3,339.0 L739.9,340.7 L740.4,340.3 L741.0,339.9 L741.6,342.2 L742.1,339.4 L742.7,339.9 L743.2,339.7 L743.8,341.4 L744.3,341.2 L744.9,341.0 L745.4,340.1 L746.0,340.3 L746.5,340.3 L747.1,338.5 L747.6,339.0 L748.2,341.3 L748.8,341.2 L749.3,338.7 L749.9,340.9 L750.4,339.1 L751.0,338.8 L751.5,341.2 L752.1,340.9 L752.6,340.6 L753.2,341.6 L753.7,341.8 L754.3,341.2 L754.8,339.8 L755.4,341.2 L756.0,341.0 L756.5,341.3 L757.1,342.3 L757.6,339.2 L758.2,343.4 L758.7,341.6 L759.3,340.3" stroke="#000" stroke-width="1.4" transform="translate(0,0.3)"/>
<path d="M558.5,346.5 L559.1,342.9 L559.6,341.0 L560.2,342.4 L560.7,340.3 L561.3,341.0 L561.8,338.6 L562.4,338.5 L562.9,337.8 L563.5,336.1 L564.0,336.6 L564.6,335.3 L565.1,335.7 L565.7,337.4 L566.3,335.5 L566.8,334.9 L567.4,336.8 L567.9,333.5 L568.5,334.7 L569.0,334.2 L569.6,335.3 L570.1,334.1 L570.7,333.6 L571.2,334.2 L571.8,333.5 L572.3,335.8 L572.9,331.8 L573.5,334.3 L574.0,335.3 L574.6,333.8 L575.1,333.5 L575.7,331.8 L576.2,333.2 L576.8,331.7 L577.3,332.9 L577.9,329.2 L578.4,330.9 L579.0,329.1 L579.5,332.2 L580.1,330.2 L580.7,331.8 L581.2,329.9 L581.8,329.7 L582.3,332.0 L582.9,331.3 L583.4,331.2 L584.0,331.4 L584.5,330.4 L585.1,330.5 L585.6,330.9 L586.2,329.0 L586.7,328.4 L587.3,330.3 L587.9,329.3 L588.4,328.5 L589.0,328.7 L589.5,329.0 L590.1,327.3 L590.6,327.1 L591.2,327.2 L591.7,328.0 L592.3,325.5 L592.8,325.6 L593.4,327.9 L593.9,327.5 L594.5,325.9 L595.1,328.0 L595.6,326.6 L596.2,326.9 L596.7,327.6 L597.3,327.0 L597.8,328.4 L598.4,327.2 L598.9,328.7 L599.5,323.9 L600.0,324.7 L600.6,324.9 L601.1,325.9 L601.7,325.0 L602.3,324.7 L602.8,324.9 L603.4,324.9 L603.9,326.9 L604.5,325.3 L605.0,326.3 L605.6,327.0 L606.1,326.9 L606.7,325.1 L607.2,324.3 L607.8,326.9 L608.3,323.5 L608.9,323.7 L609.5,325.7 L610.0,325.7 L610.6,325.2 L611.1,324.0 L611.7,325.5 L612.2,326.2 L612.8,324.6 L613.3,327.2 L613.9,324.7 L614.4,323.5 L615.0,324.4 L615.5,323.9 L616.1,324.1 L616.7,323.8 L617.2,324.4 L617.8,325.4 L618.3,324.7 L618.9,324.5 L619.4,323.0 L620.0,322.6 L620.5,323.9 L621.1,325.1 L621.6,325.0 L622.2,324.4 L622.7,322.6 L623.3,323.8 L623.9,324.1 L624.4,324.9 L625.0,323.0 L625.5,323.7 L626.1,324.0 L626.6,323.8 L627.2,322.0 L627.7,324.0 L628.3,321.9 L628.8,322.4 L629.4,323.7 L629.9,322.7 L630.5,323.8 L631.1,324.5 L631.6,323.9 L632.2,324.6 L632.7,323.0 L633.3,323.5 L633.8,322.9 L634.4,322.5 L634.9,326.9 L635.5,323.1 L636.0,325.4 L636.6,323.2 L637.1,324.3 L637.7,323.2 L638.3,321.8 L638.8,325.1 L639.4,323.0 L639.9,323.3 L640.5,325.2 L641.0,322.4 L641.6,323.1 L642.1,323.7 L642.7,323.9 L643.2,319.5 L643.8,323.5 L644.3,325.0 L644.9,324.0 L645.5,323.4 L646.0,323.4 L646.6,323.0 L647.1,324.1 L647.7,322.3 L648.2,323.4 L648.8,324.4 L649.3,323.7 L649.9,323.2 L650.4,321.9 L651.0,322.3 L651.5,323.1 L652.1,322.7 L652.7,322.5 L653.2,320.5 L653.8,323.4 L654.3,322.2 L654.9,321.9 L655.4,323.7 L656.0,322.5 L656.5,322.5 L657.1,323.2 L657.6,322.0 L658.2,321.5 L658.8,321.4 L659.3,322.8 L659.6,318.6 L659.6,322.6 L660.1,320.7 L660.7,325.1 L661.2,324.1 L661.8,323.8 L662.4,325.1 L662.9,325.0 L663.5,326.0 L664.0,325.8 L664.6,325.7 L665.1,327.7 L665.7,327.7 L666.2,328.3 L666.8,329.1 L667.3,329.0 L667.9,330.6 L668.4,328.9 L669.0,328.2 L669.6,328.5 L670.1,329.3 L670.7,332.1 L671.2,329.7 L671.8,332.4 L672.3,332.0 L672.9,330.2 L673.4,333.7 L674.0,331.8 L674.5,332.7 L675.1,333.4 L675.6,334.5 L676.2,333.3 L676.8,334.5 L677.3,333.0 L677.9,333.1 L678.4,336.1 L679.0,335.4 L679.5,335.4 L680.1,336.5 L680.6,336.7 L681.2,335.5 L681.7,336.0 L682.3,337.8 L682.8,336.7 L683.4,335.7 L684.0,337.8 L684.5,337.6 L685.1,335.0 L685.6,335.5 L686.2,338.9 L686.7,338.7 L687.3,336.9 L687.8,338.8 L688.4,337.9 L688.9,338.2 L689.5,337.2 L690.0,340.8 L690.6,340.5 L691.2,339.6 L691.7,337.2 L692.3,338.6 L692.8,340.4 L693.4,338.1 L693.9,338.0 L694.5,339.1 L695.0,339.3 L695.6,338.5 L696.1,337.8 L696.7,339.0 L697.2,338.7 L697.8,339.4 L698.4,339.8 L698.9,340.5 L699.5,339.3 L700.0,340.0 L700.6,340.0 L701.1,338.8 L701.7,339.3 L702.2,339.0 L702.8,341.7 L703.3,339.4 L703.9,340.8 L704.4,341.1 L705.0,341.2 L705.6,339.0 L706.1,339.4 L706.7,341.2 L707.2,341.7 L707.8,340.5 L708.3,341.0 L708.9,338.8 L709.4,342.2 L710.0,342.7 L710.5,341.0 L711.1,340.7 L711.6,340.7 L712.2,340.0 L712.8,338.6 L713.3,341.3 L713.9,341.6 L714.4,342.9 L715.0,340.8 L715.5,340.1 L716.1,341.4 L716.6,339.8 L717.2,341.1 L717.7,339.5 L718.3,340.8 L718.8,342.4 L719.4,342.0 L720.0,343.0 L720.5,343.2 L721.1,341.1 L721.6,340.4 L722.2,339.2 L722.7,341.5 L723.3,341.7 L723.8,342.7 L724.4,340.4 L724.9,341.1 L725.5,342.2 L726.0,340.8 L726.6,341.0 L727.2,343.6 L727.7,340.8 L728.3,341.5 L728.8,342.1 L729.4,342.1 L729.9,339.8 L730.5,340.0 L731.0,339.7 L731.6,343.0 L732.1,342.5 L732.7,340.8 L733.2,343.1 L733.8,342.6 L734.4,343.8 L734.9,339.8 L735.5,340.6 L736.0,341.3 L736.6,341.6 L737.1,342.3 L737.7,342.3 L738.2,341.2 L738.8,342.7 L739.3,340.5 L739.9,342.4 L740.4,342.9 L741.0,340.5 L741.6,342.1 L742.1,341.3 L742.7,342.4 L743.2,344.4 L743.8,341.4 L744.3,343.5 L744.9,340.8 L745.4,343.7 L746.0,344.0 L746.5,341.7 L747.1,341.5 L747.6,341.9 L748.2,343.4 L748.8,341.1 L749.3,343.7 L749.9,342.6 L750.4,342.9 L751.0,342.5 L751.5,341.1 L752.1,342.8 L752.6,341.5 L753.2,341.3 L753.7,344.0 L754.3,343.4 L754.8,342.5 L755.4,342.7 L756.0,341.8 L756.5,344.2 L757.1,341.3 L757.6,341.3 L758.2,342.3 L758.7,343.6 L759.3,342.1" stroke="#000" stroke-width="1.4" transform="translate(0,0.3)"/>
<path d="M558.5,345.0 L558.8,341.6 L559.1,338.4 L559.3,335.2 L559.6,332.2 L559.9,329.2 L560.2,326.3 L560.4,323.5 L560.7,320.8 L561.0,318.1 L561.3,315.6 L561.5,313.0 L561.8,310.6 L562.1,308.2 L562.4,305.9 L562.7,303.7 L562.9,301.5 L563.2,299.3 L563.5,297.3 L563.8,295.2 L564.0,293.2 L564.3,291.2 L564.6,289.3 L564.9,287.3 L565.1,285.4 L565.4,283.5 L565.7,281.6 L566.0,279.7 L566.3,277.8 L566.5,276.0 L566.8,274.2 L567.1,272.4 L567.4,270.7 L567.6,269.0 L567.9,267.4 L568.2,265.8 L568.5,264.3 L568.7,262.9 L569.0,261.5 L569.3,260.2 L569.6,259.0 L571.0,253.7 L572.3,249.7 L573.7,246.5 L575.1,244.0 L576.5,242.1 L577.9,240.5 L579.3,239.3 L580.7,238.2 L582.0,237.4 L583.4,236.7 L584.8,236.2 L586.2,235.9 L587.6,235.6 L589.0,235.5 L590.3,235.4 L591.7,235.3 L593.1,235.3 L594.5,235.3 L595.9,235.3 L597.3,235.3 L598.7,235.3 L600.0,235.3 L601.4,235.3 L602.8,235.3 L604.2,235.3 L605.6,235.3 L607.0,235.3 L608.3,235.3 L609.7,235.3 L611.1,235.3 L612.5,235.3 L613.9,235.3 L615.3,235.3 L616.7,235.3 L618.0,235.3 L619.4,235.3 L620.8,235.3 L622.2,235.3 L623.6,235.3 L625.0,235.3 L626.3,235.3 L627.7,235.3 L629.1,235.3 L630.5,235.3 L631.9,235.3 L633.3,235.3 L634.7,235.3 L636.0,235.3 L637.4,235.3 L638.8,235.3 L640.2,235.3 L641.6,235.3 L643.0,235.3 L644.3,235.3 L645.7,235.3 L647.1,235.3 L648.5,235.3 L649.9,235.3 L651.3,235.3 L652.7,235.3 L654.0,235.3 L655.4,235.3 L656.8,235.3 L658.2,235.3 L659.6,235.3 L659.6,232.7 L660.1,235.3 L660.7,237.9 L661.2,240.4 L661.8,242.9 L662.4,245.3 L662.9,247.6 L663.5,249.9 L664.0,252.1 L664.6,254.2 L665.1,256.3 L665.7,258.4 L666.2,260.4 L666.8,262.3 L667.3,264.2 L667.9,266.1 L668.4,267.9 L669.0,269.7 L669.6,271.4 L670.1,273.0 L670.7,274.7 L671.2,276.3 L671.8,277.8 L672.3,279.3 L672.9,280.8 L673.4,282.2 L674.0,283.6 L674.5,285.0 L675.1,286.3 L675.6,287.7 L676.2,288.9 L677.9,292.5 L679.5,295.9 L681.2,299.0 L682.8,301.9 L684.5,304.6 L686.2,307.1 L687.8,309.5 L689.5,311.6 L691.2,313.6 L692.8,315.5 L694.5,317.3 L696.1,318.9 L697.8,320.4 L699.5,321.8 L701.1,323.1 L702.8,324.4 L704.4,325.5 L706.1,326.6 L707.8,327.6 L709.4,328.5 L711.1,329.4 L712.8,330.2 L714.4,331.0 L716.1,331.7 L717.7,332.4 L719.4,333.0 L721.1,333.6 L722.7,334.2 L724.4,334.7 L726.0,335.2 L727.7,335.7 L729.4,336.1 L731.0,336.5 L732.7,336.9 L734.4,337.3 L736.0,337.6 L737.7,337.9 L739.3,338.3 L741.0,338.6 L742.7,338.8 L744.3,339.1 L746.0,339.3 L747.6,339.6 L749.3,339.8 L751.0,340.0 L752.6,340.2 L754.3,340.4 L756.0,340.6 L757.6,340.8 L759.0,340.9 L759.3,340.9" stroke="#f01a1a" stroke-width="1.25"/>
<path d="M558.5,345.0 L558.8,343.9 L559.1,342.8 L559.3,341.6 L559.6,340.3 L559.9,338.9 L560.2,337.4 L560.4,336.0 L560.7,334.5 L561.0,333.0 L561.3,331.4 L561.5,329.8 L561.8,328.1 L562.1,326.4 L562.4,324.6 L562.7,322.8 L562.9,320.9 L563.2,319.1 L563.5,317.2 L563.8,315.3 L564.0,313.5 L564.3,311.7 L564.6,309.9 L564.9,308.2 L565.1,306.5 L565.4,304.9 L565.7,303.3 L566.0,301.8 L566.3,300.3 L566.5,298.9 L566.8,297.5 L567.1,296.2 L567.4,294.9 L567.6,293.6 L567.9,292.4 L568.2,291.2 L568.5,290.0 L568.7,288.9 L569.0,287.8 L569.3,286.6 L569.6,285.5 L571.0,280.4 L572.3,275.7 L573.7,271.7 L575.1,268.3 L576.5,265.6 L577.9,263.6 L579.3,262.1 L580.7,261.0 L582.0,260.2 L583.4,259.6 L584.8,259.1 L586.2,258.8 L587.6,258.4 L589.0,258.2 L590.3,257.9 L591.7,257.7 L593.1,257.5 L594.5,257.4 L595.9,257.2 L597.3,257.1 L598.7,256.9 L600.0,256.8 L601.4,256.7 L602.8,256.6 L604.2,256.5 L605.6,256.4 L607.0,256.3 L608.3,256.3 L609.7,256.2 L611.1,256.1 L612.5,256.0 L613.9,256.0 L615.3,255.9 L616.7,255.8 L618.0,255.8 L619.4,255.7 L620.8,255.7 L622.2,255.6 L623.6,255.6 L625.0,255.5 L626.3,255.5 L627.7,255.4 L629.1,255.4 L630.5,255.4 L631.9,255.3 L633.3,255.3 L634.7,255.3 L636.0,255.2 L637.4,255.2 L638.8,255.2 L640.2,255.2 L641.6,255.1 L643.0,255.1 L644.3,255.1 L645.7,255.1 L647.1,255.1 L648.5,255.1 L649.9,255.1 L651.3,255.0 L652.7,255.0 L654.0,255.0 L655.4,255.0 L656.8,255.0 L658.2,255.0 L659.6,255.0 L659.6,252.6 L660.1,255.9 L660.7,258.9 L661.2,261.7 L661.8,264.4 L662.4,266.8 L662.9,269.1 L663.5,271.3 L664.0,273.3 L664.6,275.2 L665.1,277.0 L665.7,278.7 L666.2,280.4 L666.8,281.9 L667.3,283.3 L667.9,284.7 L668.4,286.1 L669.0,287.3 L669.6,288.5 L670.1,289.7 L670.7,290.8 L671.2,291.9 L671.8,292.9 L672.3,293.9 L672.9,294.9 L673.4,295.8 L674.0,296.7 L674.5,297.6 L675.1,298.4 L675.6,299.2 L676.2,300.0 L677.9,302.3 L679.5,304.4 L681.2,306.4 L682.8,308.2 L684.5,309.9 L686.2,311.6 L687.8,313.1 L689.5,314.6 L691.2,316.0 L692.8,317.3 L694.5,318.6 L696.1,319.8 L697.8,320.9 L699.5,322.0 L701.1,323.0 L702.8,324.0 L704.4,325.0 L706.1,325.9 L707.8,326.8 L709.4,327.6 L711.1,328.4 L712.8,329.1 L714.4,329.8 L716.1,330.5 L717.7,331.2 L719.4,331.8 L721.1,332.4 L722.7,333.0 L724.4,333.5 L726.0,334.0 L727.7,334.5 L729.4,335.0 L731.0,335.4 L732.7,335.9 L734.4,336.3 L736.0,336.7 L737.7,337.1 L739.3,337.4 L741.0,337.8 L742.7,338.1 L744.3,338.4 L746.0,338.7 L747.6,339.0 L749.3,339.3 L751.0,339.5 L752.6,339.8 L754.3,340.0 L756.0,340.2 L757.6,340.4 L759.0,340.6 L759.3,340.6" stroke="#f01a1a" stroke-width="1.25"/>
<path d="M558.5,345.0 L558.8,343.0 L559.1,341.1 L559.3,339.4 L559.6,337.8 L559.9,336.2 L560.2,334.7 L560.4,333.3 L560.7,332.0 L561.0,330.7 L561.3,329.5 L561.5,328.3 L561.8,327.2 L562.1,326.1 L562.4,325.0 L562.7,324.0 L562.9,323.0 L563.2,322.1 L563.5,321.2 L563.8,320.3 L564.0,319.4 L564.3,318.5 L564.6,317.7 L564.9,316.9 L565.1,316.1 L565.4,315.3 L565.7,314.5 L566.0,313.7 L566.3,313.0 L566.5,312.2 L566.8,311.5 L567.1,310.8 L567.4,310.1 L567.6,309.4 L567.9,308.7 L568.2,308.0 L568.5,307.3 L568.7,306.7 L569.0,306.1 L569.3,305.5 L569.6,304.9 L571.0,302.1 L572.3,299.8 L573.7,297.9 L575.1,296.3 L576.5,294.9 L577.9,293.7 L579.3,292.5 L580.7,291.5 L582.0,290.6 L583.4,289.8 L584.8,289.0 L586.2,288.3 L587.6,287.7 L589.0,287.2 L590.3,286.7 L591.7,286.3 L593.1,285.9 L594.5,285.6 L595.9,285.3 L597.3,285.1 L598.7,284.9 L600.0,284.8 L601.4,284.6 L602.8,284.5 L604.2,284.4 L605.6,284.3 L607.0,284.2 L608.3,284.2 L609.7,284.1 L611.1,284.0 L612.5,284.0 L613.9,283.9 L615.3,283.9 L616.7,283.9 L618.0,283.8 L619.4,283.8 L620.8,283.7 L622.2,283.7 L623.6,283.7 L625.0,283.6 L626.3,283.6 L627.7,283.6 L629.1,283.5 L630.5,283.5 L631.9,283.5 L633.3,283.5 L634.7,283.5 L636.0,283.4 L637.4,283.4 L638.8,283.4 L640.2,283.4 L641.6,283.4 L643.0,283.4 L644.3,283.4 L645.7,283.4 L647.1,283.3 L648.5,283.3 L649.9,283.3 L651.3,283.3 L652.7,283.3 L654.0,283.3 L655.4,283.3 L656.8,283.3 L658.2,283.3 L659.6,283.3 L659.6,283.1 L660.1,284.5 L660.7,286.0 L661.2,287.3 L661.8,288.7 L662.4,289.9 L662.9,291.2 L663.5,292.4 L664.0,293.6 L664.6,294.8 L665.1,295.9 L665.7,297.0 L666.2,298.1 L666.8,299.2 L667.3,300.2 L667.9,301.2 L668.4,302.2 L669.0,303.1 L669.6,304.0 L670.1,304.9 L670.7,305.8 L671.2,306.6 L671.8,307.5 L672.3,308.3 L672.9,309.1 L673.4,309.8 L674.0,310.6 L674.5,311.3 L675.1,312.0 L675.6,312.7 L676.2,313.4 L677.9,315.3 L679.5,317.0 L681.2,318.7 L682.8,320.2 L684.5,321.6 L686.2,322.9 L687.8,324.1 L689.5,325.3 L691.2,326.3 L692.8,327.3 L694.5,328.2 L696.1,329.0 L697.8,329.8 L699.5,330.5 L701.1,331.2 L702.8,331.8 L704.4,332.4 L706.1,333.0 L707.8,333.5 L709.4,334.0 L711.1,334.4 L712.8,334.8 L714.4,335.2 L716.1,335.6 L717.7,336.0 L719.4,336.3 L721.1,336.6 L722.7,336.9 L724.4,337.2 L726.0,337.4 L727.7,337.7 L729.4,337.9 L731.0,338.1 L732.7,338.3 L734.4,338.5 L736.0,338.7 L737.7,338.9 L739.3,339.0 L741.0,339.2 L742.7,339.3 L744.3,339.5 L746.0,339.6 L747.6,339.8 L749.3,339.9 L751.0,340.0 L752.6,340.1 L754.3,340.3 L756.0,340.4 L757.6,340.5 L759.0,340.6 L759.3,340.6" stroke="#f01a1a" stroke-width="1.25"/>
<path d="M558.5,345.0 L558.8,343.6 L559.1,342.3 L559.3,341.1 L559.6,340.0 L559.9,339.0 L560.2,338.0 L560.4,337.1 L560.7,336.2 L561.0,335.3 L561.3,334.6 L561.5,333.8 L561.8,333.1 L562.1,332.4 L562.4,331.7 L562.7,331.1 L562.9,330.5 L563.2,329.9 L563.5,329.3 L563.8,328.8 L564.0,328.2 L564.3,327.7 L564.6,327.2 L564.9,326.7 L565.1,326.3 L565.4,325.8 L565.7,325.3 L566.0,324.9 L566.3,324.5 L566.5,324.0 L566.8,323.6 L567.1,323.2 L567.4,322.8 L567.6,322.4 L567.9,322.0 L568.2,321.7 L568.5,321.3 L568.7,320.9 L569.0,320.6 L569.3,320.3 L569.6,319.9 L571.0,318.4 L572.3,317.1 L573.7,316.0 L575.1,315.1 L576.5,314.2 L577.9,313.5 L579.3,312.8 L580.7,312.2 L582.0,311.7 L583.4,311.1 L584.8,310.7 L586.2,310.2 L587.6,309.8 L589.0,309.5 L590.3,309.1 L591.7,308.8 L593.1,308.5 L594.5,308.3 L595.9,308.0 L597.3,307.8 L598.7,307.6 L600.0,307.4 L601.4,307.2 L602.8,307.1 L604.2,306.9 L605.6,306.7 L607.0,306.6 L608.3,306.5 L609.7,306.3 L611.1,306.2 L612.5,306.1 L613.9,306.0 L615.3,305.8 L616.7,305.7 L618.0,305.6 L619.4,305.5 L620.8,305.4 L622.2,305.3 L623.6,305.3 L625.0,305.2 L626.3,305.1 L627.7,305.0 L629.1,304.9 L630.5,304.9 L631.9,304.8 L633.3,304.8 L634.7,304.7 L636.0,304.6 L637.4,304.6 L638.8,304.5 L640.2,304.5 L641.6,304.4 L643.0,304.4 L644.3,304.4 L645.7,304.3 L647.1,304.3 L648.5,304.3 L649.9,304.2 L651.3,304.2 L652.7,304.2 L654.0,304.2 L655.4,304.1 L656.8,304.1 L658.2,304.1 L659.6,304.1 L659.6,304.0 L660.1,304.9 L660.7,305.8 L661.2,306.7 L661.8,307.5 L662.4,308.4 L662.9,309.2 L663.5,310.0 L664.0,310.7 L664.6,311.5 L665.1,312.2 L665.7,312.9 L666.2,313.6 L666.8,314.3 L667.3,314.9 L667.9,315.6 L668.4,316.2 L669.0,316.8 L669.6,317.4 L670.1,318.0 L670.7,318.6 L671.2,319.1 L671.8,319.7 L672.3,320.2 L672.9,320.7 L673.4,321.2 L674.0,321.7 L674.5,322.2 L675.1,322.6 L675.6,323.1 L676.2,323.5 L677.9,324.8 L679.5,325.9 L681.2,327.0 L682.8,328.0 L684.5,328.9 L686.2,329.8 L687.8,330.6 L689.5,331.4 L691.2,332.0 L692.8,332.7 L694.5,333.3 L696.1,333.8 L697.8,334.3 L699.5,334.8 L701.1,335.3 L702.8,335.7 L704.4,336.1 L706.1,336.4 L707.8,336.8 L709.4,337.1 L711.1,337.3 L712.8,337.6 L714.4,337.9 L716.1,338.1 L717.7,338.3 L719.4,338.5 L721.1,338.7 L722.7,338.9 L724.4,339.0 L726.0,339.2 L727.7,339.3 L729.4,339.5 L731.0,339.6 L732.7,339.7 L734.4,339.8 L736.0,339.9 L737.7,340.0 L739.3,340.1 L741.0,340.2 L742.7,340.3 L744.3,340.4 L746.0,340.4 L747.6,340.5 L749.3,340.6 L751.0,340.6 L752.6,340.7 L754.3,340.7 L756.0,340.8 L757.6,340.8 L759.0,340.9 L759.3,340.9" stroke="#f01a1a" stroke-width="1.25"/>
<path d="M558.5,345.0 L558.8,344.3 L559.1,343.6 L559.3,343.0 L559.6,342.4 L559.9,341.9 L560.2,341.5 L560.4,341.0 L560.7,340.6 L561.0,340.2 L561.3,339.8 L561.5,339.5 L561.8,339.2 L562.1,338.9 L562.4,338.6 L562.7,338.3 L562.9,338.1 L563.2,337.8 L563.5,337.6 L563.8,337.4 L564.0,337.2 L564.3,337.0 L564.6,336.8 L564.9,336.6 L565.1,336.4 L565.4,336.2 L565.7,336.1 L566.0,335.9 L566.3,335.8 L566.5,335.6 L566.8,335.5 L567.1,335.4 L567.4,335.2 L567.6,335.1 L567.9,335.0 L568.2,334.9 L568.5,334.8 L568.7,334.7 L569.0,334.6 L569.3,334.5 L569.6,334.4 L571.0,333.9 L572.3,333.5 L573.7,333.0 L575.1,332.6 L576.5,332.1 L577.9,331.7 L579.3,331.2 L580.7,330.8 L582.0,330.3 L583.4,329.9 L584.8,329.5 L586.2,329.1 L587.6,328.8 L589.0,328.4 L590.3,328.1 L591.7,327.8 L593.1,327.5 L594.5,327.3 L595.9,327.0 L597.3,326.8 L598.7,326.6 L600.0,326.4 L601.4,326.2 L602.8,326.0 L604.2,325.8 L605.6,325.7 L607.0,325.5 L608.3,325.4 L609.7,325.2 L611.1,325.1 L612.5,325.0 L613.9,324.9 L615.3,324.7 L616.7,324.6 L618.0,324.5 L619.4,324.4 L620.8,324.3 L622.2,324.2 L623.6,324.1 L625.0,324.0 L626.3,323.9 L627.7,323.8 L629.1,323.7 L630.5,323.7 L631.9,323.6 L633.3,323.5 L634.7,323.4 L636.0,323.4 L637.4,323.3 L638.8,323.2 L640.2,323.2 L641.6,323.1 L643.0,323.1 L644.3,323.0 L645.7,323.0 L647.1,322.9 L648.5,322.9 L649.9,322.8 L651.3,322.8 L652.7,322.7 L654.0,322.7 L655.4,322.7 L656.8,322.7 L658.2,322.6 L659.6,322.6 L659.6,322.8 L660.1,323.3 L660.7,323.8 L661.2,324.3 L661.8,324.8 L662.4,325.3 L662.9,325.8 L663.5,326.2 L664.0,326.6 L664.6,327.1 L665.1,327.5 L665.7,327.9 L666.2,328.3 L666.8,328.7 L667.3,329.0 L667.9,329.4 L668.4,329.7 L669.0,330.1 L669.6,330.4 L670.1,330.7 L670.7,331.0 L671.2,331.3 L671.8,331.6 L672.3,331.9 L672.9,332.2 L673.4,332.5 L674.0,332.7 L674.5,333.0 L675.1,333.3 L675.6,333.5 L676.2,333.7 L677.9,334.4 L679.5,335.0 L681.2,335.6 L682.8,336.1 L684.5,336.6 L686.2,337.1 L687.8,337.5 L689.5,337.9 L691.2,338.2 L692.8,338.5 L694.5,338.8 L696.1,339.1 L697.8,339.4 L699.5,339.6 L701.1,339.8 L702.8,340.0 L704.4,340.2 L706.1,340.3 L707.8,340.5 L709.4,340.6 L711.1,340.8 L712.8,340.9 L714.4,341.0 L716.1,341.1 L717.7,341.2 L719.4,341.3 L721.1,341.3 L722.7,341.4 L724.4,341.5 L726.0,341.5 L727.7,341.6 L729.4,341.7 L731.0,341.7 L732.7,341.7 L734.4,341.8 L736.0,341.8 L737.7,341.9 L739.3,341.9 L741.0,341.9 L742.7,342.0 L744.3,342.0 L746.0,342.0 L747.6,342.0 L749.3,342.0 L751.0,342.1 L752.6,342.1 L754.3,342.1 L756.0,342.1 L757.6,342.1 L759.0,342.1 L759.3,342.1" stroke="#f01a1a" stroke-width="1.25"/>
</g>
<g clip-path="url(#c7)" fill="none" stroke-linejoin="round">
<path d="M66.0,516.3 L66.6,508.3 L67.1,502.3 L67.7,496.1 L68.2,491.7 L68.8,485.8 L69.3,484.0 L69.9,479.2 L70.4,474.5 L71.0,472.4 L71.5,467.8 L72.1,466.1 L72.6,462.5 L73.2,460.7 L73.7,458.1 L74.3,455.5 L74.8,453.7 L75.4,451.9 L75.9,448.3 L76.5,447.8 L77.0,446.6 L77.6,443.5 L78.2,441.9 L78.7,440.0 L79.3,438.0 L79.8,438.4 L80.4,435.7 L80.9,434.4 L81.5,433.9 L82.0,432.6 L82.6,433.7 L83.1,431.1 L83.7,428.6 L84.2,430.1 L84.8,428.5 L85.3,427.2 L85.9,426.3 L86.4,424.9 L87.0,426.5 L87.5,424.7 L88.1,423.7 L88.7,424.6 L89.2,423.3 L89.8,421.5 L90.3,421.5 L90.9,421.5 L91.4,423.2 L92.0,421.2 L92.5,420.4 L93.1,420.5 L93.6,420.0 L94.2,417.6 L94.7,419.4 L95.3,419.6 L95.8,418.5 L96.4,418.5 L96.9,418.2 L97.5,417.8 L98.0,417.0 L98.6,417.1 L99.1,417.7 L99.7,416.8 L100.3,416.2 L100.8,416.6 L101.4,415.4 L101.9,415.4 L102.5,416.4 L103.0,415.4 L103.6,414.2 L104.1,414.3 L104.7,415.3 L105.2,414.6 L105.8,415.5 L106.3,415.9 L106.9,414.5 L107.4,414.7 L108.0,414.4 L108.5,414.7 L109.1,414.4 L109.6,414.8 L110.2,414.1 L110.8,413.8 L111.3,414.3 L111.9,413.7 L112.4,415.3 L113.0,414.6 L113.5,413.1 L114.1,412.8 L114.6,413.8 L115.2,413.9 L115.7,414.6 L116.3,413.5 L116.8,413.2 L117.4,414.6 L117.9,413.2 L118.5,413.2 L119.0,413.2 L119.6,414.1 L120.1,413.0 L120.7,414.2 L121.2,412.3 L121.8,413.1 L122.4,413.9 L122.9,412.2 L123.5,412.3 L124.0,413.4 L124.6,411.5 L125.1,413.5 L125.7,412.6 L126.2,412.0 L126.8,414.2 L127.3,412.0 L127.9,412.6 L128.4,412.5 L129.0,413.2 L129.5,412.2 L130.1,413.1 L130.6,413.0 L131.2,412.6 L131.7,413.0 L132.3,411.2 L132.9,413.0 L133.4,412.6 L134.0,412.3 L134.5,412.0 L135.1,411.5 L135.6,411.4 L136.2,412.1 L136.7,412.1 L137.3,411.8 L137.8,411.2 L138.4,411.2 L138.9,412.0 L139.5,413.0 L140.0,410.2 L140.6,410.9 L141.1,411.3 L141.7,411.2 L142.2,411.7 L142.8,412.0 L143.3,411.5 L143.9,411.4 L144.5,411.7 L145.0,412.2 L145.6,411.4 L146.1,410.8 L146.7,411.4 L147.2,411.0 L147.8,412.4 L148.3,411.1 L148.9,411.0 L149.4,411.7 L150.0,412.0 L150.5,410.6 L151.1,411.3 L151.6,410.5 L152.2,411.0 L152.7,410.3 L153.3,410.9 L153.8,411.6 L154.4,410.7 L155.0,410.8 L155.5,410.1 L156.1,410.8 L156.6,410.8 L157.2,409.9 L157.7,409.7 L158.3,409.9 L158.8,409.7 L159.4,410.1 L159.9,409.9 L160.5,409.8 L161.0,410.0 L161.6,410.2 L162.1,410.2 L162.7,408.7 L163.2,410.2 L163.8,410.4 L164.3,410.4 L164.9,410.2 L165.4,410.0 L166.0,410.9 L166.6,411.4 L166.8,405.6 L166.8,409.2 L167.4,411.5 L167.9,411.3 L168.5,412.4 L169.0,412.7 L169.6,413.3 L170.1,415.1 L170.7,416.7 L171.2,418.0 L171.8,418.7 L172.4,419.0 L172.9,421.3 L173.5,420.8 L174.0,421.7 L174.6,422.1 L175.1,423.6 L175.7,424.1 L176.2,425.5 L176.8,426.1 L177.3,427.7 L177.9,427.3 L178.4,427.1 L179.0,428.8 L179.5,429.4 L180.1,431.0 L180.6,430.2 L181.2,432.3 L181.7,432.0 L182.3,433.2 L182.9,434.5 L183.4,433.9 L184.0,435.3 L184.5,435.8 L185.1,436.3 L185.6,437.2 L186.2,438.1 L186.7,438.2 L187.3,439.4 L187.8,439.7 L188.4,440.7 L188.9,441.9 L189.5,441.9 L190.0,442.4 L190.6,442.6 L191.1,442.4 L191.7,444.9 L192.2,444.2 L192.8,446.3 L193.3,446.1 L193.9,446.3 L194.5,447.9 L195.0,448.2 L195.6,447.4 L196.1,447.9 L196.7,448.6 L197.2,449.5 L197.8,448.1 L198.3,450.1 L198.9,451.0 L199.4,449.8 L200.0,451.0 L200.5,452.1 L201.1,451.5 L201.6,452.6 L202.2,452.7 L202.7,453.5 L203.3,454.7 L203.8,453.8 L204.4,454.8 L205.0,456.0 L205.5,456.2 L206.1,455.5 L206.6,456.8 L207.2,456.9 L207.7,456.9 L208.3,457.7 L208.8,459.1 L209.4,458.1 L209.9,458.3 L210.5,458.7 L211.0,458.6 L211.6,459.8 L212.1,459.9 L212.7,459.7 L213.2,461.3 L213.8,460.3 L214.3,460.7 L214.9,461.6 L215.4,461.3 L216.0,462.3 L216.6,463.7 L217.1,462.8 L217.7,463.6 L218.2,463.9 L218.8,464.4 L219.3,463.9 L219.9,464.8 L220.4,465.9 L221.0,465.4 L221.5,465.6 L222.1,466.8 L222.6,466.9 L223.2,467.2 L223.7,467.7 L224.3,467.3 L224.8,467.2 L225.4,466.9 L225.9,467.7 L226.5,468.0 L227.0,468.3 L227.6,468.4 L228.2,469.8 L228.7,469.4 L229.3,469.9 L229.8,470.5 L230.4,470.9 L230.9,471.2 L231.5,471.3 L232.0,472.2 L232.6,471.3 L233.1,472.0 L233.7,472.1 L234.2,472.2 L234.8,472.2 L235.3,473.3 L235.9,473.3 L236.4,474.5 L237.0,475.1 L237.5,475.2 L238.1,473.2 L238.7,475.6 L239.2,474.3 L239.8,473.9 L240.3,475.4 L240.9,474.3 L241.4,474.3 L242.0,475.2 L242.5,474.5 L243.1,475.8 L243.6,476.9 L244.2,476.3 L244.7,477.2 L245.3,477.9 L245.8,478.1 L246.4,476.0 L246.9,478.1 L247.5,477.9 L248.0,478.6 L248.6,478.3 L249.1,478.7 L249.7,479.0 L250.3,479.7 L250.8,480.1 L251.4,479.8 L251.9,479.4 L252.5,478.4 L253.0,479.2 L253.6,478.9 L254.1,480.0 L254.7,480.6 L255.2,481.6 L255.8,480.9 L256.3,482.5 L256.9,481.4 L257.4,480.4 L258.0,481.4 L258.5,481.1 L259.1,482.2 L259.6,483.1 L260.2,482.6 L260.8,482.8 L261.3,481.9 L261.9,481.6 L262.4,483.5 L263.0,483.4 L263.5,483.5 L264.1,483.8 L264.6,484.5 L265.2,483.8 L265.7,483.8 L266.3,484.0" stroke="#000" stroke-width="1.4" transform="translate(0,0.3)"/>
<path d="M66.0,516.8 L66.6,512.7 L67.1,510.7 L67.7,506.0 L68.2,504.4 L68.8,501.2 L69.3,498.8 L69.9,496.4 L70.4,494.4 L71.0,492.6 L71.5,488.1 L72.1,486.8 L72.6,484.7 L73.2,481.5 L73.7,481.0 L74.3,478.8 L74.8,477.5 L75.4,475.2 L75.9,474.2 L76.5,472.9 L77.0,472.0 L77.6,470.5 L78.2,468.8 L78.7,469.8 L79.3,467.5 L79.8,466.7 L80.4,465.6 L80.9,465.7 L81.5,463.0 L82.0,463.0 L82.6,461.7 L83.1,460.9 L83.7,460.7 L84.2,459.0 L84.8,459.1 L85.3,457.6 L85.9,456.3 L86.4,455.3 L87.0,454.4 L87.5,453.7 L88.1,451.5 L88.7,451.8 L89.2,452.2 L89.8,451.0 L90.3,450.4 L90.9,449.4 L91.4,449.0 L92.0,448.6 L92.5,446.3 L93.1,446.8 L93.6,446.5 L94.2,445.9 L94.7,445.3 L95.3,443.8 L95.8,443.9 L96.4,443.1 L96.9,445.4 L97.5,442.7 L98.0,441.8 L98.6,440.9 L99.1,441.8 L99.7,442.5 L100.3,440.7 L100.8,441.1 L101.4,441.6 L101.9,440.5 L102.5,439.0 L103.0,438.6 L103.6,438.6 L104.1,439.4 L104.7,436.8 L105.2,438.9 L105.8,437.9 L106.3,438.5 L106.9,436.4 L107.4,436.7 L108.0,436.1 L108.5,436.4 L109.1,436.2 L109.6,435.8 L110.2,436.9 L110.8,434.8 L111.3,434.7 L111.9,435.3 L112.4,434.8 L113.0,434.5 L113.5,433.5 L114.1,434.0 L114.6,434.1 L115.2,434.4 L115.7,434.9 L116.3,434.2 L116.8,433.6 L117.4,433.8 L117.9,433.4 L118.5,432.9 L119.0,433.0 L119.6,433.0 L120.1,432.7 L120.7,432.9 L121.2,433.0 L121.8,432.6 L122.4,433.9 L122.9,431.9 L123.5,433.5 L124.0,432.0 L124.6,432.5 L125.1,431.7 L125.7,432.3 L126.2,432.9 L126.8,431.5 L127.3,432.1 L127.9,432.0 L128.4,432.0 L129.0,431.4 L129.5,431.4 L130.1,431.7 L130.6,432.8 L131.2,432.1 L131.7,431.7 L132.3,430.5 L132.9,431.4 L133.4,431.6 L134.0,430.8 L134.5,431.6 L135.1,431.5 L135.6,431.3 L136.2,432.3 L136.7,430.7 L137.3,431.0 L137.8,431.4 L138.4,431.9 L138.9,431.0 L139.5,430.2 L140.0,431.5 L140.6,431.7 L141.1,430.7 L141.7,432.0 L142.2,432.4 L142.8,431.2 L143.3,431.3 L143.9,431.0 L144.5,431.2 L145.0,430.6 L145.6,430.9 L146.1,431.1 L146.7,431.0 L147.2,430.3 L147.8,430.0 L148.3,430.0 L148.9,430.1 L149.4,432.7 L150.0,431.2 L150.5,430.7 L151.1,430.4 L151.6,431.5 L152.2,429.5 L152.7,430.2 L153.3,430.8 L153.8,430.3 L154.4,430.6 L155.0,430.9 L155.5,430.0 L156.1,430.6 L156.6,431.2 L157.2,430.7 L157.7,430.4 L158.3,431.0 L158.8,429.4 L159.4,430.9 L159.9,429.1 L160.5,429.6 L161.0,430.8 L161.6,430.1 L162.1,429.4 L162.7,430.3 L163.2,430.9 L163.8,430.1 L164.3,428.8 L164.9,431.1 L165.4,429.8 L166.0,430.1 L166.6,430.2 L166.8,420.7 L166.8,429.7 L167.4,430.4 L167.9,430.4 L168.5,431.5 L169.0,433.3 L169.6,432.4 L170.1,435.0 L170.7,434.5 L171.2,435.6 L171.8,435.6 L172.4,436.9 L172.9,437.1 L173.5,438.5 L174.0,438.6 L174.6,439.6 L175.1,439.1 L175.7,441.6 L176.2,441.0 L176.8,442.1 L177.3,442.9 L177.9,444.0 L178.4,444.0 L179.0,445.8 L179.5,446.3 L180.1,445.5 L180.6,447.6 L181.2,446.2 L181.7,447.8 L182.3,448.0 L182.9,448.7 L183.4,449.0 L184.0,450.0 L184.5,450.5 L185.1,450.9 L185.6,450.6 L186.2,451.1 L186.7,451.5 L187.3,452.5 L187.8,453.4 L188.4,454.8 L188.9,453.8 L189.5,454.1 L190.0,455.3 L190.6,455.0 L191.1,455.1 L191.7,456.4 L192.2,456.2 L192.8,457.1 L193.3,458.8 L193.9,458.4 L194.5,458.8 L195.0,458.6 L195.6,459.9 L196.1,460.0 L196.7,460.8 L197.2,460.6 L197.8,460.9 L198.3,460.7 L198.9,461.2 L199.4,462.0 L200.0,462.3 L200.5,462.7 L201.1,463.1 L201.6,462.5 L202.2,465.5 L202.7,464.4 L203.3,464.4 L203.8,464.2 L204.4,466.0 L205.0,465.4 L205.5,465.4 L206.1,466.6 L206.6,467.9 L207.2,467.2 L207.7,468.1 L208.3,467.2 L208.8,468.5 L209.4,467.1 L209.9,468.5 L210.5,469.4 L211.0,469.5 L211.6,470.2 L212.1,469.6 L212.7,469.1 L213.2,470.5 L213.8,470.1 L214.3,471.6 L214.9,471.1 L215.4,470.1 L216.0,472.8 L216.6,471.4 L217.1,471.7 L217.7,473.9 L218.2,473.9 L218.8,473.9 L219.3,472.9 L219.9,474.1 L220.4,474.2 L221.0,473.9 L221.5,474.6 L222.1,474.7 L222.6,475.4 L223.2,474.7 L223.7,476.2 L224.3,474.8 L224.8,476.4 L225.4,477.0 L225.9,476.3 L226.5,476.6 L227.0,478.5 L227.6,477.3 L228.2,478.6 L228.7,478.5 L229.3,477.6 L229.8,479.0 L230.4,478.4 L230.9,479.1 L231.5,477.8 L232.0,479.4 L232.6,480.3 L233.1,480.5 L233.7,480.6 L234.2,480.2 L234.8,480.5 L235.3,480.1 L235.9,480.8 L236.4,481.1 L237.0,481.1 L237.5,481.7 L238.1,481.6 L238.7,481.5 L239.2,481.7 L239.8,482.8 L240.3,483.8 L240.9,483.4 L241.4,482.9 L242.0,484.9 L242.5,483.8 L243.1,483.4 L243.6,484.2 L244.2,484.8 L244.7,483.1 L245.3,483.6 L245.8,484.8 L246.4,484.0 L246.9,484.2 L247.5,486.0 L248.0,483.7 L248.6,486.2 L249.1,486.0 L249.7,486.7 L250.3,486.1 L250.8,487.2 L251.4,486.5 L251.9,486.0 L252.5,486.8 L253.0,487.3 L253.6,486.3 L254.1,488.0 L254.7,487.0 L255.2,488.0 L255.8,487.8 L256.3,488.1 L256.9,488.2 L257.4,488.5 L258.0,489.2 L258.5,489.2 L259.1,488.7 L259.6,489.2 L260.2,490.1 L260.8,489.9 L261.3,490.1 L261.9,489.8 L262.4,489.9 L263.0,490.1 L263.5,490.7 L264.1,490.4 L264.6,491.5 L265.2,492.6 L265.7,491.0 L266.3,492.2" stroke="#000" stroke-width="1.4" transform="translate(0,0.3)"/>
<path d="M66.0,516.6 L66.6,515.7 L67.1,513.3 L67.7,513.3 L68.2,511.0 L68.8,510.2 L69.3,509.5 L69.9,508.5 L70.4,506.0 L71.0,504.9 L71.5,503.5 L72.1,501.7 L72.6,501.6 L73.2,500.5 L73.7,499.7 L74.3,498.4 L74.8,497.5 L75.4,496.8 L75.9,493.8 L76.5,495.2 L77.0,492.7 L77.6,491.5 L78.2,490.6 L78.7,490.2 L79.3,488.6 L79.8,487.7 L80.4,487.0 L80.9,485.2 L81.5,484.4 L82.0,483.4 L82.6,481.6 L83.1,481.7 L83.7,479.8 L84.2,479.5 L84.8,477.9 L85.3,477.3 L85.9,476.3 L86.4,476.3 L87.0,475.4 L87.5,474.8 L88.1,473.4 L88.7,472.4 L89.2,471.5 L89.8,471.9 L90.3,470.9 L90.9,471.4 L91.4,471.3 L92.0,469.8 L92.5,469.2 L93.1,469.2 L93.6,468.9 L94.2,466.9 L94.7,467.3 L95.3,467.4 L95.8,464.4 L96.4,465.3 L96.9,465.2 L97.5,464.1 L98.0,464.7 L98.6,462.7 L99.1,464.4 L99.7,463.9 L100.3,462.7 L100.8,462.8 L101.4,461.0 L101.9,462.6 L102.5,461.7 L103.0,460.8 L103.6,460.3 L104.1,459.7 L104.7,459.8 L105.2,458.3 L105.8,459.7 L106.3,459.0 L106.9,458.3 L107.4,458.8 L108.0,458.5 L108.5,458.4 L109.1,458.3 L109.6,458.3 L110.2,457.7 L110.8,458.2 L111.3,456.7 L111.9,457.7 L112.4,455.2 L113.0,455.2 L113.5,455.4 L114.1,456.0 L114.6,456.1 L115.2,454.7 L115.7,455.2 L116.3,454.7 L116.8,455.4 L117.4,454.1 L117.9,455.1 L118.5,454.3 L119.0,455.4 L119.6,454.5 L120.1,453.6 L120.7,454.0 L121.2,453.9 L121.8,452.9 L122.4,453.3 L122.9,452.3 L123.5,454.6 L124.0,452.5 L124.6,452.4 L125.1,453.6 L125.7,453.3 L126.2,451.7 L126.8,452.9 L127.3,452.5 L127.9,451.5 L128.4,452.0 L129.0,451.4 L129.5,452.1 L130.1,451.2 L130.6,450.6 L131.2,451.0 L131.7,452.5 L132.3,450.5 L132.9,450.8 L133.4,451.3 L134.0,449.7 L134.5,451.6 L135.1,449.2 L135.6,450.7 L136.2,449.2 L136.7,450.1 L137.3,450.9 L137.8,449.8 L138.4,449.6 L138.9,449.4 L139.5,448.9 L140.0,450.1 L140.6,449.1 L141.1,448.9 L141.7,449.4 L142.2,449.8 L142.8,449.7 L143.3,448.5 L143.9,448.4 L144.5,449.4 L145.0,449.6 L145.6,447.9 L146.1,449.6 L146.7,448.4 L147.2,449.0 L147.8,449.5 L148.3,448.2 L148.9,448.4 L149.4,447.2 L150.0,446.6 L150.5,448.2 L151.1,447.3 L151.6,447.2 L152.2,448.2 L152.7,448.3 L153.3,446.7 L153.8,447.9 L154.4,447.6 L155.0,447.7 L155.5,447.6 L156.1,447.8 L156.6,446.9 L157.2,446.5 L157.7,447.5 L158.3,448.2 L158.8,447.2 L159.4,448.1 L159.9,447.5 L160.5,446.3 L161.0,445.5 L161.6,446.8 L162.1,447.7 L162.7,446.4 L163.2,448.4 L163.8,447.3 L164.3,445.9 L164.9,446.3 L165.4,447.7 L166.0,447.8 L166.6,446.2 L166.8,436.7 L166.8,445.8 L167.4,446.9 L167.9,447.0 L168.5,448.3 L169.0,449.9 L169.6,448.9 L170.1,450.5 L170.7,451.4 L171.2,452.3 L171.8,451.9 L172.4,453.3 L172.9,453.0 L173.5,454.2 L174.0,453.9 L174.6,455.4 L175.1,456.2 L175.7,457.6 L176.2,457.6 L176.8,457.0 L177.3,456.1 L177.9,459.4 L178.4,459.8 L179.0,459.4 L179.5,459.8 L180.1,461.1 L180.6,461.1 L181.2,462.7 L181.7,462.3 L182.3,462.0 L182.9,462.0 L183.4,463.6 L184.0,464.1 L184.5,464.1 L185.1,464.1 L185.6,465.0 L186.2,466.2 L186.7,465.9 L187.3,465.9 L187.8,467.4 L188.4,468.3 L188.9,467.5 L189.5,467.9 L190.0,468.0 L190.6,468.9 L191.1,469.8 L191.7,470.0 L192.2,470.8 L192.8,471.1 L193.3,471.2 L193.9,471.5 L194.5,470.8 L195.0,472.7 L195.6,472.2 L196.1,472.9 L196.7,471.9 L197.2,473.1 L197.8,473.8 L198.3,473.4 L198.9,474.2 L199.4,474.8 L200.0,473.8 L200.5,474.7 L201.1,474.3 L201.6,475.0 L202.2,475.6 L202.7,476.3 L203.3,477.3 L203.8,476.5 L204.4,477.2 L205.0,477.1 L205.5,477.8 L206.1,478.5 L206.6,479.0 L207.2,478.2 L207.7,478.1 L208.3,479.4 L208.8,479.1 L209.4,478.8 L209.9,480.5 L210.5,480.4 L211.0,481.2 L211.6,480.0 L212.1,480.8 L212.7,481.5 L213.2,482.5 L213.8,481.8 L214.3,481.3 L214.9,482.4 L215.4,482.7 L216.0,482.3 L216.6,483.7 L217.1,483.1 L217.7,483.0 L218.2,484.1 L218.8,484.4 L219.3,483.9 L219.9,484.3 L220.4,484.6 L221.0,484.6 L221.5,484.8 L222.1,485.7 L222.6,485.8 L223.2,485.3 L223.7,485.1 L224.3,485.1 L224.8,486.7 L225.4,485.7 L225.9,486.1 L226.5,486.8 L227.0,486.7 L227.6,486.7 L228.2,486.2 L228.7,488.3 L229.3,487.4 L229.8,488.1 L230.4,488.3 L230.9,487.6 L231.5,488.0 L232.0,489.4 L232.6,489.1 L233.1,489.0 L233.7,490.2 L234.2,488.9 L234.8,489.7 L235.3,489.7 L235.9,489.8 L236.4,489.0 L237.0,490.3 L237.5,490.8 L238.1,489.6 L238.7,491.2 L239.2,491.4 L239.8,492.1 L240.3,490.7 L240.9,491.4 L241.4,491.4 L242.0,491.8 L242.5,492.1 L243.1,492.7 L243.6,492.8 L244.2,492.2 L244.7,492.6 L245.3,491.8 L245.8,493.5 L246.4,493.4 L246.9,493.9 L247.5,492.5 L248.0,494.4 L248.6,493.2 L249.1,493.0 L249.7,494.1 L250.3,493.7 L250.8,495.7 L251.4,494.7 L251.9,495.7 L252.5,494.6 L253.0,494.9 L253.6,495.5 L254.1,494.6 L254.7,495.1 L255.2,495.8 L255.8,495.9 L256.3,496.7 L256.9,496.0 L257.4,494.6 L258.0,496.6 L258.5,496.0 L259.1,496.7 L259.6,496.0 L260.2,496.4 L260.8,496.9 L261.3,498.0 L261.9,497.4 L262.4,496.4 L263.0,497.4 L263.5,497.0 L264.1,497.8 L264.6,498.8 L265.2,497.5 L265.7,497.7 L266.3,498.4" stroke="#000" stroke-width="1.4" transform="translate(0,0.3)"/>
<path d="M66.0,516.3 L66.6,515.0 L67.1,514.7 L67.7,513.2 L68.2,512.6 L68.8,513.1 L69.3,510.9 L69.9,510.3 L70.4,509.7 L71.0,508.2 L71.5,508.0 L72.1,506.6 L72.6,505.6 L73.2,505.6 L73.7,506.0 L74.3,504.9 L74.8,503.3 L75.4,503.4 L75.9,503.2 L76.5,502.1 L77.0,501.2 L77.6,500.7 L78.2,499.9 L78.7,500.3 L79.3,499.3 L79.8,498.8 L80.4,498.1 L80.9,498.8 L81.5,497.1 L82.0,497.3 L82.6,495.0 L83.1,494.4 L83.7,493.9 L84.2,493.9 L84.8,494.3 L85.3,492.9 L85.9,493.2 L86.4,492.3 L87.0,492.8 L87.5,492.2 L88.1,491.2 L88.7,489.9 L89.2,490.7 L89.8,488.9 L90.3,488.2 L90.9,490.5 L91.4,489.3 L92.0,489.6 L92.5,488.7 L93.1,488.6 L93.6,488.0 L94.2,487.0 L94.7,486.8 L95.3,486.9 L95.8,486.8 L96.4,486.4 L96.9,486.1 L97.5,485.5 L98.0,485.6 L98.6,485.0 L99.1,485.9 L99.7,484.2 L100.3,483.3 L100.8,484.1 L101.4,484.8 L101.9,482.7 L102.5,483.5 L103.0,485.0 L103.6,482.9 L104.1,482.1 L104.7,482.0 L105.2,481.1 L105.8,481.3 L106.3,481.3 L106.9,482.4 L107.4,481.6 L108.0,480.5 L108.5,479.9 L109.1,480.7 L109.6,480.2 L110.2,479.2 L110.8,480.5 L111.3,480.2 L111.9,478.9 L112.4,478.3 L113.0,478.5 L113.5,479.5 L114.1,477.7 L114.6,478.4 L115.2,476.8 L115.7,477.1 L116.3,476.6 L116.8,476.2 L117.4,476.7 L117.9,475.6 L118.5,475.2 L119.0,475.5 L119.6,474.7 L120.1,475.8 L120.7,474.6 L121.2,474.8 L121.8,475.4 L122.4,474.7 L122.9,474.8 L123.5,474.6 L124.0,474.1 L124.6,473.3 L125.1,474.0 L125.7,473.6 L126.2,474.4 L126.8,473.3 L127.3,472.5 L127.9,472.5 L128.4,472.6 L129.0,473.1 L129.5,473.3 L130.1,472.6 L130.6,473.2 L131.2,473.1 L131.7,471.5 L132.3,472.6 L132.9,470.7 L133.4,472.7 L134.0,471.4 L134.5,472.3 L135.1,471.3 L135.6,472.0 L136.2,471.2 L136.7,471.2 L137.3,471.3 L137.8,470.6 L138.4,469.8 L138.9,471.1 L139.5,470.0 L140.0,470.4 L140.6,470.4 L141.1,468.9 L141.7,471.6 L142.2,470.6 L142.8,471.2 L143.3,470.1 L143.9,470.0 L144.5,467.3 L145.0,469.5 L145.6,468.5 L146.1,468.7 L146.7,469.7 L147.2,469.1 L147.8,468.2 L148.3,469.1 L148.9,469.0 L149.4,468.8 L150.0,470.0 L150.5,469.5 L151.1,468.7 L151.6,468.5 L152.2,469.4 L152.7,468.9 L153.3,468.7 L153.8,468.7 L154.4,468.1 L155.0,468.4 L155.5,468.3 L156.1,469.3 L156.6,469.0 L157.2,468.1 L157.7,469.2 L158.3,468.0 L158.8,468.6 L159.4,468.6 L159.9,467.6 L160.5,468.4 L161.0,468.5 L161.6,468.4 L162.1,467.9 L162.7,466.1 L163.2,469.2 L163.8,467.8 L164.3,467.9 L164.9,467.1 L165.4,467.9 L166.0,469.3 L166.6,466.8 L166.8,458.6 L166.8,467.4 L167.4,467.5 L167.9,469.2 L168.5,469.7 L169.0,470.1 L169.6,469.9 L170.1,470.5 L170.7,472.1 L171.2,472.0 L171.8,473.1 L172.4,473.3 L172.9,473.8 L173.5,474.1 L174.0,475.3 L174.6,475.5 L175.1,475.7 L175.7,476.3 L176.2,477.3 L176.8,476.1 L177.3,477.9 L177.9,477.5 L178.4,478.2 L179.0,477.9 L179.5,480.5 L180.1,478.1 L180.6,479.9 L181.2,480.9 L181.7,480.4 L182.3,479.3 L182.9,480.8 L183.4,482.2 L184.0,482.0 L184.5,481.1 L185.1,483.2 L185.6,482.7 L186.2,483.1 L186.7,481.8 L187.3,483.6 L187.8,482.9 L188.4,484.4 L188.9,484.8 L189.5,483.9 L190.0,484.4 L190.6,486.1 L191.1,484.9 L191.7,485.1 L192.2,486.2 L192.8,485.9 L193.3,486.1 L193.9,486.8 L194.5,487.1 L195.0,487.4 L195.6,487.4 L196.1,488.3 L196.7,487.7 L197.2,488.8 L197.8,488.0 L198.3,488.4 L198.9,489.2 L199.4,488.2 L200.0,487.7 L200.5,488.3 L201.1,490.3 L201.6,488.8 L202.2,489.6 L202.7,490.0 L203.3,490.6 L203.8,490.4 L204.4,489.7 L205.0,490.4 L205.5,491.3 L206.1,491.6 L206.6,491.6 L207.2,491.2 L207.7,490.5 L208.3,492.6 L208.8,492.1 L209.4,492.6 L209.9,493.0 L210.5,492.4 L211.0,492.5 L211.6,493.9 L212.1,493.9 L212.7,492.6 L213.2,493.4 L213.8,493.4 L214.3,494.2 L214.9,494.3 L215.4,493.9 L216.0,494.7 L216.6,495.3 L217.1,494.7 L217.7,494.3 L218.2,495.7 L218.8,494.5 L219.3,494.9 L219.9,496.1 L220.4,495.7 L221.0,495.9 L221.5,495.6 L222.1,495.7 L222.6,497.2 L223.2,497.3 L223.7,496.0 L224.3,496.7 L224.8,496.6 L225.4,496.8 L225.9,496.2 L226.5,498.1 L227.0,496.8 L227.6,498.2 L228.2,497.3 L228.7,497.1 L229.3,498.9 L229.8,497.9 L230.4,498.5 L230.9,498.7 L231.5,498.6 L232.0,499.4 L232.6,499.5 L233.1,498.6 L233.7,498.6 L234.2,499.6 L234.8,500.3 L235.3,498.0 L235.9,498.9 L236.4,499.5 L237.0,500.6 L237.5,500.4 L238.1,500.0 L238.7,500.9 L239.2,499.3 L239.8,500.4 L240.3,500.4 L240.9,501.4 L241.4,501.4 L242.0,501.5 L242.5,500.9 L243.1,501.4 L243.6,501.5 L244.2,501.2 L244.7,501.4 L245.3,500.7 L245.8,501.9 L246.4,502.5 L246.9,502.0 L247.5,501.1 L248.0,502.5 L248.6,502.3 L249.1,502.6 L249.7,502.2 L250.3,502.4 L250.8,503.2 L251.4,503.0 L251.9,502.3 L252.5,502.3 L253.0,502.5 L253.6,502.7 L254.1,503.5 L254.7,503.6 L255.2,502.9 L255.8,504.4 L256.3,503.7 L256.9,505.0 L257.4,504.1 L258.0,504.4 L258.5,504.8 L259.1,503.8 L259.6,504.7 L260.2,504.6 L260.8,504.6 L261.3,505.0 L261.9,503.7 L262.4,505.0 L263.0,504.7 L263.5,505.7 L264.1,505.3 L264.6,505.2 L265.2,505.3 L265.7,505.6 L266.3,505.2" stroke="#000" stroke-width="1.4" transform="translate(0,0.3)"/>
<path d="M66.0,515.0 L66.6,515.0 L67.1,514.1 L67.7,513.4 L68.2,510.8 L68.8,510.7 L69.3,510.8 L69.9,510.1 L70.4,510.5 L71.0,509.7 L71.5,509.0 L72.1,508.6 L72.6,508.8 L73.2,508.3 L73.7,507.1 L74.3,506.9 L74.8,508.1 L75.4,506.4 L75.9,505.3 L76.5,506.3 L77.0,505.4 L77.6,506.2 L78.2,504.5 L78.7,505.5 L79.3,505.3 L79.8,504.5 L80.4,502.5 L80.9,504.2 L81.5,504.3 L82.0,503.0 L82.6,502.9 L83.1,501.8 L83.7,503.5 L84.2,503.5 L84.8,502.5 L85.3,501.8 L85.9,501.6 L86.4,501.0 L87.0,502.4 L87.5,501.8 L88.1,501.2 L88.7,500.4 L89.2,500.5 L89.8,500.9 L90.3,501.1 L90.9,499.7 L91.4,499.5 L92.0,498.2 L92.5,499.9 L93.1,498.6 L93.6,500.2 L94.2,499.6 L94.7,499.5 L95.3,499.2 L95.8,499.4 L96.4,499.0 L96.9,498.5 L97.5,498.6 L98.0,497.7 L98.6,498.0 L99.1,497.8 L99.7,496.7 L100.3,497.3 L100.8,497.3 L101.4,497.2 L101.9,497.0 L102.5,496.5 L103.0,497.2 L103.6,495.8 L104.1,495.4 L104.7,495.4 L105.2,496.3 L105.8,496.9 L106.3,495.9 L106.9,495.4 L107.4,494.8 L108.0,495.2 L108.5,495.1 L109.1,493.8 L109.6,495.0 L110.2,493.7 L110.8,493.7 L111.3,494.9 L111.9,493.7 L112.4,494.0 L113.0,494.1 L113.5,494.5 L114.1,494.2 L114.6,492.7 L115.2,493.1 L115.7,492.5 L116.3,493.2 L116.8,492.5 L117.4,492.3 L117.9,493.0 L118.5,492.9 L119.0,491.4 L119.6,491.4 L120.1,492.0 L120.7,491.3 L121.2,490.7 L121.8,489.8 L122.4,491.4 L122.9,490.3 L123.5,489.2 L124.0,490.3 L124.6,489.3 L125.1,491.8 L125.7,489.1 L126.2,489.9 L126.8,490.9 L127.3,489.1 L127.9,488.8 L128.4,488.6 L129.0,488.5 L129.5,489.2 L130.1,489.5 L130.6,489.2 L131.2,488.8 L131.7,488.4 L132.3,488.9 L132.9,488.4 L133.4,487.8 L134.0,488.0 L134.5,486.7 L135.1,486.7 L135.6,488.7 L136.2,488.2 L136.7,488.6 L137.3,488.4 L137.8,487.2 L138.4,488.1 L138.9,488.0 L139.5,487.5 L140.0,486.7 L140.6,487.3 L141.1,487.2 L141.7,486.3 L142.2,486.5 L142.8,486.5 L143.3,486.1 L143.9,487.2 L144.5,486.4 L145.0,486.8 L145.6,485.7 L146.1,485.7 L146.7,486.8 L147.2,485.2 L147.8,486.8 L148.3,485.2 L148.9,485.7 L149.4,486.4 L150.0,486.4 L150.5,485.9 L151.1,485.6 L151.6,486.0 L152.2,485.1 L152.7,486.3 L153.3,485.3 L153.8,485.3 L154.4,486.4 L155.0,484.9 L155.5,485.9 L156.1,486.6 L156.6,485.4 L157.2,485.1 L157.7,484.3 L158.3,485.1 L158.8,483.8 L159.4,483.8 L159.9,484.0 L160.5,483.8 L161.0,484.4 L161.6,484.9 L162.1,484.1 L162.7,483.8 L163.2,484.3 L163.8,484.5 L164.3,485.3 L164.9,483.9 L165.4,484.0 L166.0,485.1 L166.6,484.1 L166.8,476.2 L166.8,482.6 L167.4,484.0 L167.9,484.2 L168.5,485.0 L169.0,487.1 L169.6,487.0 L170.1,487.1 L170.7,487.3 L171.2,487.5 L171.8,490.1 L172.4,489.4 L172.9,489.3 L173.5,489.4 L174.0,489.4 L174.6,491.5 L175.1,491.4 L175.7,492.2 L176.2,491.3 L176.8,492.9 L177.3,491.6 L177.9,492.0 L178.4,492.5 L179.0,494.5 L179.5,493.7 L180.1,493.0 L180.6,494.6 L181.2,494.1 L181.7,494.2 L182.3,493.7 L182.9,494.3 L183.4,494.5 L184.0,495.1 L184.5,495.0 L185.1,495.3 L185.6,494.9 L186.2,495.6 L186.7,495.0 L187.3,496.9 L187.8,495.2 L188.4,496.3 L188.9,495.6 L189.5,496.4 L190.0,496.0 L190.6,495.8 L191.1,497.2 L191.7,497.0 L192.2,497.3 L192.8,497.2 L193.3,498.5 L193.9,497.7 L194.5,497.8 L195.0,498.3 L195.6,498.1 L196.1,499.1 L196.7,497.3 L197.2,498.0 L197.8,497.2 L198.3,499.1 L198.9,499.4 L199.4,498.6 L200.0,500.0 L200.5,498.9 L201.1,499.6 L201.6,499.5 L202.2,499.2 L202.7,499.5 L203.3,498.4 L203.8,499.3 L204.4,500.7 L205.0,499.3 L205.5,500.9 L206.1,500.1 L206.6,501.1 L207.2,501.0 L207.7,499.7 L208.3,501.0 L208.8,501.2 L209.4,501.2 L209.9,501.2 L210.5,500.1 L211.0,501.9 L211.6,502.1 L212.1,501.0 L212.7,502.5 L213.2,501.8 L213.8,500.9 L214.3,501.8 L214.9,502.2 L215.4,502.4 L216.0,502.6 L216.6,502.5 L217.1,502.2 L217.7,501.5 L218.2,501.8 L218.8,502.9 L219.3,503.1 L219.9,502.3 L220.4,504.0 L221.0,503.2 L221.5,503.2 L222.1,503.8 L222.6,503.8 L223.2,503.0 L223.7,504.4 L224.3,504.0 L224.8,503.9 L225.4,503.6 L225.9,504.6 L226.5,503.1 L227.0,504.1 L227.6,504.1 L228.2,504.3 L228.7,504.6 L229.3,504.8 L229.8,503.6 L230.4,504.2 L230.9,504.5 L231.5,503.9 L232.0,505.1 L232.6,504.3 L233.1,504.8 L233.7,505.4 L234.2,504.4 L234.8,506.0 L235.3,504.7 L235.9,505.7 L236.4,505.0 L237.0,504.4 L237.5,505.0 L238.1,505.8 L238.7,505.5 L239.2,505.8 L239.8,506.4 L240.3,506.5 L240.9,505.8 L241.4,505.5 L242.0,507.1 L242.5,506.1 L243.1,505.8 L243.6,506.1 L244.2,506.9 L244.7,505.6 L245.3,507.2 L245.8,506.0 L246.4,505.5 L246.9,507.9 L247.5,506.5 L248.0,506.5 L248.6,506.6 L249.1,507.3 L249.7,507.1 L250.3,507.9 L250.8,506.9 L251.4,506.7 L251.9,507.6 L252.5,507.8 L253.0,507.6 L253.6,507.3 L254.1,507.4 L254.7,507.5 L255.2,507.5 L255.8,508.4 L256.3,509.4 L256.9,507.3 L257.4,506.8 L258.0,508.7 L258.5,508.3 L259.1,507.7 L259.6,507.4 L260.2,507.6 L260.8,507.3 L261.3,508.2 L261.9,507.9 L262.4,508.0 L263.0,508.6 L263.5,507.6 L264.1,508.0 L264.6,507.8 L265.2,508.8 L265.7,507.9 L266.3,509.3" stroke="#000" stroke-width="1.4" transform="translate(0,0.3)"/>
<path d="M66.0,516.0 L66.3,512.2 L66.6,508.6 L66.8,505.3 L67.1,502.2 L67.4,499.3 L67.7,496.5 L67.9,493.9 L68.2,491.4 L68.5,489.0 L68.8,486.8 L69.0,484.6 L69.3,482.5 L69.6,480.5 L69.9,478.5 L70.1,476.7 L70.4,474.9 L70.7,473.1 L71.0,471.4 L71.2,469.8 L71.5,468.2 L71.8,466.7 L72.1,465.2 L72.4,463.8 L72.6,462.4 L72.9,461.0 L73.2,459.6 L73.5,458.3 L73.7,457.1 L74.0,455.8 L74.3,454.6 L74.6,453.4 L74.8,452.2 L75.1,451.1 L75.4,449.9 L75.7,448.9 L75.9,447.8 L76.2,446.8 L76.5,445.7 L76.8,444.8 L77.0,443.8 L78.4,439.4 L79.8,435.6 L81.2,432.3 L82.6,429.5 L84.0,427.2 L85.3,425.2 L86.7,423.5 L88.1,422.1 L89.5,420.9 L90.9,419.9 L92.2,419.0 L93.6,418.3 L95.0,417.7 L96.4,417.2 L97.8,416.8 L99.1,416.4 L100.5,416.1 L101.9,415.8 L103.3,415.5 L104.7,415.2 L106.1,415.0 L107.4,414.8 L108.8,414.6 L110.2,414.4 L111.6,414.3 L113.0,414.1 L114.3,413.9 L115.7,413.8 L117.1,413.6 L118.5,413.5 L119.9,413.4 L121.2,413.2 L122.6,413.1 L124.0,413.0 L125.4,412.8 L126.8,412.7 L128.2,412.6 L129.5,412.4 L130.9,412.3 L132.3,412.2 L133.7,412.1 L135.1,412.0 L136.4,411.9 L137.8,411.7 L139.2,411.6 L140.6,411.5 L142.0,411.4 L143.3,411.3 L144.7,411.2 L146.1,411.1 L147.5,411.0 L148.9,411.0 L150.3,410.9 L151.6,410.8 L153.0,410.7 L154.4,410.6 L155.8,410.6 L157.2,410.5 L158.5,410.4 L159.9,410.4 L161.3,410.3 L162.7,410.2 L164.1,410.2 L165.4,410.1 L166.8,410.1 L166.8,409.4 L167.4,410.5 L167.9,411.5 L168.5,412.5 L169.0,413.5 L169.6,414.4 L170.1,415.4 L170.7,416.3 L171.2,417.2 L171.8,418.2 L172.4,419.1 L172.9,419.9 L173.5,420.8 L174.0,421.7 L174.6,422.5 L175.1,423.4 L175.7,424.2 L176.2,425.0 L176.8,425.8 L177.3,426.6 L177.9,427.4 L178.4,428.1 L179.0,428.9 L179.5,429.6 L180.1,430.4 L180.6,431.1 L181.2,431.8 L181.7,432.5 L182.3,433.2 L182.9,433.9 L183.4,434.6 L185.1,436.6 L186.7,438.5 L188.4,440.3 L190.0,442.1 L191.7,443.8 L193.3,445.4 L195.0,447.0 L196.7,448.5 L198.3,449.9 L200.0,451.4 L201.6,452.7 L203.3,454.0 L205.0,455.3 L206.6,456.5 L208.3,457.7 L209.9,458.9 L211.6,460.0 L213.2,461.1 L214.9,462.1 L216.6,463.2 L218.2,464.2 L219.9,465.1 L221.5,466.1 L223.2,467.0 L224.8,467.9 L226.5,468.7 L228.2,469.6 L229.8,470.4 L231.5,471.2 L233.1,471.9 L234.8,472.7 L236.4,473.4 L238.1,474.2 L239.8,474.9 L241.4,475.5 L243.1,476.2 L244.7,476.9 L246.4,477.5 L248.0,478.1 L249.7,478.8 L251.4,479.4 L253.0,479.9 L254.7,480.5 L256.3,481.1 L258.0,481.6 L259.6,482.2 L261.3,482.7 L263.0,483.2 L264.6,483.7 L266.0,484.2 L266.3,484.2" stroke="#f01a1a" stroke-width="1.25"/>
<path d="M66.0,516.0 L66.3,514.3 L66.6,512.7 L66.8,511.1 L67.1,509.6 L67.4,508.1 L67.7,506.6 L67.9,505.2 L68.2,503.8 L68.5,502.4 L68.8,501.1 L69.0,499.8 L69.3,498.5 L69.6,497.3 L69.9,496.1 L70.1,494.9 L70.4,493.7 L70.7,492.6 L71.0,491.5 L71.2,490.3 L71.5,489.2 L71.8,488.1 L72.1,487.0 L72.4,485.9 L72.6,484.9 L72.9,483.8 L73.2,482.8 L73.5,481.8 L73.7,480.8 L74.0,479.9 L74.3,478.9 L74.6,478.0 L74.8,477.2 L75.1,476.3 L75.4,475.5 L75.7,474.7 L75.9,473.9 L76.2,473.2 L76.5,472.4 L76.8,471.7 L77.0,471.0 L78.4,467.8 L79.8,464.9 L81.2,462.3 L82.6,459.8 L84.0,457.5 L85.3,455.3 L86.7,453.2 L88.1,451.2 L89.5,449.3 L90.9,447.6 L92.2,446.0 L93.6,444.5 L95.0,443.2 L96.4,442.1 L97.8,441.0 L99.1,440.1 L100.5,439.2 L101.9,438.5 L103.3,437.8 L104.7,437.2 L106.1,436.6 L107.4,436.1 L108.8,435.7 L110.2,435.3 L111.6,434.9 L113.0,434.5 L114.3,434.2 L115.7,433.9 L117.1,433.7 L118.5,433.4 L119.9,433.2 L121.2,433.0 L122.6,432.8 L124.0,432.6 L125.4,432.4 L126.8,432.3 L128.2,432.1 L129.5,432.0 L130.9,431.8 L132.3,431.7 L133.7,431.6 L135.1,431.5 L136.4,431.4 L137.8,431.3 L139.2,431.2 L140.6,431.1 L142.0,431.0 L143.3,430.9 L144.7,430.8 L146.1,430.8 L147.5,430.7 L148.9,430.6 L150.3,430.6 L151.6,430.5 L153.0,430.5 L154.4,430.4 L155.8,430.4 L157.2,430.3 L158.5,430.3 L159.9,430.3 L161.3,430.2 L162.7,430.2 L164.1,430.2 L165.4,430.2 L166.8,430.1 L166.8,429.4 L167.4,430.3 L167.9,431.1 L168.5,431.9 L169.0,432.7 L169.6,433.5 L170.1,434.2 L170.7,435.0 L171.2,435.7 L171.8,436.4 L172.4,437.2 L172.9,437.9 L173.5,438.6 L174.0,439.2 L174.6,439.9 L175.1,440.6 L175.7,441.2 L176.2,441.8 L176.8,442.5 L177.3,443.1 L177.9,443.7 L178.4,444.3 L179.0,444.9 L179.5,445.5 L180.1,446.0 L180.6,446.6 L181.2,447.2 L181.7,447.7 L182.3,448.2 L182.9,448.8 L183.4,449.3 L185.1,450.9 L186.7,452.3 L188.4,453.8 L190.0,455.1 L191.7,456.5 L193.3,457.7 L195.0,459.0 L196.7,460.2 L198.3,461.4 L200.0,462.5 L201.6,463.6 L203.3,464.6 L205.0,465.7 L206.6,466.7 L208.3,467.7 L209.9,468.6 L211.6,469.5 L213.2,470.5 L214.9,471.3 L216.6,472.2 L218.2,473.0 L219.9,473.9 L221.5,474.7 L223.2,475.5 L224.8,476.2 L226.5,477.0 L228.2,477.7 L229.8,478.4 L231.5,479.1 L233.1,479.8 L234.8,480.5 L236.4,481.2 L238.1,481.8 L239.8,482.5 L241.4,483.1 L243.1,483.7 L244.7,484.3 L246.4,484.9 L248.0,485.5 L249.7,486.0 L251.4,486.6 L253.0,487.1 L254.7,487.7 L256.3,488.2 L258.0,488.7 L259.6,489.2 L261.3,489.7 L263.0,490.2 L264.6,490.6 L266.0,491.0 L266.3,491.1" stroke="#f01a1a" stroke-width="1.25"/>
<path d="M66.0,516.0 L66.3,515.5 L66.6,514.9 L66.8,514.4 L67.1,513.8 L67.4,513.1 L67.7,512.5 L67.9,511.9 L68.2,511.2 L68.5,510.6 L68.8,509.9 L69.0,509.3 L69.3,508.7 L69.6,508.1 L69.9,507.5 L70.1,506.9 L70.4,506.3 L70.7,505.7 L71.0,505.2 L71.2,504.6 L71.5,504.0 L71.8,503.5 L72.1,502.9 L72.4,502.4 L72.6,501.8 L72.9,501.3 L73.2,500.7 L73.5,500.2 L73.7,499.6 L74.0,499.0 L74.3,498.5 L74.6,497.9 L74.8,497.3 L75.1,496.8 L75.4,496.2 L75.7,495.6 L75.9,495.1 L76.2,494.5 L76.5,494.0 L76.8,493.4 L77.0,492.9 L78.4,490.1 L79.8,487.4 L81.2,484.6 L82.6,482.0 L84.0,479.6 L85.3,477.3 L86.7,475.3 L88.1,473.5 L89.5,471.9 L90.9,470.4 L92.2,469.0 L93.6,467.7 L95.0,466.5 L96.4,465.4 L97.8,464.4 L99.1,463.4 L100.5,462.5 L101.9,461.6 L103.3,460.8 L104.7,460.0 L106.1,459.3 L107.4,458.6 L108.8,458.0 L110.2,457.4 L111.6,456.8 L113.0,456.3 L114.3,455.7 L115.7,455.3 L117.1,454.8 L118.5,454.4 L119.9,454.0 L121.2,453.6 L122.6,453.2 L124.0,452.8 L125.4,452.5 L126.8,452.1 L128.2,451.8 L129.5,451.5 L130.9,451.2 L132.3,450.9 L133.7,450.6 L135.1,450.4 L136.4,450.1 L137.8,449.9 L139.2,449.6 L140.6,449.4 L142.0,449.2 L143.3,449.0 L144.7,448.8 L146.1,448.6 L147.5,448.4 L148.9,448.2 L150.3,448.0 L151.6,447.9 L153.0,447.7 L154.4,447.6 L155.8,447.4 L157.2,447.3 L158.5,447.2 L159.9,447.1 L161.3,447.0 L162.7,446.9 L164.1,446.8 L165.4,446.7 L166.8,446.7 L166.8,445.7 L167.4,446.5 L167.9,447.2 L168.5,447.9 L169.0,448.7 L169.6,449.4 L170.1,450.1 L170.7,450.7 L171.2,451.4 L171.8,452.1 L172.4,452.7 L172.9,453.3 L173.5,453.9 L174.0,454.6 L174.6,455.2 L175.1,455.7 L175.7,456.3 L176.2,456.9 L176.8,457.4 L177.3,458.0 L177.9,458.5 L178.4,459.1 L179.0,459.6 L179.5,460.1 L180.1,460.6 L180.6,461.1 L181.2,461.6 L181.7,462.1 L182.3,462.6 L182.9,463.0 L183.4,463.5 L185.1,464.8 L186.7,466.1 L188.4,467.4 L190.0,468.5 L191.7,469.7 L193.3,470.8 L195.0,471.8 L196.7,472.9 L198.3,473.8 L200.0,474.8 L201.6,475.7 L203.3,476.6 L205.0,477.5 L206.6,478.3 L208.3,479.1 L209.9,479.9 L211.6,480.7 L213.2,481.4 L214.9,482.2 L216.6,482.9 L218.2,483.6 L219.9,484.3 L221.5,484.9 L223.2,485.5 L224.8,486.2 L226.5,486.8 L228.2,487.4 L229.8,488.0 L231.5,488.5 L233.1,489.1 L234.8,489.6 L236.4,490.2 L238.1,490.7 L239.8,491.2 L241.4,491.7 L243.1,492.2 L244.7,492.6 L246.4,493.1 L248.0,493.6 L249.7,494.0 L251.4,494.4 L253.0,494.9 L254.7,495.3 L256.3,495.7 L258.0,496.1 L259.6,496.5 L261.3,496.9 L263.0,497.3 L264.6,497.6 L266.0,497.9 L266.3,498.0" stroke="#f01a1a" stroke-width="1.25"/>
<path d="M66.0,516.0 L66.3,515.6 L66.6,515.1 L66.8,514.7 L67.1,514.3 L67.4,513.8 L67.7,513.4 L67.9,512.9 L68.2,512.5 L68.5,512.0 L68.8,511.6 L69.0,511.2 L69.3,510.8 L69.6,510.3 L69.9,509.9 L70.1,509.5 L70.4,509.2 L70.7,508.8 L71.0,508.4 L71.2,508.0 L71.5,507.7 L71.8,507.3 L72.1,507.0 L72.4,506.6 L72.6,506.3 L72.9,506.0 L73.2,505.7 L73.5,505.3 L73.7,505.0 L74.0,504.7 L74.3,504.4 L74.6,504.1 L74.8,503.8 L75.1,503.5 L75.4,503.2 L75.7,502.9 L75.9,502.6 L76.2,502.3 L76.5,502.1 L76.8,501.8 L77.0,501.5 L78.4,500.0 L79.8,498.6 L81.2,497.2 L82.6,495.9 L84.0,494.7 L85.3,493.5 L86.7,492.5 L88.1,491.4 L89.5,490.5 L90.9,489.6 L92.2,488.8 L93.6,488.0 L95.0,487.2 L96.4,486.4 L97.8,485.7 L99.1,485.0 L100.5,484.3 L101.9,483.6 L103.3,482.9 L104.7,482.2 L106.1,481.5 L107.4,480.8 L108.8,480.2 L110.2,479.5 L111.6,478.8 L113.0,478.2 L114.3,477.6 L115.7,477.0 L117.1,476.5 L118.5,476.0 L119.9,475.5 L121.2,475.0 L122.6,474.5 L124.0,474.1 L125.4,473.7 L126.8,473.3 L128.2,473.0 L129.5,472.6 L130.9,472.3 L132.3,472.0 L133.7,471.7 L135.1,471.4 L136.4,471.1 L137.8,470.9 L139.2,470.6 L140.6,470.4 L142.0,470.2 L143.3,469.9 L144.7,469.7 L146.1,469.5 L147.5,469.3 L148.9,469.1 L150.3,469.0 L151.6,468.8 L153.0,468.7 L154.4,468.5 L155.8,468.4 L157.2,468.3 L158.5,468.1 L159.9,468.0 L161.3,467.9 L162.7,467.8 L164.1,467.8 L165.4,467.7 L166.8,467.6 L166.8,466.7 L167.4,467.5 L167.9,468.3 L168.5,469.0 L169.0,469.7 L169.6,470.4 L170.1,471.1 L170.7,471.7 L171.2,472.3 L171.8,472.9 L172.4,473.4 L172.9,473.9 L173.5,474.4 L174.0,474.9 L174.6,475.4 L175.1,475.9 L175.7,476.3 L176.2,476.7 L176.8,477.1 L177.3,477.6 L177.9,477.9 L178.4,478.3 L179.0,478.7 L179.5,479.1 L180.1,479.4 L180.6,479.8 L181.2,480.1 L181.7,480.4 L182.3,480.8 L182.9,481.1 L183.4,481.4 L185.1,482.3 L186.7,483.1 L188.4,484.0 L190.0,484.7 L191.7,485.5 L193.3,486.2 L195.0,486.9 L196.7,487.6 L198.3,488.3 L200.0,488.9 L201.6,489.6 L203.3,490.2 L205.0,490.8 L206.6,491.3 L208.3,491.9 L209.9,492.5 L211.6,493.0 L213.2,493.5 L214.9,494.0 L216.6,494.5 L218.2,495.0 L219.9,495.5 L221.5,496.0 L223.2,496.4 L224.8,496.9 L226.5,497.3 L228.2,497.8 L229.8,498.2 L231.5,498.6 L233.1,499.0 L234.8,499.4 L236.4,499.7 L238.1,500.1 L239.8,500.5 L241.4,500.8 L243.1,501.2 L244.7,501.5 L246.4,501.8 L248.0,502.2 L249.7,502.5 L251.4,502.8 L253.0,503.1 L254.7,503.4 L256.3,503.7 L258.0,504.0 L259.6,504.2 L261.3,504.5 L263.0,504.8 L264.6,505.0 L266.0,505.2 L266.3,505.3" stroke="#f01a1a" stroke-width="1.25"/>
<path d="M66.0,516.0 L66.3,515.4 L66.6,514.9 L66.8,514.5 L67.1,514.0 L67.4,513.6 L67.7,513.2 L67.9,512.8 L68.2,512.4 L68.5,512.1 L68.8,511.8 L69.0,511.4 L69.3,511.1 L69.6,510.8 L69.9,510.6 L70.1,510.3 L70.4,510.0 L70.7,509.8 L71.0,509.5 L71.2,509.3 L71.5,509.1 L71.8,508.8 L72.1,508.6 L72.4,508.4 L72.6,508.2 L72.9,508.0 L73.2,507.8 L73.5,507.6 L73.7,507.5 L74.0,507.3 L74.3,507.1 L74.6,506.9 L74.8,506.8 L75.1,506.6 L75.4,506.4 L75.7,506.3 L75.9,506.1 L76.2,506.0 L76.5,505.8 L76.8,505.7 L77.0,505.6 L78.4,504.9 L79.8,504.2 L81.2,503.6 L82.6,503.1 L84.0,502.5 L85.3,502.0 L86.7,501.6 L88.1,501.1 L89.5,500.7 L90.9,500.2 L92.2,499.8 L93.6,499.4 L95.0,499.0 L96.4,498.6 L97.8,498.2 L99.1,497.8 L100.5,497.4 L101.9,497.0 L103.3,496.6 L104.7,496.2 L106.1,495.7 L107.4,495.3 L108.8,494.8 L110.2,494.4 L111.6,493.9 L113.0,493.5 L114.3,493.1 L115.7,492.6 L117.1,492.2 L118.5,491.8 L119.9,491.4 L121.2,491.1 L122.6,490.7 L124.0,490.4 L125.4,490.0 L126.8,489.7 L128.2,489.4 L129.5,489.1 L130.9,488.8 L132.3,488.6 L133.7,488.3 L135.1,488.0 L136.4,487.8 L137.8,487.5 L139.2,487.3 L140.6,487.1 L142.0,486.9 L143.3,486.6 L144.7,486.4 L146.1,486.2 L147.5,486.0 L148.9,485.9 L150.3,485.7 L151.6,485.5 L153.0,485.3 L154.4,485.2 L155.8,485.0 L157.2,484.9 L158.5,484.8 L159.9,484.6 L161.3,484.5 L162.7,484.4 L164.1,484.3 L165.4,484.2 L166.8,484.2 L166.8,483.0 L167.4,483.9 L167.9,484.7 L168.5,485.4 L169.0,486.1 L169.6,486.8 L170.1,487.4 L170.7,487.9 L171.2,488.4 L171.8,488.9 L172.4,489.3 L172.9,489.7 L173.5,490.1 L174.0,490.5 L174.6,490.8 L175.1,491.2 L175.7,491.5 L176.2,491.8 L176.8,492.0 L177.3,492.3 L177.9,492.6 L178.4,492.8 L179.0,493.1 L179.5,493.3 L180.1,493.5 L180.6,493.7 L181.2,493.9 L181.7,494.1 L182.3,494.3 L182.9,494.5 L183.4,494.7 L185.1,495.2 L186.7,495.7 L188.4,496.1 L190.0,496.6 L191.7,497.0 L193.3,497.4 L195.0,497.8 L196.7,498.2 L198.3,498.6 L200.0,498.9 L201.6,499.3 L203.3,499.6 L205.0,500.0 L206.6,500.3 L208.3,500.6 L209.9,500.9 L211.6,501.2 L213.2,501.5 L214.9,501.8 L216.6,502.1 L218.2,502.4 L219.9,502.7 L221.5,503.0 L223.2,503.2 L224.8,503.5 L226.5,503.8 L228.2,504.0 L229.8,504.3 L231.5,504.5 L233.1,504.7 L234.8,505.0 L236.4,505.2 L238.1,505.4 L239.8,505.6 L241.4,505.8 L243.1,506.0 L244.7,506.3 L246.4,506.5 L248.0,506.6 L249.7,506.8 L251.4,507.0 L253.0,507.2 L254.7,507.4 L256.3,507.6 L258.0,507.7 L259.6,507.9 L261.3,508.1 L263.0,508.2 L264.6,508.4 L266.0,508.5 L266.3,508.6" stroke="#f01a1a" stroke-width="1.25"/>
</g>
<g clip-path="url(#c8)" fill="none" stroke-linejoin="round">
<path d="M313.0,514.7 L313.6,506.3 L314.1,494.8 L314.7,483.9 L315.2,476.3 L315.8,467.4 L316.3,461.2 L316.9,451.0 L317.4,445.3 L318.0,440.0 L318.5,434.5 L319.1,430.1 L319.6,425.1 L320.2,422.8 L320.7,421.3 L321.3,417.4 L321.8,413.4 L322.4,411.8 L322.9,410.7 L323.5,407.9 L324.0,406.7 L324.6,404.7 L325.2,405.3 L325.7,403.4 L326.3,400.8 L326.8,400.6 L327.4,399.1 L327.9,396.7 L328.5,398.0 L329.0,396.8 L329.6,396.8 L330.1,396.3 L330.7,395.2 L331.2,396.0 L331.8,396.1 L332.3,392.5 L332.9,393.5 L333.4,392.1 L334.0,392.6 L334.5,392.2 L335.1,391.4 L335.7,390.9 L336.2,392.3 L336.8,389.7 L337.3,391.3 L337.9,389.8 L338.4,387.2 L339.0,389.1 L339.5,387.3 L340.1,388.9 L340.6,387.7 L341.2,388.0 L341.7,387.5 L342.3,388.5 L342.8,388.5 L343.4,387.4 L343.9,389.1 L344.5,388.4 L345.0,387.1 L345.6,388.2 L346.1,388.5 L346.7,388.7 L347.3,387.6 L347.8,388.1 L348.4,387.6 L348.9,388.0 L349.5,386.1 L350.0,388.3 L350.6,389.7 L351.1,387.8 L351.7,387.9 L352.2,387.8 L352.8,389.5 L353.3,387.0 L353.9,388.1 L354.4,388.2 L355.0,389.6 L355.5,387.7 L356.1,388.3 L356.6,387.0 L357.2,388.7 L357.8,389.5 L358.3,388.2 L358.9,389.2 L359.4,388.0 L360.0,389.4 L360.5,388.6 L361.1,388.7 L361.6,388.6 L362.2,389.1 L362.7,389.4 L363.3,388.7 L363.8,389.2 L364.4,388.6 L364.9,389.0 L365.5,390.9 L366.0,388.9 L366.6,387.6 L367.1,388.7 L367.7,388.4 L368.2,388.6 L368.8,389.5 L369.4,390.3 L369.9,388.4 L370.5,388.2 L371.0,388.7 L371.6,388.9 L372.1,389.0 L372.7,389.4 L373.2,389.2 L373.8,389.5 L374.3,389.2 L374.9,390.5 L375.4,390.2 L376.0,389.2 L376.5,390.1 L377.1,392.0 L377.6,389.7 L378.2,392.0 L378.7,388.2 L379.3,389.4 L379.9,389.5 L380.4,390.8 L381.0,391.2 L381.5,390.5 L382.1,390.3 L382.6,391.1 L383.2,390.4 L383.7,390.0 L384.3,390.2 L384.8,391.8 L385.4,392.9 L385.9,391.0 L386.5,391.8 L387.0,390.9 L387.6,389.9 L388.1,390.0 L388.7,391.4 L389.2,390.8 L389.8,390.4 L390.3,392.0 L390.9,391.9 L391.5,391.5 L392.0,392.5 L392.6,393.0 L393.1,393.4 L393.7,392.8 L394.2,393.5 L394.8,392.4 L395.3,393.5 L395.9,392.0 L396.4,392.4 L397.0,394.7 L397.5,392.7 L398.1,394.2 L398.6,392.7 L399.2,393.6 L399.7,394.2 L400.3,393.6 L400.8,394.8 L401.4,394.1 L402.0,394.1 L402.5,394.6 L403.1,394.2 L403.6,395.5 L404.2,394.1 L404.7,395.8 L405.3,394.1 L405.8,394.3 L406.4,394.1 L406.9,395.2 L407.5,392.0 L408.0,394.9 L408.6,394.5 L409.1,395.3 L409.7,393.3 L410.2,394.9 L410.8,393.5 L411.3,395.2 L411.9,394.0 L412.4,394.6 L413.0,393.3 L413.6,394.3 L414.1,394.7 L414.4,391.9 L414.4,390.7 L414.9,396.8 L415.5,401.1 L416.0,403.8 L416.6,410.3 L417.1,411.9 L417.7,416.7 L418.2,420.7 L418.8,423.2 L419.4,426.1 L419.9,430.4 L420.5,433.0 L421.0,435.0 L421.6,437.8 L422.1,441.2 L422.7,444.4 L423.2,447.0 L423.8,449.0 L424.3,450.1 L424.9,452.3 L425.4,454.5 L426.0,455.5 L426.5,458.9 L427.1,460.7 L427.6,462.5 L428.2,462.0 L428.7,467.2 L429.3,466.5 L429.9,467.8 L430.4,469.6 L431.0,468.8 L431.5,471.2 L432.1,472.7 L432.6,475.4 L433.2,475.3 L433.7,477.1 L434.3,477.8 L434.8,478.6 L435.4,480.2 L435.9,480.1 L436.5,480.1 L437.0,481.5 L437.6,483.0 L438.1,485.7 L438.7,483.8 L439.2,484.5 L439.8,486.4 L440.3,487.3 L440.9,486.9 L441.5,488.9 L442.0,488.0 L442.6,490.3 L443.1,490.7 L443.7,490.4 L444.2,492.3 L444.8,491.5 L445.3,491.5 L445.9,493.6 L446.4,492.1 L447.0,493.8 L447.5,493.3 L448.1,494.0 L448.6,495.0 L449.2,495.5 L449.7,496.9 L450.3,496.4 L450.8,496.8 L451.4,495.0 L452.0,495.9 L452.5,498.3 L453.1,496.7 L453.6,497.5 L454.2,498.4 L454.7,497.9 L455.3,497.9 L455.8,499.4 L456.4,499.4 L456.9,499.3 L457.5,500.6 L458.0,499.8 L458.6,500.3 L459.1,501.0 L459.7,501.4 L460.2,500.6 L460.8,500.3 L461.3,501.0 L461.9,502.3 L462.4,501.1 L463.0,501.8 L463.6,501.6 L464.1,501.3 L464.7,503.4 L465.2,502.9 L465.8,503.5 L466.3,503.9 L466.9,501.5 L467.4,502.6 L468.0,505.2 L468.5,503.4 L469.1,504.4 L469.6,503.1 L470.2,504.2 L470.7,504.6 L471.3,504.4 L471.8,504.4 L472.4,504.8 L472.9,505.2 L473.5,505.3 L474.0,504.8 L474.6,506.4 L475.2,505.5 L475.7,505.8 L476.3,506.2 L476.8,505.3 L477.4,507.2 L477.9,506.5 L478.5,507.0 L479.0,505.9 L479.6,506.9 L480.1,506.6 L480.7,506.4 L481.2,508.3 L481.8,506.6 L482.3,507.7 L482.9,507.4 L483.4,507.4 L484.0,506.7 L484.5,506.8 L485.1,506.0 L485.7,507.5 L486.2,508.2 L486.8,508.3 L487.3,507.4 L487.9,506.6 L488.4,507.8 L489.0,508.7 L489.5,508.1 L490.1,508.2 L490.6,508.5 L491.2,509.2 L491.7,510.9 L492.3,509.2 L492.8,507.9 L493.4,508.7 L493.9,510.9 L494.5,509.1 L495.0,510.8 L495.6,507.4 L496.1,509.1 L496.7,510.4 L497.3,508.7 L497.8,510.2 L498.4,509.1 L498.9,509.6 L499.5,510.8 L500.0,509.2 L500.6,511.0 L501.1,508.7 L501.7,509.9 L502.2,511.0 L502.8,511.7 L503.3,508.7 L503.9,508.9 L504.4,511.4 L505.0,508.9 L505.5,510.3 L506.1,510.7 L506.6,510.6 L507.2,510.8 L507.8,509.4 L508.3,510.6 L508.9,512.4 L509.4,508.9 L510.0,510.1 L510.5,511.9 L511.1,511.3 L511.6,511.8 L512.2,511.0 L512.7,510.8 L513.3,510.9" stroke="#000" stroke-width="1.4" transform="translate(0,0.3)"/>
<path d="M313.0,515.5 L313.6,514.0 L314.1,510.0 L314.7,507.5 L315.2,501.6 L315.8,500.3 L316.3,494.9 L316.9,491.5 L317.4,488.1 L318.0,482.0 L318.5,478.5 L319.1,474.5 L319.6,468.9 L320.2,462.7 L320.7,459.8 L321.3,453.0 L321.8,449.5 L322.4,446.6 L322.9,441.8 L323.5,438.6 L324.0,437.1 L324.6,435.2 L325.2,431.8 L325.7,430.5 L326.3,431.2 L326.8,429.3 L327.4,428.1 L327.9,427.3 L328.5,427.4 L329.0,424.4 L329.6,424.4 L330.1,423.6 L330.7,421.8 L331.2,422.9 L331.8,421.9 L332.3,421.0 L332.9,421.1 L333.4,420.3 L334.0,419.1 L334.5,419.4 L335.1,417.8 L335.7,419.3 L336.2,418.1 L336.8,419.2 L337.3,417.8 L337.9,418.1 L338.4,416.0 L339.0,416.3 L339.5,416.4 L340.1,415.0 L340.6,415.2 L341.2,415.7 L341.7,416.9 L342.3,417.4 L342.8,416.1 L343.4,416.3 L343.9,416.4 L344.5,416.1 L345.0,417.2 L345.6,414.3 L346.1,416.6 L346.7,416.2 L347.3,415.0 L347.8,416.9 L348.4,414.6 L348.9,414.6 L349.5,415.6 L350.0,416.3 L350.6,415.7 L351.1,416.9 L351.7,414.0 L352.2,415.2 L352.8,415.9 L353.3,416.0 L353.9,414.7 L354.4,413.8 L355.0,416.3 L355.5,415.7 L356.1,416.7 L356.6,414.5 L357.2,415.0 L357.8,413.1 L358.3,415.2 L358.9,415.5 L359.4,415.7 L360.0,414.3 L360.5,416.6 L361.1,414.4 L361.6,414.9 L362.2,415.5 L362.7,415.9 L363.3,414.1 L363.8,413.4 L364.4,415.5 L364.9,414.6 L365.5,413.5 L366.0,415.7 L366.6,415.3 L367.1,416.2 L367.7,415.3 L368.2,415.2 L368.8,415.5 L369.4,415.8 L369.9,416.6 L370.5,416.4 L371.0,416.1 L371.6,414.6 L372.1,415.7 L372.7,416.0 L373.2,414.6 L373.8,414.7 L374.3,415.9 L374.9,415.8 L375.4,414.7 L376.0,415.0 L376.5,416.1 L377.1,415.1 L377.6,415.4 L378.2,414.3 L378.7,416.1 L379.3,414.6 L379.9,415.0 L380.4,416.3 L381.0,414.5 L381.5,414.6 L382.1,416.6 L382.6,413.7 L383.2,416.5 L383.7,416.3 L384.3,415.8 L384.8,414.8 L385.4,415.0 L385.9,415.7 L386.5,414.4 L387.0,415.2 L387.6,414.4 L388.1,413.1 L388.7,415.5 L389.2,418.0 L389.8,416.1 L390.3,416.7 L390.9,415.7 L391.5,415.7 L392.0,416.9 L392.6,416.8 L393.1,416.1 L393.7,416.0 L394.2,418.2 L394.8,415.0 L395.3,415.9 L395.9,415.9 L396.4,415.7 L397.0,416.9 L397.5,416.0 L398.1,415.0 L398.6,415.0 L399.2,415.6 L399.7,416.3 L400.3,416.8 L400.8,414.9 L401.4,415.6 L402.0,416.5 L402.5,418.1 L403.1,417.0 L403.6,418.0 L404.2,415.0 L404.7,416.0 L405.3,416.9 L405.8,416.5 L406.4,413.9 L406.9,415.2 L407.5,417.5 L408.0,416.4 L408.6,417.5 L409.1,417.9 L409.7,416.2 L410.2,414.1 L410.8,414.9 L411.3,416.3 L411.9,416.7 L412.4,416.2 L413.0,415.5 L413.6,417.8 L414.1,418.2 L414.4,411.4 L414.4,412.8 L414.9,418.0 L415.5,420.3 L416.0,424.9 L416.6,426.9 L417.1,431.9 L417.7,433.7 L418.2,435.5 L418.8,438.6 L419.4,442.5 L419.9,443.6 L420.5,447.3 L421.0,450.2 L421.6,450.5 L422.1,451.6 L422.7,454.0 L423.2,457.8 L423.8,457.6 L424.3,459.4 L424.9,462.1 L425.4,465.5 L426.0,463.7 L426.5,465.2 L427.1,466.9 L427.6,470.3 L428.2,471.3 L428.7,470.1 L429.3,471.5 L429.9,472.9 L430.4,474.6 L431.0,475.0 L431.5,476.9 L432.1,477.6 L432.6,479.0 L433.2,478.8 L433.7,480.3 L434.3,479.8 L434.8,480.9 L435.4,483.1 L435.9,481.3 L436.5,484.8 L437.0,484.0 L437.6,484.1 L438.1,484.5 L438.7,488.4 L439.2,486.0 L439.8,486.4 L440.3,486.7 L440.9,490.7 L441.5,489.8 L442.0,489.8 L442.6,490.6 L443.1,489.4 L443.7,491.8 L444.2,490.4 L444.8,491.5 L445.3,493.9 L445.9,493.9 L446.4,493.8 L447.0,493.6 L447.5,493.2 L448.1,494.7 L448.6,494.0 L449.2,496.7 L449.7,498.5 L450.3,496.3 L450.8,495.8 L451.4,497.0 L452.0,497.9 L452.5,496.9 L453.1,495.7 L453.6,498.0 L454.2,498.8 L454.7,499.2 L455.3,496.9 L455.8,499.0 L456.4,498.7 L456.9,498.4 L457.5,498.8 L458.0,500.9 L458.6,499.4 L459.1,499.7 L459.7,500.3 L460.2,500.1 L460.8,501.8 L461.3,501.5 L461.9,502.2 L462.4,501.2 L463.0,502.7 L463.6,502.0 L464.1,503.6 L464.7,502.8 L465.2,503.3 L465.8,503.2 L466.3,503.2 L466.9,503.7 L467.4,503.9 L468.0,505.8 L468.5,503.0 L469.1,504.8 L469.6,504.6 L470.2,505.3 L470.7,503.8 L471.3,505.7 L471.8,504.6 L472.4,504.1 L472.9,503.8 L473.5,504.4 L474.0,505.1 L474.6,506.9 L475.2,504.7 L475.7,504.9 L476.3,505.4 L476.8,505.6 L477.4,506.4 L477.9,507.1 L478.5,505.7 L479.0,505.7 L479.6,508.0 L480.1,506.3 L480.7,507.0 L481.2,506.5 L481.8,507.2 L482.3,506.5 L482.9,506.7 L483.4,507.0 L484.0,509.2 L484.5,507.3 L485.1,508.1 L485.7,509.3 L486.2,507.7 L486.8,509.7 L487.3,507.7 L487.9,507.0 L488.4,509.2 L489.0,508.0 L489.5,508.5 L490.1,508.4 L490.6,510.4 L491.2,508.6 L491.7,509.2 L492.3,508.7 L492.8,509.5 L493.4,508.5 L493.9,509.4 L494.5,509.1 L495.0,508.5 L495.6,509.7 L496.1,509.0 L496.7,509.8 L497.3,509.6 L497.8,510.7 L498.4,509.5 L498.9,509.2 L499.5,510.5 L500.0,509.7 L500.6,510.1 L501.1,511.6 L501.7,510.3 L502.2,509.5 L502.8,511.2 L503.3,512.5 L503.9,510.7 L504.4,511.6 L505.0,509.3 L505.5,511.1 L506.1,511.2 L506.6,511.8 L507.2,511.0 L507.8,511.9 L508.3,512.2 L508.9,511.5 L509.4,512.2 L510.0,510.3 L510.5,512.7 L511.1,511.7 L511.6,512.3 L512.2,513.0 L512.7,510.2 L513.3,513.8" stroke="#000" stroke-width="1.4" transform="translate(0,0.3)"/>
<path d="M313.0,513.6 L313.6,512.3 L314.1,507.3 L314.7,501.8 L315.2,502.7 L315.8,499.0 L316.3,493.7 L316.9,492.1 L317.4,490.3 L318.0,487.4 L318.5,486.0 L319.1,482.9 L319.6,479.5 L320.2,479.2 L320.7,476.8 L321.3,473.9 L321.8,471.3 L322.4,471.9 L322.9,469.4 L323.5,468.5 L324.0,467.0 L324.6,465.3 L325.2,464.1 L325.7,463.8 L326.3,462.8 L326.8,460.5 L327.4,458.6 L327.9,456.6 L328.5,457.3 L329.0,456.1 L329.6,454.6 L330.1,453.8 L330.7,453.9 L331.2,453.2 L331.8,450.8 L332.3,452.3 L332.9,451.9 L333.4,452.5 L334.0,450.1 L334.5,450.3 L335.1,447.9 L335.7,449.6 L336.2,448.2 L336.8,447.7 L337.3,446.7 L337.9,449.2 L338.4,446.3 L339.0,447.5 L339.5,447.3 L340.1,447.3 L340.6,447.2 L341.2,447.0 L341.7,448.6 L342.3,445.8 L342.8,446.1 L343.4,446.9 L343.9,445.9 L344.5,443.6 L345.0,445.2 L345.6,445.8 L346.1,443.8 L346.7,446.0 L347.3,445.3 L347.8,445.5 L348.4,445.1 L348.9,444.2 L349.5,444.2 L350.0,445.3 L350.6,444.7 L351.1,444.4 L351.7,444.8 L352.2,444.4 L352.8,444.9 L353.3,444.9 L353.9,444.1 L354.4,445.0 L355.0,443.6 L355.5,444.1 L356.1,444.8 L356.6,444.4 L357.2,444.3 L357.8,443.9 L358.3,443.6 L358.9,443.9 L359.4,444.5 L360.0,442.3 L360.5,442.8 L361.1,443.5 L361.6,442.7 L362.2,443.2 L362.7,443.8 L363.3,443.4 L363.8,441.0 L364.4,442.6 L364.9,442.5 L365.5,443.8 L366.0,442.9 L366.6,441.3 L367.1,443.0 L367.7,442.4 L368.2,442.2 L368.8,442.8 L369.4,441.9 L369.9,443.2 L370.5,442.9 L371.0,443.9 L371.6,440.9 L372.1,443.1 L372.7,443.2 L373.2,442.0 L373.8,443.8 L374.3,443.3 L374.9,444.0 L375.4,443.3 L376.0,443.7 L376.5,442.8 L377.1,443.4 L377.6,443.8 L378.2,443.6 L378.7,443.4 L379.3,443.7 L379.9,442.4 L380.4,442.6 L381.0,443.1 L381.5,444.3 L382.1,442.8 L382.6,444.4 L383.2,443.1 L383.7,443.2 L384.3,443.8 L384.8,444.0 L385.4,443.9 L385.9,441.3 L386.5,443.5 L387.0,443.4 L387.6,442.3 L388.1,442.8 L388.7,442.2 L389.2,444.3 L389.8,444.2 L390.3,440.2 L390.9,443.2 L391.5,443.5 L392.0,443.1 L392.6,442.3 L393.1,444.3 L393.7,442.9 L394.2,443.2 L394.8,442.6 L395.3,443.0 L395.9,443.7 L396.4,444.0 L397.0,445.4 L397.5,442.3 L398.1,444.5 L398.6,443.5 L399.2,441.7 L399.7,443.6 L400.3,442.6 L400.8,443.4 L401.4,442.5 L402.0,443.1 L402.5,443.6 L403.1,441.9 L403.6,443.4 L404.2,444.4 L404.7,443.5 L405.3,442.7 L405.8,444.2 L406.4,442.4 L406.9,442.5 L407.5,441.2 L408.0,443.8 L408.6,442.6 L409.1,444.7 L409.7,443.5 L410.2,443.1 L410.8,442.8 L411.3,443.2 L411.9,443.2 L412.4,443.7 L413.0,443.6 L413.6,442.9 L414.1,442.6 L414.4,439.2 L414.4,442.9 L414.9,444.4 L415.5,446.0 L416.0,450.5 L416.6,451.0 L417.1,452.3 L417.7,454.3 L418.2,454.3 L418.8,456.1 L419.4,458.3 L419.9,459.5 L420.5,459.8 L421.0,462.6 L421.6,463.9 L422.1,464.0 L422.7,465.6 L423.2,466.0 L423.8,468.1 L424.3,468.9 L424.9,471.1 L425.4,472.5 L426.0,472.7 L426.5,476.1 L427.1,474.3 L427.6,474.7 L428.2,476.5 L428.7,477.6 L429.3,477.3 L429.9,479.2 L430.4,479.1 L431.0,478.8 L431.5,480.9 L432.1,481.5 L432.6,482.6 L433.2,483.5 L433.7,484.2 L434.3,485.1 L434.8,484.8 L435.4,487.9 L435.9,487.3 L436.5,487.1 L437.0,489.0 L437.6,488.9 L438.1,490.0 L438.7,489.5 L439.2,489.7 L439.8,489.7 L440.3,491.0 L440.9,492.6 L441.5,492.2 L442.0,492.4 L442.6,492.1 L443.1,495.8 L443.7,493.9 L444.2,496.3 L444.8,494.4 L445.3,495.1 L445.9,495.4 L446.4,495.5 L447.0,496.3 L447.5,497.6 L448.1,497.0 L448.6,496.6 L449.2,498.1 L449.7,498.3 L450.3,499.8 L450.8,497.9 L451.4,499.7 L452.0,500.3 L452.5,500.3 L453.1,500.9 L453.6,500.6 L454.2,499.5 L454.7,500.2 L455.3,499.9 L455.8,500.1 L456.4,502.5 L456.9,501.5 L457.5,500.8 L458.0,500.3 L458.6,503.9 L459.1,504.1 L459.7,502.6 L460.2,503.6 L460.8,504.4 L461.3,503.3 L461.9,504.6 L462.4,506.1 L463.0,504.2 L463.6,504.3 L464.1,504.0 L464.7,503.9 L465.2,504.8 L465.8,505.3 L466.3,505.9 L466.9,506.9 L467.4,506.0 L468.0,504.8 L468.5,505.3 L469.1,504.2 L469.6,506.3 L470.2,507.9 L470.7,505.7 L471.3,505.6 L471.8,507.8 L472.4,508.3 L472.9,506.8 L473.5,506.4 L474.0,508.2 L474.6,507.6 L475.2,508.1 L475.7,508.6 L476.3,508.9 L476.8,507.6 L477.4,508.2 L477.9,508.6 L478.5,510.5 L479.0,506.6 L479.6,509.1 L480.1,508.5 L480.7,509.5 L481.2,508.2 L481.8,510.0 L482.3,508.7 L482.9,509.0 L483.4,508.1 L484.0,510.0 L484.5,509.7 L485.1,509.4 L485.7,507.4 L486.2,510.7 L486.8,509.2 L487.3,510.1 L487.9,509.3 L488.4,509.1 L489.0,509.6 L489.5,509.6 L490.1,509.6 L490.6,510.5 L491.2,510.2 L491.7,511.6 L492.3,510.5 L492.8,510.9 L493.4,510.5 L493.9,509.7 L494.5,510.1 L495.0,510.0 L495.6,509.5 L496.1,512.7 L496.7,510.2 L497.3,510.7 L497.8,510.8 L498.4,512.0 L498.9,510.4 L499.5,509.9 L500.0,510.0 L500.6,511.1 L501.1,510.5 L501.7,510.3 L502.2,509.5 L502.8,510.1 L503.3,511.1 L503.9,511.2 L504.4,511.2 L505.0,511.2 L505.5,511.9 L506.1,510.8 L506.6,512.2 L507.2,512.3 L507.8,511.3 L508.3,512.2 L508.9,511.9 L509.4,513.6 L510.0,511.1 L510.5,511.8 L511.1,512.0 L511.6,511.5 L512.2,511.7 L512.7,512.6 L513.3,510.2" stroke="#000" stroke-width="1.4" transform="translate(0,0.3)"/>
<path d="M313.0,515.4 L313.6,511.6 L314.1,508.5 L314.7,508.6 L315.2,506.0 L315.8,505.1 L316.3,501.7 L316.9,501.4 L317.4,500.6 L318.0,497.0 L318.5,496.1 L319.1,496.4 L319.6,493.4 L320.2,493.1 L320.7,489.7 L321.3,489.6 L321.8,490.7 L322.4,489.4 L322.9,489.1 L323.5,487.3 L324.0,486.5 L324.6,485.0 L325.2,484.8 L325.7,485.4 L326.3,484.1 L326.8,481.3 L327.4,480.9 L327.9,481.4 L328.5,480.7 L329.0,480.0 L329.6,479.2 L330.1,480.2 L330.7,477.3 L331.2,478.1 L331.8,476.8 L332.3,478.8 L332.9,475.8 L333.4,474.3 L334.0,477.1 L334.5,473.3 L335.1,473.8 L335.7,474.6 L336.2,475.0 L336.8,472.2 L337.3,472.7 L337.9,472.1 L338.4,472.6 L339.0,472.8 L339.5,471.0 L340.1,472.5 L340.6,470.6 L341.2,472.7 L341.7,471.9 L342.3,472.2 L342.8,469.5 L343.4,472.2 L343.9,471.5 L344.5,469.8 L345.0,470.1 L345.6,468.3 L346.1,468.6 L346.7,469.7 L347.3,469.6 L347.8,471.8 L348.4,470.9 L348.9,470.4 L349.5,470.3 L350.0,471.3 L350.6,470.9 L351.1,470.8 L351.7,469.0 L352.2,469.5 L352.8,470.1 L353.3,470.0 L353.9,469.4 L354.4,470.2 L355.0,469.7 L355.5,470.9 L356.1,468.6 L356.6,468.2 L357.2,468.6 L357.8,468.3 L358.3,468.3 L358.9,466.6 L359.4,468.2 L360.0,469.4 L360.5,469.0 L361.1,467.3 L361.6,466.8 L362.2,467.0 L362.7,466.8 L363.3,467.3 L363.8,468.7 L364.4,467.9 L364.9,468.8 L365.5,467.4 L366.0,468.2 L366.6,466.9 L367.1,467.0 L367.7,468.6 L368.2,466.1 L368.8,466.0 L369.4,467.9 L369.9,466.5 L370.5,465.9 L371.0,466.8 L371.6,465.7 L372.1,466.3 L372.7,465.5 L373.2,466.3 L373.8,466.6 L374.3,465.9 L374.9,465.6 L375.4,466.1 L376.0,466.7 L376.5,467.0 L377.1,466.6 L377.6,466.8 L378.2,466.1 L378.7,466.1 L379.3,466.3 L379.9,466.2 L380.4,466.0 L381.0,464.8 L381.5,465.1 L382.1,466.7 L382.6,465.8 L383.2,466.5 L383.7,466.2 L384.3,466.4 L384.8,466.7 L385.4,467.4 L385.9,468.4 L386.5,465.9 L387.0,465.0 L387.6,466.9 L388.1,465.6 L388.7,466.4 L389.2,465.8 L389.8,466.8 L390.3,466.3 L390.9,466.2 L391.5,468.2 L392.0,465.8 L392.6,466.2 L393.1,468.3 L393.7,465.4 L394.2,466.1 L394.8,465.8 L395.3,465.7 L395.9,466.4 L396.4,467.0 L397.0,466.4 L397.5,466.4 L398.1,464.0 L398.6,464.3 L399.2,466.4 L399.7,466.4 L400.3,465.7 L400.8,465.5 L401.4,466.6 L402.0,466.9 L402.5,464.2 L403.1,465.0 L403.6,467.4 L404.2,467.6 L404.7,466.7 L405.3,465.8 L405.8,465.5 L406.4,466.3 L406.9,467.5 L407.5,465.8 L408.0,465.4 L408.6,466.0 L409.1,466.4 L409.7,465.4 L410.2,466.0 L410.8,467.0 L411.3,465.9 L411.9,467.2 L412.4,465.1 L413.0,465.5 L413.6,466.9 L414.1,465.8 L414.4,461.9 L414.4,464.1 L414.9,468.4 L415.5,467.6 L416.0,467.1 L416.6,471.1 L417.1,470.9 L417.7,473.0 L418.2,472.8 L418.8,475.9 L419.4,476.1 L419.9,476.0 L420.5,476.2 L421.0,476.9 L421.6,477.7 L422.1,477.8 L422.7,479.0 L423.2,479.8 L423.8,482.1 L424.3,482.1 L424.9,479.7 L425.4,481.2 L426.0,483.3 L426.5,484.0 L427.1,484.4 L427.6,486.3 L428.2,484.8 L428.7,487.5 L429.3,487.8 L429.9,486.3 L430.4,490.8 L431.0,489.1 L431.5,491.5 L432.1,491.1 L432.6,491.0 L433.2,491.8 L433.7,491.8 L434.3,493.1 L434.8,492.9 L435.4,494.4 L435.9,494.1 L436.5,495.4 L437.0,493.9 L437.6,496.1 L438.1,494.7 L438.7,496.1 L439.2,496.4 L439.8,495.3 L440.3,496.7 L440.9,498.9 L441.5,497.0 L442.0,500.5 L442.6,497.9 L443.1,498.8 L443.7,500.1 L444.2,499.0 L444.8,499.6 L445.3,497.8 L445.9,500.3 L446.4,498.4 L447.0,499.2 L447.5,501.3 L448.1,501.8 L448.6,500.0 L449.2,501.6 L449.7,501.6 L450.3,502.2 L450.8,503.3 L451.4,502.8 L452.0,503.5 L452.5,504.3 L453.1,503.3 L453.6,501.6 L454.2,501.9 L454.7,503.7 L455.3,503.7 L455.8,503.6 L456.4,502.9 L456.9,504.1 L457.5,505.0 L458.0,505.1 L458.6,503.9 L459.1,502.6 L459.7,505.8 L460.2,507.3 L460.8,504.8 L461.3,505.8 L461.9,505.7 L462.4,504.8 L463.0,506.1 L463.6,507.6 L464.1,508.3 L464.7,506.6 L465.2,507.8 L465.8,506.6 L466.3,508.2 L466.9,507.4 L467.4,508.6 L468.0,507.7 L468.5,507.9 L469.1,507.0 L469.6,506.4 L470.2,508.0 L470.7,508.7 L471.3,506.2 L471.8,507.8 L472.4,507.6 L472.9,507.7 L473.5,507.0 L474.0,507.6 L474.6,508.0 L475.2,508.0 L475.7,509.6 L476.3,509.5 L476.8,509.1 L477.4,509.0 L477.9,509.1 L478.5,508.9 L479.0,509.3 L479.6,509.8 L480.1,511.0 L480.7,508.8 L481.2,509.1 L481.8,510.6 L482.3,509.3 L482.9,509.5 L483.4,509.9 L484.0,511.8 L484.5,511.2 L485.1,510.7 L485.7,508.7 L486.2,511.1 L486.8,510.7 L487.3,511.5 L487.9,510.9 L488.4,510.2 L489.0,512.6 L489.5,513.4 L490.1,510.1 L490.6,510.7 L491.2,511.4 L491.7,510.0 L492.3,510.0 L492.8,513.0 L493.4,511.2 L493.9,510.1 L494.5,511.8 L495.0,511.5 L495.6,510.4 L496.1,511.6 L496.7,512.5 L497.3,512.1 L497.8,512.7 L498.4,511.0 L498.9,513.2 L499.5,510.7 L500.0,513.2 L500.6,511.6 L501.1,513.1 L501.7,512.1 L502.2,510.8 L502.8,510.8 L503.3,510.7 L503.9,512.0 L504.4,511.9 L505.0,511.8 L505.5,511.5 L506.1,512.5 L506.6,511.1 L507.2,511.9 L507.8,511.1 L508.3,511.8 L508.9,511.6 L509.4,513.0 L510.0,512.7 L510.5,513.6 L511.1,512.7 L511.6,512.6 L512.2,511.7 L512.7,513.7 L513.3,509.5" stroke="#000" stroke-width="1.4" transform="translate(0,0.3)"/>
<path d="M313.0,515.1 L313.6,511.1 L314.1,509.1 L314.7,510.6 L315.2,506.9 L315.8,503.9 L316.3,506.4 L316.9,502.3 L317.4,503.0 L318.0,501.8 L318.5,500.4 L319.1,501.7 L319.6,499.2 L320.2,499.5 L320.7,499.1 L321.3,497.3 L321.8,494.3 L322.4,496.9 L322.9,496.4 L323.5,496.7 L324.0,497.0 L324.6,495.8 L325.2,494.4 L325.7,495.4 L326.3,494.5 L326.8,495.3 L327.4,492.5 L327.9,496.2 L328.5,493.9 L329.0,493.7 L329.6,493.7 L330.1,494.8 L330.7,494.6 L331.2,493.5 L331.8,493.0 L332.3,494.0 L332.9,493.7 L333.4,491.9 L334.0,491.2 L334.5,492.5 L335.1,492.5 L335.7,492.3 L336.2,489.0 L336.8,490.7 L337.3,491.0 L337.9,489.8 L338.4,488.4 L339.0,489.3 L339.5,491.6 L340.1,490.1 L340.6,490.2 L341.2,490.0 L341.7,490.7 L342.3,489.7 L342.8,490.2 L343.4,488.7 L343.9,488.8 L344.5,490.0 L345.0,490.2 L345.6,488.9 L346.1,487.6 L346.7,487.6 L347.3,488.0 L347.8,491.0 L348.4,488.2 L348.9,488.3 L349.5,487.8 L350.0,488.5 L350.6,487.6 L351.1,487.7 L351.7,484.4 L352.2,486.2 L352.8,486.9 L353.3,486.7 L353.9,486.6 L354.4,486.2 L355.0,486.7 L355.5,486.2 L356.1,485.1 L356.6,485.2 L357.2,485.6 L357.8,484.6 L358.3,485.5 L358.9,486.6 L359.4,487.2 L360.0,486.1 L360.5,485.5 L361.1,484.9 L361.6,484.2 L362.2,485.7 L362.7,485.8 L363.3,484.3 L363.8,483.8 L364.4,485.3 L364.9,484.4 L365.5,483.4 L366.0,484.3 L366.6,484.6 L367.1,486.5 L367.7,483.1 L368.2,483.7 L368.8,484.2 L369.4,484.6 L369.9,485.3 L370.5,484.2 L371.0,484.1 L371.6,482.9 L372.1,485.0 L372.7,482.4 L373.2,483.7 L373.8,482.6 L374.3,484.6 L374.9,483.2 L375.4,482.4 L376.0,483.3 L376.5,484.8 L377.1,483.7 L377.6,482.8 L378.2,484.6 L378.7,484.6 L379.3,482.9 L379.9,484.0 L380.4,482.4 L381.0,484.1 L381.5,484.7 L382.1,483.6 L382.6,481.4 L383.2,483.6 L383.7,482.7 L384.3,482.4 L384.8,483.5 L385.4,481.5 L385.9,482.4 L386.5,482.1 L387.0,484.0 L387.6,484.0 L388.1,485.0 L388.7,482.5 L389.2,482.5 L389.8,481.5 L390.3,480.7 L390.9,482.4 L391.5,482.3 L392.0,481.6 L392.6,480.5 L393.1,482.7 L393.7,481.3 L394.2,482.1 L394.8,482.2 L395.3,481.0 L395.9,482.5 L396.4,482.7 L397.0,481.1 L397.5,481.7 L398.1,481.9 L398.6,481.7 L399.2,481.1 L399.7,481.9 L400.3,480.8 L400.8,481.1 L401.4,480.0 L402.0,480.2 L402.5,480.5 L403.1,481.5 L403.6,481.2 L404.2,481.8 L404.7,478.5 L405.3,481.4 L405.8,480.7 L406.4,479.9 L406.9,482.4 L407.5,481.9 L408.0,481.5 L408.6,482.0 L409.1,482.3 L409.7,481.5 L410.2,479.8 L410.8,480.3 L411.3,480.9 L411.9,480.9 L412.4,482.5 L413.0,480.3 L413.6,480.5 L414.1,481.9 L414.4,477.9 L414.4,480.0 L414.9,481.0 L415.5,481.9 L416.0,482.9 L416.6,483.2 L417.1,484.0 L417.7,483.2 L418.2,483.9 L418.8,484.4 L419.4,485.4 L419.9,486.2 L420.5,484.3 L421.0,488.5 L421.6,486.1 L422.1,487.4 L422.7,488.1 L423.2,489.1 L423.8,489.3 L424.3,490.7 L424.9,491.3 L425.4,490.5 L426.0,492.4 L426.5,490.4 L427.1,490.5 L427.6,495.3 L428.2,493.9 L428.7,492.5 L429.3,492.9 L429.9,493.4 L430.4,493.5 L431.0,493.5 L431.5,493.7 L432.1,493.2 L432.6,495.2 L433.2,494.7 L433.7,497.4 L434.3,496.3 L434.8,497.6 L435.4,495.5 L435.9,494.9 L436.5,496.9 L437.0,498.9 L437.6,498.0 L438.1,498.2 L438.7,498.3 L439.2,497.7 L439.8,498.1 L440.3,501.8 L440.9,498.2 L441.5,500.2 L442.0,500.5 L442.6,498.9 L443.1,500.7 L443.7,502.0 L444.2,502.2 L444.8,501.1 L445.3,500.5 L445.9,500.2 L446.4,502.0 L447.0,502.4 L447.5,500.7 L448.1,502.8 L448.6,501.2 L449.2,502.6 L449.7,502.8 L450.3,503.4 L450.8,503.1 L451.4,504.0 L452.0,504.3 L452.5,504.0 L453.1,504.7 L453.6,503.9 L454.2,504.3 L454.7,504.8 L455.3,504.9 L455.8,505.1 L456.4,503.3 L456.9,505.2 L457.5,505.9 L458.0,505.7 L458.6,505.0 L459.1,505.9 L459.7,506.0 L460.2,506.2 L460.8,506.0 L461.3,505.9 L461.9,506.0 L462.4,508.1 L463.0,507.7 L463.6,509.3 L464.1,506.1 L464.7,505.9 L465.2,505.9 L465.8,507.1 L466.3,506.2 L466.9,507.5 L467.4,507.7 L468.0,509.1 L468.5,508.5 L469.1,508.4 L469.6,507.1 L470.2,506.5 L470.7,508.6 L471.3,507.9 L471.8,508.1 L472.4,509.2 L472.9,510.2 L473.5,509.4 L474.0,510.1 L474.6,509.1 L475.2,509.0 L475.7,509.2 L476.3,509.2 L476.8,508.7 L477.4,510.1 L477.9,508.5 L478.5,511.0 L479.0,509.4 L479.6,509.2 L480.1,510.4 L480.7,511.2 L481.2,509.2 L481.8,510.5 L482.3,509.2 L482.9,509.2 L483.4,510.0 L484.0,510.1 L484.5,509.2 L485.1,509.9 L485.7,511.2 L486.2,510.2 L486.8,509.9 L487.3,510.3 L487.9,510.4 L488.4,510.7 L489.0,510.8 L489.5,511.6 L490.1,512.1 L490.6,509.8 L491.2,511.5 L491.7,510.7 L492.3,512.4 L492.8,510.9 L493.4,511.9 L493.9,508.3 L494.5,512.1 L495.0,512.1 L495.6,510.4 L496.1,510.3 L496.7,513.4 L497.3,511.2 L497.8,510.6 L498.4,512.7 L498.9,510.9 L499.5,512.1 L500.0,512.6 L500.6,512.0 L501.1,512.2 L501.7,513.1 L502.2,509.7 L502.8,512.3 L503.3,512.6 L503.9,511.1 L504.4,512.0 L505.0,510.7 L505.5,512.3 L506.1,511.7 L506.6,512.0 L507.2,512.0 L507.8,512.4 L508.3,512.3 L508.9,510.7 L509.4,512.9 L510.0,512.8 L510.5,512.7 L511.1,511.8 L511.6,512.0 L512.2,511.6 L512.7,513.7 L513.3,512.3" stroke="#000" stroke-width="1.4" transform="translate(0,0.3)"/>
<path d="M313.0,515.0 L313.3,509.2 L313.6,503.8 L313.8,498.7 L314.1,493.8 L314.4,489.1 L314.7,484.5 L314.9,480.1 L315.2,475.8 L315.5,471.6 L315.8,467.4 L316.0,463.5 L316.3,459.6 L316.6,455.9 L316.9,452.3 L317.1,449.0 L317.4,445.8 L317.7,442.7 L318.0,439.9 L318.2,437.3 L318.5,434.8 L318.8,432.5 L319.1,430.3 L319.4,428.3 L319.6,426.4 L319.9,424.6 L320.2,422.9 L320.5,421.3 L320.7,419.8 L321.0,418.4 L321.3,417.0 L321.6,415.8 L321.8,414.5 L322.1,413.4 L322.4,412.3 L322.7,411.2 L322.9,410.2 L323.2,409.3 L323.5,408.4 L323.8,407.5 L324.0,406.7 L325.4,403.1 L326.8,400.3 L328.2,398.1 L329.6,396.2 L331.0,394.8 L332.3,393.7 L333.7,392.9 L335.1,392.4 L336.5,392.1 L337.9,392.0 L339.2,391.9 L340.6,391.8 L342.0,391.7 L343.4,391.7 L344.8,391.7 L346.1,391.7 L347.5,391.6 L348.9,391.6 L350.3,391.6 L351.7,391.6 L353.1,391.6 L354.4,391.6 L355.8,391.6 L357.2,391.6 L358.6,391.6 L360.0,391.6 L361.3,391.6 L362.7,391.6 L364.1,391.6 L365.5,391.6 L366.9,391.6 L368.2,391.6 L369.6,391.6 L371.0,391.6 L372.4,391.6 L373.8,391.7 L375.2,391.7 L376.5,391.7 L377.9,391.7 L379.3,391.7 L380.7,391.7 L382.1,391.7 L383.4,391.7 L384.8,391.8 L386.2,391.8 L387.6,391.8 L389.0,391.8 L390.3,391.8 L391.7,391.8 L393.1,391.9 L394.5,391.9 L395.9,391.9 L397.3,391.9 L398.6,391.9 L400.0,391.9 L401.4,392.0 L402.8,392.0 L404.2,392.0 L405.5,392.0 L406.9,392.0 L408.3,392.0 L409.7,392.0 L411.1,392.0 L412.4,392.1 L413.8,392.1 L414.4,392.1 L414.4,389.2 L414.9,394.1 L415.5,398.8 L416.0,403.3 L416.6,407.6 L417.1,411.7 L417.7,415.6 L418.2,419.3 L418.8,422.8 L419.4,426.2 L419.9,429.4 L420.5,432.5 L421.0,435.5 L421.6,438.3 L422.1,441.0 L422.7,443.5 L423.2,446.0 L423.8,448.3 L424.3,450.5 L424.9,452.7 L425.4,454.7 L426.0,456.7 L426.5,458.5 L427.1,460.3 L427.6,462.0 L428.2,463.7 L428.7,465.3 L429.3,466.8 L429.9,468.2 L430.4,469.6 L431.0,470.9 L432.6,474.6 L434.3,477.8 L435.9,480.6 L437.6,483.2 L439.2,485.5 L440.9,487.5 L442.6,489.3 L444.2,490.9 L445.9,492.4 L447.5,493.8 L449.2,495.0 L450.8,496.1 L452.5,497.1 L454.2,498.0 L455.8,498.9 L457.5,499.7 L459.1,500.4 L460.8,501.1 L462.4,501.8 L464.1,502.4 L465.8,502.9 L467.4,503.4 L469.1,503.9 L470.7,504.4 L472.4,504.9 L474.0,505.3 L475.7,505.7 L477.4,506.0 L479.0,506.4 L480.7,506.7 L482.3,507.1 L484.0,507.4 L485.7,507.7 L487.3,508.0 L489.0,508.2 L490.6,508.5 L492.3,508.7 L493.9,509.0 L495.6,509.2 L497.3,509.4 L498.9,509.6 L500.6,509.8 L502.2,510.0 L503.9,510.2 L505.5,510.4 L507.2,510.6 L508.9,510.7 L510.5,510.9 L512.2,511.1 L513.0,511.1" stroke="#f01a1a" stroke-width="1.25"/>
<path d="M313.0,515.0 L313.3,514.3 L313.6,513.3 L313.8,512.2 L314.1,510.7 L314.4,509.1 L314.7,507.4 L314.9,505.5 L315.2,503.6 L315.5,501.6 L315.8,499.6 L316.0,497.6 L316.3,495.6 L316.6,493.6 L316.9,491.5 L317.1,489.5 L317.4,487.4 L317.7,485.4 L318.0,483.2 L318.2,481.0 L318.5,478.6 L318.8,476.2 L319.1,473.8 L319.4,471.2 L319.6,468.7 L319.9,466.1 L320.2,463.6 L320.5,461.1 L320.7,458.7 L321.0,456.4 L321.3,454.2 L321.6,452.1 L321.8,450.1 L322.1,448.2 L322.4,446.4 L322.7,444.7 L322.9,443.1 L323.2,441.5 L323.5,440.1 L323.8,438.8 L324.0,437.6 L325.4,432.6 L326.8,429.1 L328.2,426.5 L329.6,424.4 L331.0,422.7 L332.3,421.3 L333.7,420.0 L335.1,419.0 L336.5,418.1 L337.9,417.4 L339.2,416.9 L340.6,416.5 L342.0,416.2 L343.4,415.9 L344.8,415.8 L346.1,415.6 L347.5,415.5 L348.9,415.4 L350.3,415.3 L351.7,415.3 L353.1,415.2 L354.4,415.2 L355.8,415.1 L357.2,415.1 L358.6,415.1 L360.0,415.1 L361.3,415.1 L362.7,415.1 L364.1,415.1 L365.5,415.1 L366.9,415.1 L368.2,415.1 L369.6,415.2 L371.0,415.2 L372.4,415.2 L373.8,415.2 L375.2,415.3 L376.5,415.3 L377.9,415.3 L379.3,415.4 L380.7,415.4 L382.1,415.5 L383.4,415.5 L384.8,415.5 L386.2,415.6 L387.6,415.6 L389.0,415.7 L390.3,415.7 L391.7,415.8 L393.1,415.8 L394.5,415.9 L395.9,415.9 L397.3,416.0 L398.6,416.0 L400.0,416.1 L401.4,416.1 L402.8,416.2 L404.2,416.2 L405.5,416.2 L406.9,416.3 L408.3,416.3 L409.7,416.3 L411.1,416.4 L412.4,416.4 L413.8,416.4 L414.4,416.5 L414.4,414.6 L414.9,418.2 L415.5,421.7 L416.0,425.1 L416.6,428.3 L417.1,431.3 L417.7,434.2 L418.2,436.9 L418.8,439.5 L419.4,442.0 L419.9,444.4 L420.5,446.7 L421.0,448.9 L421.6,451.0 L422.1,452.9 L422.7,454.8 L423.2,456.7 L423.8,458.4 L424.3,460.1 L424.9,461.6 L425.4,463.2 L426.0,464.6 L426.5,466.0 L427.1,467.4 L427.6,468.7 L428.2,469.9 L428.7,471.1 L429.3,472.2 L429.9,473.3 L430.4,474.4 L431.0,475.4 L432.6,478.2 L434.3,480.7 L435.9,483.0 L437.6,485.1 L439.2,486.9 L440.9,488.6 L442.6,490.2 L444.2,491.6 L445.9,492.9 L447.5,494.1 L449.2,495.2 L450.8,496.3 L452.5,497.3 L454.2,498.2 L455.8,499.0 L457.5,499.8 L459.1,500.5 L460.8,501.2 L462.4,501.9 L464.1,502.5 L465.8,503.1 L467.4,503.7 L469.1,504.2 L470.7,504.7 L472.4,505.2 L474.0,505.6 L475.7,506.1 L477.4,506.5 L479.0,506.9 L480.7,507.2 L482.3,507.6 L484.0,507.9 L485.7,508.3 L487.3,508.6 L489.0,508.9 L490.6,509.1 L492.3,509.4 L493.9,509.6 L495.6,509.9 L497.3,510.1 L498.9,510.3 L500.6,510.6 L502.2,510.8 L503.9,510.9 L505.5,511.1 L507.2,511.3 L508.9,511.5 L510.5,511.6 L512.2,511.8 L513.0,511.8" stroke="#f01a1a" stroke-width="1.25"/>
<path d="M313.0,515.0 L313.3,513.0 L313.6,511.0 L313.8,509.2 L314.1,507.4 L314.4,505.6 L314.7,504.0 L314.9,502.3 L315.2,500.8 L315.5,499.2 L315.8,497.8 L316.0,496.3 L316.3,495.0 L316.6,493.6 L316.9,492.3 L317.1,491.0 L317.4,489.8 L317.7,488.6 L318.0,487.4 L318.2,486.3 L318.5,485.2 L318.8,484.1 L319.1,483.0 L319.4,482.0 L319.6,480.9 L319.9,479.9 L320.2,478.9 L320.5,477.9 L320.7,477.0 L321.0,476.0 L321.3,475.0 L321.6,474.1 L321.8,473.2 L322.1,472.3 L322.4,471.4 L322.7,470.5 L322.9,469.7 L323.2,468.9 L323.5,468.0 L323.8,467.2 L324.0,466.5 L325.4,462.9 L326.8,459.8 L328.2,457.3 L329.6,455.2 L331.0,453.5 L332.3,452.0 L333.7,450.8 L335.1,449.7 L336.5,448.8 L337.9,448.0 L339.2,447.4 L340.6,446.9 L342.0,446.4 L343.4,446.0 L344.8,445.7 L346.1,445.4 L347.5,445.1 L348.9,444.9 L350.3,444.6 L351.7,444.4 L353.1,444.3 L354.4,444.1 L355.8,444.0 L357.2,443.8 L358.6,443.8 L360.0,443.7 L361.3,443.6 L362.7,443.6 L364.1,443.5 L365.5,443.5 L366.9,443.4 L368.2,443.4 L369.6,443.4 L371.0,443.4 L372.4,443.4 L373.8,443.3 L375.2,443.3 L376.5,443.3 L377.9,443.3 L379.3,443.3 L380.7,443.3 L382.1,443.3 L383.4,443.3 L384.8,443.3 L386.2,443.3 L387.6,443.2 L389.0,443.2 L390.3,443.2 L391.7,443.2 L393.1,443.2 L394.5,443.2 L395.9,443.2 L397.3,443.2 L398.6,443.2 L400.0,443.2 L401.4,443.2 L402.8,443.2 L404.2,443.2 L405.5,443.2 L406.9,443.2 L408.3,443.2 L409.7,443.2 L411.1,443.2 L412.4,443.2 L413.8,443.2 L414.4,443.2 L414.4,443.5 L414.9,445.3 L415.5,447.1 L416.0,448.9 L416.6,450.5 L417.1,452.2 L417.7,453.7 L418.2,455.3 L418.8,456.8 L419.4,458.2 L419.9,459.6 L420.5,461.0 L421.0,462.3 L421.6,463.6 L422.1,464.9 L422.7,466.1 L423.2,467.3 L423.8,468.4 L424.3,469.6 L424.9,470.6 L425.4,471.7 L426.0,472.7 L426.5,473.7 L427.1,474.7 L427.6,475.7 L428.2,476.6 L428.7,477.5 L429.3,478.3 L429.9,479.2 L430.4,480.0 L431.0,480.8 L432.6,483.1 L434.3,485.2 L435.9,487.1 L437.6,488.9 L439.2,490.5 L440.9,492.0 L442.6,493.4 L444.2,494.7 L445.9,495.9 L447.5,497.0 L449.2,498.0 L450.8,499.0 L452.5,499.9 L454.2,500.7 L455.8,501.5 L457.5,502.2 L459.1,502.9 L460.8,503.5 L462.4,504.1 L464.1,504.6 L465.8,505.1 L467.4,505.6 L469.1,506.0 L470.7,506.5 L472.4,506.9 L474.0,507.2 L475.7,507.6 L477.4,507.9 L479.0,508.2 L480.7,508.5 L482.3,508.8 L484.0,509.0 L485.7,509.3 L487.3,509.5 L489.0,509.7 L490.6,510.0 L492.3,510.2 L493.9,510.3 L495.6,510.5 L497.3,510.7 L498.9,510.9 L500.6,511.0 L502.2,511.2 L503.9,511.3 L505.5,511.5 L507.2,511.6 L508.9,511.7 L510.5,511.8 L512.2,511.9 L513.0,512.0" stroke="#f01a1a" stroke-width="1.25"/>
<path d="M313.0,515.0 L313.3,513.7 L313.6,512.5 L313.8,511.3 L314.1,510.2 L314.4,509.1 L314.7,508.1 L314.9,507.1 L315.2,506.1 L315.5,505.2 L315.8,504.3 L316.0,503.5 L316.3,502.7 L316.6,501.9 L316.9,501.1 L317.1,500.3 L317.4,499.6 L317.7,498.9 L318.0,498.2 L318.2,497.5 L318.5,496.9 L318.8,496.3 L319.1,495.6 L319.4,495.0 L319.6,494.4 L319.9,493.9 L320.2,493.3 L320.5,492.7 L320.7,492.2 L321.0,491.7 L321.3,491.2 L321.6,490.7 L321.8,490.2 L322.1,489.7 L322.4,489.2 L322.7,488.7 L322.9,488.3 L323.2,487.8 L323.5,487.4 L323.8,486.9 L324.0,486.5 L325.4,484.5 L326.8,482.6 L328.2,480.9 L329.6,479.3 L331.0,477.8 L332.3,476.5 L333.7,475.3 L335.1,474.3 L336.5,473.4 L337.9,472.6 L339.2,471.9 L340.6,471.4 L342.0,470.9 L343.4,470.6 L344.8,470.4 L346.1,470.3 L347.5,470.2 L348.9,470.1 L350.3,470.1 L351.7,469.9 L353.1,469.8 L354.4,469.5 L355.8,469.2 L357.2,468.9 L358.6,468.6 L360.0,468.2 L361.3,467.9 L362.7,467.6 L364.1,467.3 L365.5,467.1 L366.9,466.9 L368.2,466.8 L369.6,466.6 L371.0,466.5 L372.4,466.5 L373.8,466.4 L375.2,466.3 L376.5,466.3 L377.9,466.3 L379.3,466.2 L380.7,466.2 L382.1,466.2 L383.4,466.1 L384.8,466.1 L386.2,466.1 L387.6,466.1 L389.0,466.1 L390.3,466.0 L391.7,466.0 L393.1,466.0 L394.5,466.0 L395.9,466.0 L397.3,466.0 L398.6,466.0 L400.0,466.0 L401.4,466.0 L402.8,466.0 L404.2,466.0 L405.5,465.9 L406.9,465.9 L408.3,465.9 L409.7,465.9 L411.1,465.9 L412.4,465.9 L413.8,465.9 L414.4,465.9 L414.4,465.2 L414.9,466.4 L415.5,467.5 L416.0,468.6 L416.6,469.6 L417.1,470.7 L417.7,471.7 L418.2,472.7 L418.8,473.6 L419.4,474.6 L419.9,475.5 L420.5,476.3 L421.0,477.2 L421.6,478.0 L422.1,478.9 L422.7,479.7 L423.2,480.4 L423.8,481.2 L424.3,481.9 L424.9,482.6 L425.4,483.3 L426.0,484.0 L426.5,484.7 L427.1,485.3 L427.6,485.9 L428.2,486.5 L428.7,487.1 L429.3,487.7 L429.9,488.3 L430.4,488.8 L431.0,489.4 L432.6,490.9 L434.3,492.4 L435.9,493.7 L437.6,494.9 L439.2,496.1 L440.9,497.1 L442.6,498.1 L444.2,499.0 L445.9,499.9 L447.5,500.7 L449.2,501.5 L450.8,502.2 L452.5,502.8 L454.2,503.4 L455.8,504.0 L457.5,504.6 L459.1,505.1 L460.8,505.5 L462.4,506.0 L464.1,506.4 L465.8,506.8 L467.4,507.2 L469.1,507.5 L470.7,507.9 L472.4,508.2 L474.0,508.5 L475.7,508.8 L477.4,509.0 L479.0,509.3 L480.7,509.5 L482.3,509.8 L484.0,510.0 L485.7,510.2 L487.3,510.4 L489.0,510.6 L490.6,510.8 L492.3,510.9 L493.9,511.1 L495.6,511.2 L497.3,511.4 L498.9,511.5 L500.6,511.7 L502.2,511.8 L503.9,511.9 L505.5,512.0 L507.2,512.1 L508.9,512.3 L510.5,512.4 L512.2,512.5 L513.0,512.5" stroke="#f01a1a" stroke-width="1.25"/>
<path d="M313.0,515.0 L313.3,513.6 L313.6,512.3 L313.8,511.1 L314.1,510.1 L314.4,509.1 L314.7,508.2 L314.9,507.4 L315.2,506.6 L315.5,505.9 L315.8,505.3 L316.0,504.6 L316.3,504.1 L316.6,503.5 L316.9,503.0 L317.1,502.6 L317.4,502.1 L317.7,501.7 L318.0,501.3 L318.2,500.9 L318.5,500.6 L318.8,500.2 L319.1,499.9 L319.4,499.6 L319.6,499.4 L319.9,499.1 L320.2,498.8 L320.5,498.6 L320.7,498.4 L321.0,498.2 L321.3,497.9 L321.6,497.8 L321.8,497.6 L322.1,497.4 L322.4,497.2 L322.7,497.1 L322.9,496.9 L323.2,496.7 L323.5,496.6 L323.8,496.5 L324.0,496.3 L325.4,495.7 L326.8,495.1 L328.2,494.5 L329.6,493.9 L331.0,493.4 L332.3,492.8 L333.7,492.3 L335.1,491.8 L336.5,491.2 L337.9,490.8 L339.2,490.3 L340.6,489.8 L342.0,489.4 L343.4,489.0 L344.8,488.6 L346.1,488.2 L347.5,487.9 L348.9,487.5 L350.3,487.2 L351.7,486.9 L353.1,486.6 L354.4,486.4 L355.8,486.1 L357.2,485.9 L358.6,485.7 L360.0,485.4 L361.3,485.2 L362.7,485.0 L364.1,484.8 L365.5,484.7 L366.9,484.5 L368.2,484.3 L369.6,484.1 L371.0,484.0 L372.4,483.8 L373.8,483.7 L375.2,483.5 L376.5,483.4 L377.9,483.2 L379.3,483.1 L380.7,483.0 L382.1,482.8 L383.4,482.7 L384.8,482.6 L386.2,482.5 L387.6,482.3 L389.0,482.2 L390.3,482.1 L391.7,482.0 L393.1,481.9 L394.5,481.8 L395.9,481.7 L397.3,481.6 L398.6,481.5 L400.0,481.5 L401.4,481.4 L402.8,481.3 L404.2,481.2 L405.5,481.2 L406.9,481.1 L408.3,481.1 L409.7,481.0 L411.1,480.9 L412.4,480.9 L413.8,480.9 L414.4,480.8 L414.4,480.2 L414.9,480.8 L415.5,481.4 L416.0,482.0 L416.6,482.5 L417.1,483.1 L417.7,483.7 L418.2,484.2 L418.8,484.7 L419.4,485.2 L419.9,485.8 L420.5,486.3 L421.0,486.7 L421.6,487.2 L422.1,487.7 L422.7,488.2 L423.2,488.6 L423.8,489.1 L424.3,489.5 L424.9,489.9 L425.4,490.4 L426.0,490.8 L426.5,491.2 L427.1,491.6 L427.6,492.0 L428.2,492.4 L428.7,492.7 L429.3,493.1 L429.9,493.5 L430.4,493.8 L431.0,494.2 L432.6,495.2 L434.3,496.1 L435.9,497.1 L437.6,497.9 L439.2,498.7 L440.9,499.5 L442.6,500.2 L444.2,500.9 L445.9,501.6 L447.5,502.2 L449.2,502.8 L450.8,503.3 L452.5,503.8 L454.2,504.3 L455.8,504.8 L457.5,505.3 L459.1,505.7 L460.8,506.1 L462.4,506.5 L464.1,506.9 L465.8,507.2 L467.4,507.5 L469.1,507.9 L470.7,508.1 L472.4,508.4 L474.0,508.7 L475.7,509.0 L477.4,509.2 L479.0,509.4 L480.7,509.7 L482.3,509.9 L484.0,510.1 L485.7,510.3 L487.3,510.5 L489.0,510.6 L490.6,510.8 L492.3,511.0 L493.9,511.1 L495.6,511.3 L497.3,511.4 L498.9,511.5 L500.6,511.7 L502.2,511.8 L503.9,511.9 L505.5,512.0 L507.2,512.1 L508.9,512.2 L510.5,512.3 L512.2,512.4 L513.0,512.5" stroke="#f01a1a" stroke-width="1.25"/>
</g>
<g clip-path="url(#c9)" fill="none" stroke-linejoin="round">
<path d="M558.5,516.1 L559.1,507.3 L559.6,499.4 L560.2,494.0 L560.7,486.5 L561.3,481.2 L561.8,477.2 L562.4,471.8 L562.9,466.5 L563.5,464.1 L564.0,460.2 L564.6,457.9 L565.1,455.8 L565.7,453.4 L566.3,450.7 L566.8,447.0 L567.4,444.7 L567.9,443.2 L568.5,439.8 L569.0,438.2 L569.6,436.4 L570.1,433.6 L570.7,432.4 L571.2,431.0 L571.8,427.3 L572.3,427.6 L572.9,424.5 L573.5,424.3 L574.0,421.9 L574.6,420.8 L575.1,419.7 L575.7,419.7 L576.2,417.4 L576.8,416.3 L577.3,416.0 L577.9,414.6 L578.4,413.1 L579.0,413.5 L579.5,412.2 L580.1,412.4 L580.7,410.8 L581.2,410.0 L581.8,408.3 L582.3,408.8 L582.9,408.6 L583.4,407.4 L584.0,408.5 L584.5,406.7 L585.1,407.4 L585.6,407.0 L586.2,405.5 L586.7,405.7 L587.3,404.7 L587.9,406.1 L588.4,404.7 L589.0,404.9 L589.5,404.5 L590.1,405.3 L590.6,403.2 L591.2,403.5 L591.7,404.0 L592.3,404.0 L592.8,403.5 L593.4,401.8 L593.9,402.6 L594.5,402.5 L595.1,401.8 L595.6,401.9 L596.2,401.6 L596.7,401.1 L597.3,401.2 L597.8,400.6 L598.4,401.8 L598.9,400.8 L599.5,400.9 L600.0,400.5 L600.6,400.4 L601.1,400.6 L601.7,400.3 L602.3,399.3 L602.8,400.1 L603.4,400.4 L603.9,399.1 L604.5,398.7 L605.0,399.4 L605.6,399.0 L606.1,399.5 L606.7,399.0 L607.2,398.0 L607.8,398.1 L608.3,398.4 L608.9,398.6 L609.5,399.4 L610.0,398.0 L610.6,397.9 L611.1,397.4 L611.7,396.7 L612.2,397.6 L612.8,397.2 L613.3,398.4 L613.9,396.9 L614.4,397.0 L615.0,396.6 L615.5,397.0 L616.1,397.0 L616.7,396.3 L617.2,397.6 L617.8,396.7 L618.3,396.4 L618.9,397.5 L619.4,397.7 L620.0,396.6 L620.5,396.8 L621.1,396.4 L621.6,396.3 L622.2,397.2 L622.7,396.4 L623.3,395.9 L623.9,396.8 L624.4,396.7 L625.0,397.2 L625.5,395.9 L626.1,395.2 L626.6,397.3 L627.2,395.9 L627.7,395.8 L628.3,396.7 L628.8,396.5 L629.4,396.9 L629.9,396.8 L630.5,396.1 L631.1,395.8 L631.6,396.1 L632.2,395.7 L632.7,396.1 L633.3,396.9 L633.8,395.3 L634.4,395.4 L634.9,396.6 L635.5,395.0 L636.0,395.8 L636.6,396.1 L637.1,394.9 L637.7,397.7 L638.3,397.1 L638.8,395.7 L639.4,396.3 L639.9,396.7 L640.5,395.1 L641.0,395.8 L641.6,396.9 L642.1,396.5 L642.7,395.5 L643.2,394.9 L643.8,397.3 L644.3,395.9 L644.9,396.3 L645.5,397.1 L646.0,396.1 L646.6,397.0 L647.1,396.4 L647.7,395.0 L648.2,395.7 L648.8,395.5 L649.3,395.6 L649.9,395.8 L650.4,395.4 L651.0,396.7 L651.5,396.2 L652.1,395.4 L652.7,396.4 L653.2,396.3 L653.8,395.2 L654.3,395.0 L654.9,396.4 L655.4,396.5 L656.0,395.6 L656.5,395.8 L657.1,396.4 L657.6,395.6 L658.2,395.6 L658.8,395.9 L659.0,386.0 L659.0,393.5 L659.6,396.6 L660.1,399.0 L660.7,400.9 L661.2,401.6 L661.8,404.6 L662.4,407.6 L662.9,408.6 L663.5,410.5 L664.0,412.5 L664.6,413.6 L665.1,415.2 L665.7,416.9 L666.2,418.6 L666.8,419.2 L667.3,422.2 L667.9,422.0 L668.4,423.9 L669.0,425.0 L669.6,428.0 L670.1,426.6 L670.7,430.0 L671.2,430.7 L671.8,430.9 L672.3,432.8 L672.9,433.8 L673.4,436.1 L674.0,436.0 L674.5,436.6 L675.1,437.4 L675.6,439.0 L676.2,439.7 L676.8,440.5 L677.3,442.2 L677.9,443.1 L678.4,442.3 L679.0,445.0 L679.5,444.6 L680.1,446.2 L680.6,446.1 L681.2,448.3 L681.7,448.4 L682.3,449.3 L682.8,450.5 L683.4,450.9 L684.0,452.3 L684.5,452.7 L685.1,453.6 L685.6,453.6 L686.2,454.8 L686.7,456.4 L687.3,456.4 L687.8,456.9 L688.4,458.1 L688.9,457.3 L689.5,458.5 L690.0,458.9 L690.6,460.5 L691.2,460.9 L691.7,460.6 L692.3,462.7 L692.8,462.2 L693.4,462.9 L693.9,463.9 L694.5,464.0 L695.0,465.3 L695.6,465.0 L696.1,466.5 L696.7,467.0 L697.2,465.8 L697.8,467.7 L698.4,469.1 L698.9,467.6 L699.5,469.2 L700.0,471.4 L700.6,469.7 L701.1,469.5 L701.7,470.3 L702.2,469.9 L702.8,471.5 L703.3,471.5 L703.9,473.0 L704.4,472.6 L705.0,472.2 L705.6,473.3 L706.1,473.9 L706.7,475.7 L707.2,475.0 L707.8,476.0 L708.3,475.1 L708.9,476.4 L709.4,476.1 L710.0,477.3 L710.5,475.9 L711.1,478.2 L711.6,477.7 L712.2,476.5 L712.8,478.4 L713.3,479.4 L713.9,478.8 L714.4,478.9 L715.0,479.3 L715.5,481.4 L716.1,480.4 L716.6,482.2 L717.2,479.9 L717.7,481.4 L718.3,482.1 L718.8,481.6 L719.4,482.1 L720.0,483.4 L720.5,481.9 L721.1,483.4 L721.6,484.7 L722.2,482.9 L722.7,483.1 L723.3,483.6 L723.8,484.3 L724.4,485.5 L724.9,484.6 L725.5,484.3 L726.0,485.2 L726.6,485.0 L727.2,486.8 L727.7,485.9 L728.3,486.2 L728.8,488.0 L729.4,488.3 L729.9,488.0 L730.5,487.7 L731.0,487.7 L731.6,488.4 L732.1,488.5 L732.7,488.8 L733.2,488.9 L733.8,488.8 L734.4,489.1 L734.9,489.6 L735.5,489.7 L736.0,490.3 L736.6,489.8 L737.1,490.8 L737.7,489.6 L738.2,490.9 L738.8,490.9 L739.3,491.8 L739.9,491.8 L740.4,491.6 L741.0,491.9 L741.6,492.5 L742.1,493.1 L742.7,492.5 L743.2,492.6 L743.8,492.6 L744.3,492.3 L744.9,493.5 L745.4,494.8 L746.0,493.8 L746.5,495.0 L747.1,494.9 L747.6,493.5 L748.2,494.0 L748.8,495.0 L749.3,495.1 L749.9,495.0 L750.4,496.2 L751.0,494.9 L751.5,495.6 L752.1,494.4 L752.6,496.4 L753.2,495.3 L753.7,496.5 L754.3,495.6 L754.8,497.0 L755.4,496.1 L756.0,497.0 L756.5,497.4 L757.1,497.1 L757.6,496.9 L758.2,497.1 L758.7,496.5 L759.3,497.1" stroke="#000" stroke-width="1.4" transform="translate(0,0.3)"/>
<path d="M558.5,517.7 L559.1,508.7 L559.6,503.4 L560.2,496.9 L560.7,491.6 L561.3,488.8 L561.8,485.0 L562.4,480.9 L562.9,478.2 L563.5,474.3 L564.0,472.7 L564.6,470.4 L565.1,467.6 L565.7,467.3 L566.3,465.5 L566.8,464.7 L567.4,462.7 L567.9,461.0 L568.5,459.8 L569.0,459.7 L569.6,459.1 L570.1,458.2 L570.7,457.6 L571.2,455.6 L571.8,453.8 L572.3,455.1 L572.9,453.9 L573.5,450.4 L574.0,451.2 L574.6,448.8 L575.1,448.7 L575.7,446.2 L576.2,445.1 L576.8,444.4 L577.3,442.9 L577.9,442.3 L578.4,440.9 L579.0,439.1 L579.5,438.6 L580.1,438.8 L580.7,438.0 L581.2,436.7 L581.8,435.9 L582.3,434.9 L582.9,434.6 L583.4,433.0 L584.0,432.7 L584.5,431.9 L585.1,431.5 L585.6,430.5 L586.2,431.1 L586.7,428.7 L587.3,429.0 L587.9,428.4 L588.4,427.8 L589.0,427.0 L589.5,426.8 L590.1,426.7 L590.6,426.5 L591.2,427.1 L591.7,425.4 L592.3,425.4 L592.8,425.0 L593.4,422.9 L593.9,425.3 L594.5,423.7 L595.1,422.6 L595.6,422.5 L596.2,422.0 L596.7,423.3 L597.3,422.8 L597.8,421.5 L598.4,421.8 L598.9,420.3 L599.5,421.0 L600.0,420.8 L600.6,420.4 L601.1,420.6 L601.7,420.2 L602.3,420.5 L602.8,419.8 L603.4,419.9 L603.9,419.3 L604.5,420.2 L605.0,420.1 L605.6,418.6 L606.1,418.7 L606.7,419.3 L607.2,418.7 L607.8,419.1 L608.3,417.0 L608.9,419.2 L609.5,417.0 L610.0,418.5 L610.6,417.6 L611.1,418.0 L611.7,417.9 L612.2,417.0 L612.8,417.0 L613.3,417.6 L613.9,417.9 L614.4,415.9 L615.0,416.3 L615.5,417.0 L616.1,417.2 L616.7,416.8 L617.2,416.8 L617.8,416.0 L618.3,417.4 L618.9,416.6 L619.4,417.1 L620.0,415.7 L620.5,415.3 L621.1,416.5 L621.6,416.0 L622.2,415.4 L622.7,416.4 L623.3,416.8 L623.9,415.4 L624.4,415.7 L625.0,416.1 L625.5,415.0 L626.1,415.7 L626.6,417.0 L627.2,415.6 L627.7,415.8 L628.3,414.5 L628.8,415.7 L629.4,415.7 L629.9,415.3 L630.5,415.3 L631.1,416.4 L631.6,415.3 L632.2,415.6 L632.7,414.4 L633.3,413.7 L633.8,416.0 L634.4,415.8 L634.9,415.7 L635.5,415.6 L636.0,415.6 L636.6,415.0 L637.1,414.3 L637.7,415.9 L638.3,416.0 L638.8,416.1 L639.4,414.2 L639.9,414.0 L640.5,415.8 L641.0,415.9 L641.6,414.7 L642.1,414.0 L642.7,414.1 L643.2,414.6 L643.8,414.2 L644.3,414.4 L644.9,415.0 L645.5,413.4 L646.0,414.6 L646.6,415.3 L647.1,414.8 L647.7,415.5 L648.2,414.5 L648.8,413.8 L649.3,415.3 L649.9,413.7 L650.4,413.1 L651.0,414.2 L651.5,415.1 L652.1,414.9 L652.7,414.6 L653.2,415.2 L653.8,415.1 L654.3,414.5 L654.9,414.4 L655.4,413.9 L656.0,415.0 L656.5,413.0 L657.1,413.6 L657.6,413.7 L658.2,414.6 L658.8,413.1 L659.0,403.3 L659.0,413.6 L659.6,413.8 L660.1,415.8 L660.7,418.5 L661.2,419.7 L661.8,419.6 L662.4,421.6 L662.9,423.7 L663.5,424.8 L664.0,426.2 L664.6,428.1 L665.1,429.0 L665.7,430.5 L666.2,431.6 L666.8,432.2 L667.3,434.3 L667.9,434.4 L668.4,435.9 L669.0,436.6 L669.6,437.6 L670.1,438.5 L670.7,439.9 L671.2,440.9 L671.8,442.5 L672.3,443.0 L672.9,444.9 L673.4,445.5 L674.0,445.8 L674.5,447.2 L675.1,447.8 L675.6,449.7 L676.2,449.0 L676.8,451.1 L677.3,451.3 L677.9,452.4 L678.4,452.6 L679.0,454.3 L679.5,455.5 L680.1,456.8 L680.6,456.6 L681.2,457.9 L681.7,457.5 L682.3,457.6 L682.8,460.7 L683.4,460.8 L684.0,460.4 L684.5,460.5 L685.1,461.8 L685.6,462.4 L686.2,462.9 L686.7,463.5 L687.3,463.4 L687.8,464.7 L688.4,466.5 L688.9,466.6 L689.5,466.7 L690.0,468.0 L690.6,468.2 L691.2,468.9 L691.7,469.6 L692.3,469.2 L692.8,470.4 L693.4,471.4 L693.9,471.6 L694.5,471.6 L695.0,470.8 L695.6,472.5 L696.1,472.1 L696.7,473.3 L697.2,475.4 L697.8,474.2 L698.4,475.5 L698.9,476.3 L699.5,476.5 L700.0,475.1 L700.6,477.7 L701.1,477.5 L701.7,476.7 L702.2,477.4 L702.8,479.4 L703.3,478.7 L703.9,479.4 L704.4,479.5 L705.0,479.3 L705.6,480.5 L706.1,480.7 L706.7,479.9 L707.2,482.4 L707.8,481.8 L708.3,481.6 L708.9,483.0 L709.4,483.0 L710.0,483.7 L710.5,483.1 L711.1,483.9 L711.6,483.3 L712.2,483.5 L712.8,484.4 L713.3,485.0 L713.9,484.8 L714.4,485.3 L715.0,486.4 L715.5,485.2 L716.1,486.0 L716.6,485.9 L717.2,487.6 L717.7,486.4 L718.3,485.8 L718.8,487.1 L719.4,488.7 L720.0,488.0 L720.5,488.3 L721.1,488.3 L721.6,488.9 L722.2,488.6 L722.7,489.5 L723.3,489.3 L723.8,490.1 L724.4,489.8 L724.9,489.5 L725.5,490.7 L726.0,490.1 L726.6,491.4 L727.2,491.2 L727.7,491.4 L728.3,490.6 L728.8,492.1 L729.4,491.0 L729.9,493.0 L730.5,492.3 L731.0,491.8 L731.6,492.2 L732.1,493.5 L732.7,493.8 L733.2,492.6 L733.8,494.2 L734.4,493.2 L734.9,494.1 L735.5,493.9 L736.0,492.6 L736.6,493.3 L737.1,493.9 L737.7,495.5 L738.2,494.6 L738.8,494.9 L739.3,495.2 L739.9,494.4 L740.4,496.6 L741.0,495.4 L741.6,495.7 L742.1,496.4 L742.7,494.9 L743.2,497.1 L743.8,496.4 L744.3,496.5 L744.9,498.1 L745.4,497.8 L746.0,497.6 L746.5,496.6 L747.1,496.6 L747.6,497.0 L748.2,497.4 L748.8,499.1 L749.3,497.7 L749.9,498.3 L750.4,497.3 L751.0,497.3 L751.5,496.9 L752.1,498.0 L752.6,498.1 L753.2,499.4 L753.7,498.8 L754.3,499.8 L754.8,498.5 L755.4,500.0 L756.0,499.5 L756.5,500.0 L757.1,499.9 L757.6,499.4 L758.2,500.2 L758.7,499.8 L759.3,500.7" stroke="#000" stroke-width="1.4" transform="translate(0,0.3)"/>
<path d="M558.5,515.0 L559.1,512.8 L559.6,508.6 L560.2,505.0 L560.7,505.5 L561.3,502.1 L561.8,499.4 L562.4,496.4 L562.9,495.6 L563.5,493.2 L564.0,492.3 L564.6,489.8 L565.1,489.4 L565.7,486.5 L566.3,487.6 L566.8,485.4 L567.4,481.6 L567.9,481.4 L568.5,480.8 L569.0,477.5 L569.6,477.1 L570.1,475.9 L570.7,475.9 L571.2,474.2 L571.8,473.3 L572.3,473.8 L572.9,471.4 L573.5,471.1 L574.0,469.4 L574.6,468.6 L575.1,469.2 L575.7,468.5 L576.2,467.4 L576.8,466.4 L577.3,466.6 L577.9,465.8 L578.4,464.8 L579.0,464.4 L579.5,463.5 L580.1,463.6 L580.7,463.9 L581.2,464.0 L581.8,461.9 L582.3,462.3 L582.9,461.9 L583.4,461.4 L584.0,461.9 L584.5,460.7 L585.1,461.8 L585.6,460.0 L586.2,459.9 L586.7,457.8 L587.3,458.3 L587.9,458.4 L588.4,457.8 L589.0,457.1 L589.5,457.8 L590.1,457.1 L590.6,456.8 L591.2,454.6 L591.7,455.9 L592.3,456.9 L592.8,454.8 L593.4,453.3 L593.9,455.4 L594.5,452.1 L595.1,454.2 L595.6,453.2 L596.2,453.9 L596.7,453.5 L597.3,453.8 L597.8,453.4 L598.4,453.9 L598.9,451.4 L599.5,452.7 L600.0,451.4 L600.6,451.2 L601.1,451.6 L601.7,450.9 L602.3,450.8 L602.8,450.8 L603.4,450.3 L603.9,450.0 L604.5,450.5 L605.0,450.5 L605.6,450.0 L606.1,449.2 L606.7,448.1 L607.2,447.9 L607.8,448.5 L608.3,447.9 L608.9,448.2 L609.5,447.4 L610.0,447.9 L610.6,447.5 L611.1,447.8 L611.7,447.5 L612.2,446.1 L612.8,448.0 L613.3,447.0 L613.9,447.3 L614.4,446.1 L615.0,445.4 L615.5,446.7 L616.1,448.2 L616.7,445.8 L617.2,445.6 L617.8,447.1 L618.3,446.0 L618.9,445.7 L619.4,447.1 L620.0,445.0 L620.5,445.0 L621.1,445.0 L621.6,445.8 L622.2,445.4 L622.7,445.3 L623.3,444.4 L623.9,445.3 L624.4,443.5 L625.0,444.2 L625.5,445.8 L626.1,443.1 L626.6,444.0 L627.2,444.4 L627.7,443.9 L628.3,445.1 L628.8,443.6 L629.4,445.3 L629.9,444.2 L630.5,442.5 L631.1,442.5 L631.6,443.5 L632.2,443.8 L632.7,442.5 L633.3,443.1 L633.8,442.8 L634.4,442.4 L634.9,443.5 L635.5,442.2 L636.0,444.1 L636.6,441.6 L637.1,443.5 L637.7,442.8 L638.3,442.8 L638.8,441.8 L639.4,441.7 L639.9,441.9 L640.5,441.7 L641.0,441.7 L641.6,442.0 L642.1,443.2 L642.7,443.4 L643.2,443.3 L643.8,441.7 L644.3,441.8 L644.9,441.7 L645.5,441.4 L646.0,441.6 L646.6,442.1 L647.1,442.4 L647.7,442.6 L648.2,440.4 L648.8,440.6 L649.3,442.1 L649.9,441.3 L650.4,440.8 L651.0,439.9 L651.5,441.4 L652.1,440.8 L652.7,440.1 L653.2,442.1 L653.8,441.3 L654.3,440.8 L654.9,441.3 L655.4,439.3 L656.0,440.1 L656.5,440.5 L657.1,441.3 L657.6,440.0 L658.2,440.2 L658.8,440.9 L659.0,438.6 L659.0,440.3 L659.6,441.8 L660.1,441.8 L660.7,442.0 L661.2,442.8 L661.8,443.9 L662.4,444.6 L662.9,446.4 L663.5,447.1 L664.0,446.8 L664.6,448.1 L665.1,449.8 L665.7,449.7 L666.2,450.2 L666.8,451.0 L667.3,452.2 L667.9,453.4 L668.4,453.5 L669.0,453.3 L669.6,455.1 L670.1,456.4 L670.7,456.4 L671.2,458.1 L671.8,457.8 L672.3,458.8 L672.9,458.7 L673.4,459.9 L674.0,459.9 L674.5,459.7 L675.1,462.0 L675.6,463.1 L676.2,462.8 L676.8,463.8 L677.3,464.2 L677.9,465.3 L678.4,465.1 L679.0,466.0 L679.5,468.1 L680.1,467.4 L680.6,467.6 L681.2,467.5 L681.7,469.3 L682.3,470.0 L682.8,469.2 L683.4,470.9 L684.0,470.9 L684.5,471.2 L685.1,471.5 L685.6,472.5 L686.2,473.8 L686.7,472.8 L687.3,474.3 L687.8,474.8 L688.4,473.6 L688.9,474.8 L689.5,476.6 L690.0,476.6 L690.6,476.9 L691.2,477.7 L691.7,478.9 L692.3,477.5 L692.8,478.0 L693.4,478.7 L693.9,479.6 L694.5,479.6 L695.0,479.7 L695.6,481.3 L696.1,481.2 L696.7,481.7 L697.2,481.3 L697.8,481.9 L698.4,483.4 L698.9,483.3 L699.5,482.0 L700.0,484.2 L700.6,483.8 L701.1,484.7 L701.7,483.8 L702.2,485.0 L702.8,485.6 L703.3,486.5 L703.9,486.2 L704.4,485.8 L705.0,486.2 L705.6,487.9 L706.1,486.3 L706.7,487.8 L707.2,488.6 L707.8,488.1 L708.3,489.0 L708.9,489.2 L709.4,489.6 L710.0,489.5 L710.5,490.0 L711.1,491.1 L711.6,489.9 L712.2,490.9 L712.8,490.0 L713.3,490.7 L713.9,491.0 L714.4,491.5 L715.0,491.0 L715.5,492.4 L716.1,493.1 L716.6,492.4 L717.2,494.7 L717.7,493.4 L718.3,493.3 L718.8,493.9 L719.4,493.0 L720.0,493.6 L720.5,494.3 L721.1,494.8 L721.6,494.1 L722.2,495.5 L722.7,495.5 L723.3,495.0 L723.8,495.3 L724.4,494.5 L724.9,496.2 L725.5,497.6 L726.0,496.1 L726.6,495.9 L727.2,497.0 L727.7,496.1 L728.3,496.1 L728.8,498.0 L729.4,498.0 L729.9,498.7 L730.5,497.7 L731.0,497.8 L731.6,498.0 L732.1,499.4 L732.7,499.3 L733.2,499.9 L733.8,500.2 L734.4,500.2 L734.9,500.5 L735.5,499.8 L736.0,499.5 L736.6,499.6 L737.1,500.2 L737.7,500.8 L738.2,500.5 L738.8,500.2 L739.3,501.0 L739.9,500.9 L740.4,501.3 L741.0,501.6 L741.6,501.4 L742.1,502.3 L742.7,501.0 L743.2,502.9 L743.8,501.6 L744.3,503.0 L744.9,501.2 L745.4,501.8 L746.0,503.0 L746.5,502.9 L747.1,503.5 L747.6,502.9 L748.2,502.7 L748.8,501.4 L749.3,504.2 L749.9,502.6 L750.4,503.9 L751.0,503.4 L751.5,503.2 L752.1,503.5 L752.6,503.7 L753.2,504.2 L753.7,504.2 L754.3,504.2 L754.8,503.6 L755.4,505.5 L756.0,505.0 L756.5,505.6 L757.1,505.5 L757.6,505.5 L758.2,504.3 L758.7,503.7 L759.3,504.4" stroke="#000" stroke-width="1.4" transform="translate(0,0.3)"/>
<path d="M558.5,516.8 L559.1,514.2 L559.6,513.5 L560.2,510.9 L560.7,509.0 L561.3,508.2 L561.8,506.8 L562.4,506.3 L562.9,506.4 L563.5,505.4 L564.0,503.2 L564.6,501.8 L565.1,500.4 L565.7,500.6 L566.3,499.5 L566.8,498.5 L567.4,497.1 L567.9,497.1 L568.5,497.0 L569.0,494.8 L569.6,494.5 L570.1,493.8 L570.7,494.2 L571.2,492.7 L571.8,493.2 L572.3,492.8 L572.9,491.1 L573.5,490.7 L574.0,489.5 L574.6,488.4 L575.1,488.9 L575.7,487.2 L576.2,488.4 L576.8,487.0 L577.3,488.0 L577.9,486.7 L578.4,486.6 L579.0,486.2 L579.5,485.3 L580.1,486.6 L580.7,484.9 L581.2,485.2 L581.8,484.2 L582.3,483.7 L582.9,483.9 L583.4,483.6 L584.0,483.8 L584.5,482.4 L585.1,482.9 L585.6,481.9 L586.2,482.8 L586.7,480.7 L587.3,482.0 L587.9,480.3 L588.4,481.1 L589.0,480.1 L589.5,480.3 L590.1,479.5 L590.6,479.6 L591.2,478.5 L591.7,478.7 L592.3,478.4 L592.8,477.5 L593.4,478.8 L593.9,477.2 L594.5,477.8 L595.1,478.5 L595.6,477.0 L596.2,477.2 L596.7,475.7 L597.3,476.9 L597.8,476.3 L598.4,475.9 L598.9,477.1 L599.5,475.3 L600.0,476.1 L600.6,474.3 L601.1,473.9 L601.7,474.8 L602.3,475.6 L602.8,474.2 L603.4,474.0 L603.9,473.5 L604.5,473.9 L605.0,474.3 L605.6,473.5 L606.1,473.8 L606.7,471.8 L607.2,473.3 L607.8,473.1 L608.3,472.5 L608.9,473.1 L609.5,472.4 L610.0,472.0 L610.6,472.1 L611.1,471.8 L611.7,470.7 L612.2,471.0 L612.8,472.1 L613.3,471.3 L613.9,470.4 L614.4,471.2 L615.0,470.5 L615.5,470.5 L616.1,470.0 L616.7,470.3 L617.2,470.1 L617.8,470.5 L618.3,469.5 L618.9,470.3 L619.4,468.4 L620.0,469.4 L620.5,469.4 L621.1,468.6 L621.6,469.1 L622.2,468.9 L622.7,468.8 L623.3,469.2 L623.9,469.2 L624.4,468.9 L625.0,467.6 L625.5,468.7 L626.1,468.4 L626.6,468.3 L627.2,467.5 L627.7,466.5 L628.3,468.3 L628.8,467.3 L629.4,467.4 L629.9,467.6 L630.5,467.0 L631.1,468.1 L631.6,466.6 L632.2,466.9 L632.7,467.6 L633.3,465.8 L633.8,466.2 L634.4,465.9 L634.9,467.6 L635.5,466.7 L636.0,466.8 L636.6,465.9 L637.1,465.3 L637.7,467.4 L638.3,466.1 L638.8,466.1 L639.4,465.3 L639.9,465.9 L640.5,466.6 L641.0,465.8 L641.6,466.3 L642.1,466.1 L642.7,465.4 L643.2,465.7 L643.8,465.1 L644.3,466.3 L644.9,463.6 L645.5,464.3 L646.0,464.6 L646.6,465.9 L647.1,466.4 L647.7,465.4 L648.2,465.0 L648.8,463.3 L649.3,463.8 L649.9,465.0 L650.4,463.8 L651.0,463.7 L651.5,464.5 L652.1,463.6 L652.7,464.2 L653.2,464.8 L653.8,465.1 L654.3,464.3 L654.9,463.6 L655.4,465.1 L656.0,465.2 L656.5,463.7 L657.1,465.9 L657.6,462.8 L658.2,464.3 L658.8,463.5 L659.0,460.0 L659.0,461.8 L659.6,465.6 L660.1,466.6 L660.7,465.5 L661.2,468.1 L661.8,468.8 L662.4,469.4 L662.9,469.5 L663.5,469.9 L664.0,471.3 L664.6,472.2 L665.1,472.5 L665.7,472.8 L666.2,472.6 L666.8,473.9 L667.3,473.2 L667.9,475.5 L668.4,475.0 L669.0,474.6 L669.6,475.4 L670.1,476.4 L670.7,477.7 L671.2,478.0 L671.8,478.0 L672.3,478.1 L672.9,478.9 L673.4,480.1 L674.0,480.0 L674.5,479.5 L675.1,479.7 L675.6,481.6 L676.2,481.3 L676.8,482.5 L677.3,482.1 L677.9,479.8 L678.4,482.4 L679.0,483.1 L679.5,483.6 L680.1,484.3 L680.6,485.1 L681.2,484.3 L681.7,484.7 L682.3,483.9 L682.8,486.3 L683.4,485.3 L684.0,485.0 L684.5,487.5 L685.1,486.1 L685.6,487.9 L686.2,486.8 L686.7,486.5 L687.3,487.7 L687.8,487.8 L688.4,488.8 L688.9,488.4 L689.5,488.2 L690.0,489.3 L690.6,489.6 L691.2,489.5 L691.7,489.5 L692.3,491.4 L692.8,490.6 L693.4,491.3 L693.9,490.8 L694.5,490.7 L695.0,491.4 L695.6,491.1 L696.1,492.8 L696.7,492.7 L697.2,493.3 L697.8,492.9 L698.4,493.1 L698.9,493.5 L699.5,494.4 L700.0,493.9 L700.6,494.4 L701.1,493.9 L701.7,494.8 L702.2,494.0 L702.8,494.9 L703.3,496.5 L703.9,495.6 L704.4,496.6 L705.0,495.3 L705.6,495.2 L706.1,496.3 L706.7,496.2 L707.2,497.7 L707.8,498.4 L708.3,497.5 L708.9,497.5 L709.4,498.5 L710.0,497.7 L710.5,497.7 L711.1,497.7 L711.6,497.3 L712.2,498.0 L712.8,498.9 L713.3,498.8 L713.9,498.6 L714.4,499.9 L715.0,498.5 L715.5,499.0 L716.1,499.9 L716.6,500.3 L717.2,497.6 L717.7,499.7 L718.3,499.8 L718.8,499.4 L719.4,500.1 L720.0,500.8 L720.5,500.6 L721.1,501.8 L721.6,500.9 L722.2,502.6 L722.7,501.4 L723.3,501.5 L723.8,503.0 L724.4,500.9 L724.9,503.1 L725.5,501.7 L726.0,502.9 L726.6,502.5 L727.2,503.3 L727.7,501.3 L728.3,502.5 L728.8,502.1 L729.4,502.9 L729.9,503.1 L730.5,503.6 L731.0,504.0 L731.6,503.5 L732.1,504.0 L732.7,504.3 L733.2,505.2 L733.8,504.6 L734.4,504.2 L734.9,505.0 L735.5,504.6 L736.0,505.0 L736.6,505.7 L737.1,505.7 L737.7,505.8 L738.2,505.6 L738.8,505.7 L739.3,504.9 L739.9,506.4 L740.4,507.2 L741.0,505.5 L741.6,506.3 L742.1,506.2 L742.7,504.5 L743.2,505.4 L743.8,506.1 L744.3,505.9 L744.9,506.6 L745.4,506.1 L746.0,507.2 L746.5,507.4 L747.1,507.3 L747.6,506.1 L748.2,506.2 L748.8,507.7 L749.3,506.6 L749.9,507.6 L750.4,506.9 L751.0,507.9 L751.5,507.1 L752.1,507.9 L752.6,508.1 L753.2,508.0 L753.7,508.0 L754.3,508.6 L754.8,509.2 L755.4,507.2 L756.0,508.7 L756.5,509.7 L757.1,510.1 L757.6,510.5 L758.2,509.2 L758.7,507.9 L759.3,510.0" stroke="#000" stroke-width="1.4" transform="translate(0,0.3)"/>
<path d="M558.5,516.2 L559.1,516.0 L559.6,513.0 L560.2,512.6 L560.7,511.8 L561.3,510.4 L561.8,509.5 L562.4,509.4 L562.9,509.9 L563.5,509.9 L564.0,509.2 L564.6,509.2 L565.1,506.4 L565.7,507.4 L566.3,506.8 L566.8,506.4 L567.4,504.9 L567.9,506.3 L568.5,504.8 L569.0,505.1 L569.6,505.1 L570.1,506.1 L570.7,503.9 L571.2,504.8 L571.8,504.3 L572.3,503.6 L572.9,503.5 L573.5,502.5 L574.0,503.5 L574.6,502.7 L575.1,502.4 L575.7,502.3 L576.2,501.6 L576.8,502.0 L577.3,500.8 L577.9,501.8 L578.4,502.1 L579.0,500.9 L579.5,499.8 L580.1,500.8 L580.7,500.6 L581.2,500.2 L581.8,499.6 L582.3,499.6 L582.9,499.1 L583.4,500.2 L584.0,497.9 L584.5,498.3 L585.1,499.0 L585.6,497.3 L586.2,497.8 L586.7,496.9 L587.3,498.5 L587.9,496.4 L588.4,497.3 L589.0,498.5 L589.5,496.5 L590.1,497.0 L590.6,497.3 L591.2,496.6 L591.7,497.6 L592.3,495.7 L592.8,496.1 L593.4,496.0 L593.9,494.7 L594.5,495.5 L595.1,495.8 L595.6,495.8 L596.2,495.1 L596.7,494.2 L597.3,495.1 L597.8,495.3 L598.4,493.8 L598.9,494.3 L599.5,494.2 L600.0,492.6 L600.6,494.7 L601.1,493.6 L601.7,494.8 L602.3,493.7 L602.8,493.0 L603.4,492.5 L603.9,493.9 L604.5,492.4 L605.0,492.3 L605.6,492.8 L606.1,491.0 L606.7,492.5 L607.2,493.0 L607.8,492.0 L608.3,493.4 L608.9,491.0 L609.5,491.2 L610.0,492.1 L610.6,491.3 L611.1,491.2 L611.7,490.2 L612.2,491.8 L612.8,492.1 L613.3,492.5 L613.9,491.2 L614.4,492.0 L615.0,491.0 L615.5,490.5 L616.1,490.9 L616.7,491.2 L617.2,489.6 L617.8,490.5 L618.3,490.1 L618.9,489.5 L619.4,490.9 L620.0,490.6 L620.5,488.2 L621.1,489.9 L621.6,490.4 L622.2,489.8 L622.7,489.9 L623.3,490.2 L623.9,489.6 L624.4,489.3 L625.0,489.2 L625.5,488.7 L626.1,490.1 L626.6,489.9 L627.2,488.3 L627.7,489.0 L628.3,487.8 L628.8,488.4 L629.4,489.4 L629.9,488.0 L630.5,489.0 L631.1,488.1 L631.6,487.3 L632.2,486.7 L632.7,488.1 L633.3,487.5 L633.8,487.7 L634.4,487.3 L634.9,489.4 L635.5,487.9 L636.0,487.4 L636.6,487.2 L637.1,487.9 L637.7,486.8 L638.3,486.5 L638.8,487.2 L639.4,487.3 L639.9,487.3 L640.5,486.9 L641.0,486.2 L641.6,485.9 L642.1,487.1 L642.7,487.4 L643.2,487.2 L643.8,486.0 L644.3,486.4 L644.9,486.3 L645.5,486.1 L646.0,486.1 L646.6,486.4 L647.1,487.0 L647.7,486.6 L648.2,486.1 L648.8,485.9 L649.3,486.3 L649.9,486.3 L650.4,485.1 L651.0,486.2 L651.5,485.7 L652.1,486.0 L652.7,486.4 L653.2,486.8 L653.8,486.1 L654.3,486.2 L654.9,485.1 L655.4,486.4 L656.0,485.8 L656.5,485.1 L657.1,485.6 L657.6,485.1 L658.2,484.9 L658.8,486.5 L659.0,483.4 L659.0,484.9 L659.6,485.6 L660.1,484.4 L660.7,485.8 L661.2,485.7 L661.8,485.2 L662.4,486.9 L662.9,486.9 L663.5,487.0 L664.0,487.8 L664.6,487.1 L665.1,487.7 L665.7,487.9 L666.2,488.8 L666.8,489.4 L667.3,489.7 L667.9,490.0 L668.4,491.1 L669.0,490.0 L669.6,490.0 L670.1,490.9 L670.7,491.4 L671.2,491.4 L671.8,491.5 L672.3,491.7 L672.9,491.0 L673.4,493.0 L674.0,492.4 L674.5,492.5 L675.1,493.1 L675.6,493.6 L676.2,494.4 L676.8,494.3 L677.3,493.7 L677.9,493.4 L678.4,495.1 L679.0,494.5 L679.5,494.7 L680.1,494.6 L680.6,495.4 L681.2,495.5 L681.7,495.4 L682.3,496.9 L682.8,496.4 L683.4,497.8 L684.0,498.1 L684.5,497.6 L685.1,498.2 L685.6,497.1 L686.2,497.0 L686.7,498.0 L687.3,498.1 L687.8,498.4 L688.4,498.6 L688.9,498.5 L689.5,498.5 L690.0,499.2 L690.6,499.6 L691.2,499.6 L691.7,499.0 L692.3,499.9 L692.8,498.9 L693.4,500.2 L693.9,499.3 L694.5,501.1 L695.0,501.0 L695.6,500.4 L696.1,500.5 L696.7,501.1 L697.2,499.8 L697.8,501.3 L698.4,501.3 L698.9,502.0 L699.5,500.7 L700.0,501.3 L700.6,501.8 L701.1,503.3 L701.7,502.1 L702.2,502.8 L702.8,502.4 L703.3,502.2 L703.9,503.4 L704.4,502.9 L705.0,502.6 L705.6,503.2 L706.1,503.7 L706.7,504.3 L707.2,504.2 L707.8,504.7 L708.3,503.3 L708.9,504.0 L709.4,505.0 L710.0,504.3 L710.5,505.3 L711.1,506.7 L711.6,503.9 L712.2,504.1 L712.8,505.9 L713.3,505.5 L713.9,505.0 L714.4,505.5 L715.0,505.9 L715.5,505.8 L716.1,505.8 L716.6,506.1 L717.2,505.7 L717.7,506.1 L718.3,506.5 L718.8,506.1 L719.4,507.3 L720.0,505.4 L720.5,507.6 L721.1,506.6 L721.6,506.4 L722.2,506.5 L722.7,506.7 L723.3,506.1 L723.8,507.8 L724.4,507.2 L724.9,507.1 L725.5,507.6 L726.0,507.8 L726.6,506.6 L727.2,508.0 L727.7,508.0 L728.3,507.9 L728.8,508.0 L729.4,507.8 L729.9,508.1 L730.5,507.8 L731.0,508.1 L731.6,507.9 L732.1,507.4 L732.7,508.9 L733.2,507.4 L733.8,508.8 L734.4,508.2 L734.9,508.6 L735.5,509.0 L736.0,510.1 L736.6,507.9 L737.1,509.5 L737.7,509.6 L738.2,508.4 L738.8,509.2 L739.3,508.0 L739.9,508.3 L740.4,509.0 L741.0,509.3 L741.6,509.1 L742.1,510.5 L742.7,509.6 L743.2,509.6 L743.8,510.1 L744.3,509.7 L744.9,510.9 L745.4,509.4 L746.0,509.2 L746.5,511.0 L747.1,510.1 L747.6,509.2 L748.2,510.0 L748.8,511.0 L749.3,511.0 L749.9,509.9 L750.4,509.3 L751.0,511.3 L751.5,510.6 L752.1,511.2 L752.6,510.9 L753.2,510.6 L753.7,510.9 L754.3,511.3 L754.8,509.6 L755.4,511.1 L756.0,511.2 L756.5,510.4 L757.1,511.1 L757.6,511.3 L758.2,510.6 L758.7,512.0 L759.3,510.9" stroke="#000" stroke-width="1.4" transform="translate(0,0.3)"/>
<path d="M558.5,516.0 L558.8,511.4 L559.1,507.1 L559.3,503.1 L559.6,499.4 L559.9,496.0 L560.2,492.7 L560.4,489.6 L560.7,486.7 L561.0,483.9 L561.3,481.2 L561.5,478.7 L561.8,476.3 L562.1,474.0 L562.4,471.7 L562.7,469.6 L562.9,467.5 L563.2,465.5 L563.5,463.6 L563.8,461.8 L564.0,460.0 L564.3,458.2 L564.6,456.5 L564.9,454.9 L565.1,453.3 L565.4,451.7 L565.7,450.2 L566.0,448.8 L566.3,447.3 L566.5,445.9 L566.8,444.6 L567.1,443.3 L567.4,442.0 L567.6,440.7 L567.9,439.5 L568.2,438.3 L568.5,437.1 L568.7,435.9 L569.0,434.8 L569.3,433.7 L569.6,432.6 L571.0,427.5 L572.3,423.0 L573.7,419.1 L575.1,415.9 L576.5,413.3 L577.9,411.2 L579.3,409.5 L580.7,408.0 L582.0,406.8 L583.4,405.7 L584.8,404.8 L586.2,404.1 L587.6,403.4 L589.0,402.9 L590.3,402.4 L591.7,402.0 L593.1,401.6 L594.5,401.3 L595.9,401.0 L597.3,400.8 L598.7,400.5 L600.0,400.3 L601.4,400.1 L602.8,399.9 L604.2,399.7 L605.6,399.5 L607.0,399.3 L608.3,399.2 L609.7,399.0 L611.1,398.9 L612.5,398.8 L613.9,398.7 L615.3,398.6 L616.7,398.5 L618.0,398.4 L619.4,398.3 L620.8,398.3 L622.2,398.2 L623.6,398.2 L625.0,398.1 L626.3,398.1 L627.7,398.1 L629.1,398.0 L630.5,398.0 L631.9,398.0 L633.3,397.9 L634.7,397.9 L636.0,397.9 L637.4,397.9 L638.8,397.8 L640.2,397.8 L641.6,397.8 L643.0,397.8 L644.3,397.8 L645.7,397.8 L647.1,397.8 L648.5,397.8 L649.9,397.7 L651.3,397.7 L652.7,397.7 L654.0,397.7 L655.4,397.7 L656.8,397.7 L658.2,397.7 L659.0,397.7 L659.0,397.1 L659.6,399.0 L660.1,400.8 L660.7,402.6 L661.2,404.4 L661.8,406.1 L662.4,407.8 L662.9,409.4 L663.5,411.0 L664.0,412.6 L664.6,414.1 L665.1,415.6 L665.7,417.1 L666.2,418.5 L666.8,419.9 L667.3,421.3 L667.9,422.7 L668.4,424.0 L669.0,425.3 L669.6,426.5 L670.1,427.8 L670.7,429.0 L671.2,430.2 L671.8,431.3 L672.3,432.5 L672.9,433.6 L673.4,434.7 L674.0,435.8 L674.5,436.8 L675.1,437.8 L675.6,438.9 L677.3,441.8 L679.0,444.5 L680.6,447.1 L682.3,449.6 L684.0,451.9 L685.6,454.1 L687.3,456.2 L688.9,458.2 L690.6,460.1 L692.3,461.9 L693.9,463.6 L695.6,465.2 L697.2,466.8 L698.9,468.3 L700.6,469.7 L702.2,471.0 L703.9,472.4 L705.6,473.6 L707.2,474.8 L708.9,476.0 L710.5,477.1 L712.2,478.2 L713.9,479.2 L715.5,480.2 L717.2,481.2 L718.8,482.1 L720.5,483.0 L722.2,483.9 L723.8,484.7 L725.5,485.5 L727.2,486.3 L728.8,487.0 L730.5,487.8 L732.1,488.5 L733.8,489.2 L735.5,489.9 L737.1,490.5 L738.8,491.1 L740.4,491.8 L742.1,492.4 L743.8,492.9 L745.4,493.5 L747.1,494.1 L748.8,494.6 L750.4,495.1 L752.1,495.6 L753.7,496.1 L755.4,496.6 L757.1,497.1 L758.7,497.5 L759.0,497.6" stroke="#f01a1a" stroke-width="1.25"/>
<path d="M558.5,516.0 L558.8,512.1 L559.1,508.5 L559.3,505.2 L559.6,502.1 L559.9,499.3 L560.2,496.7 L560.4,494.3 L560.7,492.0 L561.0,489.9 L561.3,487.9 L561.5,486.1 L561.8,484.3 L562.1,482.6 L562.4,481.0 L562.7,479.5 L562.9,478.1 L563.2,476.7 L563.5,475.4 L563.8,474.1 L564.0,473.0 L564.3,471.8 L564.6,470.7 L564.9,469.7 L565.1,468.7 L565.4,467.7 L565.7,466.8 L566.0,466.0 L566.3,465.1 L566.5,464.3 L566.8,463.6 L567.1,462.8 L567.4,462.1 L567.6,461.4 L567.9,460.8 L568.2,460.1 L568.5,459.5 L568.7,458.9 L569.0,458.3 L569.3,457.7 L569.6,457.1 L571.0,454.2 L572.3,451.4 L573.7,448.6 L575.1,445.8 L576.5,442.9 L577.9,440.2 L579.3,437.7 L580.7,435.4 L582.0,433.3 L583.4,431.5 L584.8,429.9 L586.2,428.4 L587.6,427.1 L589.0,426.0 L590.3,425.0 L591.7,424.1 L593.1,423.3 L594.5,422.5 L595.9,421.9 L597.3,421.3 L598.7,420.8 L600.0,420.4 L601.4,420.0 L602.8,419.6 L604.2,419.2 L605.6,418.9 L607.0,418.6 L608.3,418.3 L609.7,418.1 L611.1,417.8 L612.5,417.6 L613.9,417.4 L615.3,417.2 L616.7,417.0 L618.0,416.8 L619.4,416.6 L620.8,416.5 L622.2,416.3 L623.6,416.2 L625.0,416.1 L626.3,415.9 L627.7,415.8 L629.1,415.7 L630.5,415.6 L631.9,415.5 L633.3,415.4 L634.7,415.3 L636.0,415.2 L637.4,415.1 L638.8,415.0 L640.2,414.9 L641.6,414.8 L643.0,414.8 L644.3,414.7 L645.7,414.7 L647.1,414.6 L648.5,414.5 L649.9,414.5 L651.3,414.5 L652.7,414.4 L654.0,414.4 L655.4,414.3 L656.8,414.3 L658.2,414.3 L659.0,414.3 L659.0,413.5 L659.6,415.0 L660.1,416.5 L660.7,418.0 L661.2,419.5 L661.8,420.9 L662.4,422.3 L662.9,423.7 L663.5,425.0 L664.0,426.3 L664.6,427.6 L665.1,428.9 L665.7,430.2 L666.2,431.4 L666.8,432.6 L667.3,433.8 L667.9,434.9 L668.4,436.1 L669.0,437.2 L669.6,438.3 L670.1,439.3 L670.7,440.4 L671.2,441.4 L671.8,442.4 L672.3,443.4 L672.9,444.4 L673.4,445.4 L674.0,446.3 L674.5,447.3 L675.1,448.2 L675.6,449.1 L677.3,451.6 L679.0,454.1 L680.6,456.4 L682.3,458.6 L684.0,460.7 L685.6,462.7 L687.3,464.6 L688.9,466.4 L690.6,468.1 L692.3,469.7 L693.9,471.2 L695.6,472.7 L697.2,474.1 L698.9,475.4 L700.6,476.7 L702.2,477.9 L703.9,479.1 L705.6,480.2 L707.2,481.3 L708.9,482.3 L710.5,483.2 L712.2,484.2 L713.9,485.1 L715.5,485.9 L717.2,486.8 L718.8,487.5 L720.5,488.3 L722.2,489.0 L723.8,489.7 L725.5,490.4 L727.2,491.1 L728.8,491.7 L730.5,492.3 L732.1,492.9 L733.8,493.4 L735.5,494.0 L737.1,494.5 L738.8,495.0 L740.4,495.5 L742.1,496.0 L743.8,496.4 L745.4,496.9 L747.1,497.3 L748.8,497.7 L750.4,498.1 L752.1,498.5 L753.7,498.9 L755.4,499.3 L757.1,499.6 L758.7,500.0 L759.0,500.1" stroke="#f01a1a" stroke-width="1.25"/>
<path d="M558.5,516.0 L558.8,514.2 L559.1,512.5 L559.3,510.8 L559.6,509.3 L559.9,507.9 L560.2,506.5 L560.4,505.2 L560.7,503.9 L561.0,502.7 L561.3,501.5 L561.5,500.4 L561.8,499.3 L562.1,498.3 L562.4,497.3 L562.7,496.3 L562.9,495.3 L563.2,494.4 L563.5,493.5 L563.8,492.7 L564.0,491.8 L564.3,491.0 L564.6,490.2 L564.9,489.4 L565.1,488.6 L565.4,487.9 L565.7,487.1 L566.0,486.4 L566.3,485.7 L566.5,484.9 L566.8,484.2 L567.1,483.5 L567.4,482.9 L567.6,482.2 L567.9,481.5 L568.2,480.9 L568.5,480.2 L568.7,479.6 L569.0,479.0 L569.3,478.4 L569.6,477.8 L571.0,475.1 L572.3,472.7 L573.7,470.6 L575.1,468.8 L576.5,467.2 L577.9,465.8 L579.3,464.5 L580.7,463.4 L582.0,462.3 L583.4,461.3 L584.8,460.3 L586.2,459.4 L587.6,458.5 L589.0,457.6 L590.3,456.8 L591.7,456.0 L593.1,455.2 L594.5,454.5 L595.9,453.7 L597.3,453.0 L598.7,452.4 L600.0,451.7 L601.4,451.1 L602.8,450.6 L604.2,450.0 L605.6,449.5 L607.0,449.0 L608.3,448.5 L609.7,448.1 L611.1,447.7 L612.5,447.3 L613.9,446.9 L615.3,446.6 L616.7,446.2 L618.0,445.9 L619.4,445.6 L620.8,445.3 L622.2,445.0 L623.6,444.7 L625.0,444.5 L626.3,444.2 L627.7,444.0 L629.1,443.7 L630.5,443.5 L631.9,443.3 L633.3,443.1 L634.7,442.9 L636.0,442.7 L637.4,442.5 L638.8,442.3 L640.2,442.1 L641.6,442.0 L643.0,441.8 L644.3,441.7 L645.7,441.5 L647.1,441.4 L648.5,441.3 L649.9,441.1 L651.3,441.0 L652.7,440.9 L654.0,440.8 L655.4,440.8 L656.8,440.7 L658.2,440.6 L659.0,440.6 L659.0,440.0 L659.6,440.9 L660.1,441.8 L660.7,442.6 L661.2,443.5 L661.8,444.3 L662.4,445.2 L662.9,446.0 L663.5,446.8 L664.0,447.6 L664.6,448.4 L665.1,449.2 L665.7,450.0 L666.2,450.8 L666.8,451.5 L667.3,452.3 L667.9,453.0 L668.4,453.8 L669.0,454.5 L669.6,455.2 L670.1,455.9 L670.7,456.6 L671.2,457.3 L671.8,458.0 L672.3,458.7 L672.9,459.3 L673.4,460.0 L674.0,460.6 L674.5,461.3 L675.1,461.9 L675.6,462.5 L677.3,464.3 L679.0,466.1 L680.6,467.8 L682.3,469.4 L684.0,471.0 L685.6,472.5 L687.3,474.0 L688.9,475.4 L690.6,476.8 L692.3,478.1 L693.9,479.3 L695.6,480.6 L697.2,481.7 L698.9,482.9 L700.6,484.0 L702.2,485.0 L703.9,486.0 L705.6,487.0 L707.2,487.9 L708.9,488.8 L710.5,489.7 L712.2,490.6 L713.9,491.4 L715.5,492.2 L717.2,492.9 L718.8,493.6 L720.5,494.4 L722.2,495.0 L723.8,495.7 L725.5,496.3 L727.2,496.9 L728.8,497.5 L730.5,498.1 L732.1,498.6 L733.8,499.2 L735.5,499.7 L737.1,500.1 L738.8,500.6 L740.4,501.1 L742.1,501.5 L743.8,501.9 L745.4,502.4 L747.1,502.8 L748.8,503.1 L750.4,503.5 L752.1,503.9 L753.7,504.2 L755.4,504.5 L757.1,504.9 L758.7,505.2 L759.0,505.2" stroke="#f01a1a" stroke-width="1.25"/>
<path d="M558.5,516.0 L558.8,515.1 L559.1,514.3 L559.3,513.5 L559.6,512.7 L559.9,511.9 L560.2,511.2 L560.4,510.5 L560.7,509.8 L561.0,509.2 L561.3,508.6 L561.5,507.9 L561.8,507.3 L562.1,506.8 L562.4,506.2 L562.7,505.6 L562.9,505.1 L563.2,504.6 L563.5,504.1 L563.8,503.6 L564.0,503.1 L564.3,502.6 L564.6,502.2 L564.9,501.7 L565.1,501.3 L565.4,500.8 L565.7,500.4 L566.0,499.9 L566.3,499.5 L566.5,499.1 L566.8,498.7 L567.1,498.3 L567.4,497.8 L567.6,497.4 L567.9,497.0 L568.2,496.6 L568.5,496.3 L568.7,495.9 L569.0,495.5 L569.3,495.1 L569.6,494.8 L571.0,493.0 L572.3,491.5 L573.7,490.1 L575.1,488.9 L576.5,487.8 L577.9,486.8 L579.3,485.8 L580.7,485.0 L582.0,484.2 L583.4,483.4 L584.8,482.6 L586.2,481.9 L587.6,481.2 L589.0,480.5 L590.3,479.8 L591.7,479.1 L593.1,478.4 L594.5,477.8 L595.9,477.2 L597.3,476.6 L598.7,476.0 L600.0,475.4 L601.4,474.9 L602.8,474.3 L604.2,473.8 L605.6,473.4 L607.0,472.9 L608.3,472.5 L609.7,472.0 L611.1,471.6 L612.5,471.2 L613.9,470.9 L615.3,470.5 L616.7,470.2 L618.0,469.8 L619.4,469.5 L620.8,469.2 L622.2,468.9 L623.6,468.6 L625.0,468.4 L626.3,468.1 L627.7,467.8 L629.1,467.6 L630.5,467.3 L631.9,467.1 L633.3,466.9 L634.7,466.6 L636.0,466.4 L637.4,466.2 L638.8,466.0 L640.2,465.8 L641.6,465.6 L643.0,465.4 L644.3,465.3 L645.7,465.1 L647.1,464.9 L648.5,464.8 L649.9,464.6 L651.3,464.5 L652.7,464.4 L654.0,464.3 L655.4,464.2 L656.8,464.1 L658.2,464.0 L659.0,463.9 L659.0,463.1 L659.6,464.6 L660.1,465.9 L660.7,467.0 L661.2,467.9 L661.8,468.8 L662.4,469.5 L662.9,470.2 L663.5,470.8 L664.0,471.4 L664.6,472.0 L665.1,472.5 L665.7,473.0 L666.2,473.5 L666.8,474.0 L667.3,474.5 L667.9,474.9 L668.4,475.4 L669.0,475.8 L669.6,476.2 L670.1,476.7 L670.7,477.1 L671.2,477.5 L671.8,477.9 L672.3,478.3 L672.9,478.7 L673.4,479.1 L674.0,479.5 L674.5,479.9 L675.1,480.3 L675.6,480.7 L677.3,481.8 L679.0,482.8 L680.6,483.9 L682.3,484.9 L684.0,485.9 L685.6,486.8 L687.3,487.7 L688.9,488.6 L690.6,489.5 L692.3,490.3 L693.9,491.1 L695.6,491.9 L697.2,492.7 L698.9,493.4 L700.6,494.1 L702.2,494.8 L703.9,495.5 L705.6,496.1 L707.2,496.7 L708.9,497.3 L710.5,497.9 L712.2,498.5 L713.9,499.0 L715.5,499.6 L717.2,500.1 L718.8,500.6 L720.5,501.1 L722.2,501.5 L723.8,502.0 L725.5,502.4 L727.2,502.9 L728.8,503.3 L730.5,503.7 L732.1,504.1 L733.8,504.4 L735.5,504.8 L737.1,505.2 L738.8,505.5 L740.4,505.8 L742.1,506.2 L743.8,506.5 L745.4,506.8 L747.1,507.1 L748.8,507.3 L750.4,507.6 L752.1,507.9 L753.7,508.1 L755.4,508.4 L757.1,508.6 L758.7,508.8 L759.0,508.9" stroke="#f01a1a" stroke-width="1.25"/>
<path d="M558.5,516.0 L558.8,515.4 L559.1,514.8 L559.3,514.3 L559.6,513.8 L559.9,513.3 L560.2,512.9 L560.4,512.4 L560.7,512.1 L561.0,511.7 L561.3,511.3 L561.5,511.0 L561.8,510.7 L562.1,510.4 L562.4,510.1 L562.7,509.8 L562.9,509.5 L563.2,509.2 L563.5,509.0 L563.8,508.7 L564.0,508.5 L564.3,508.3 L564.6,508.1 L564.9,507.9 L565.1,507.6 L565.4,507.5 L565.7,507.3 L566.0,507.1 L566.3,506.9 L566.5,506.7 L566.8,506.6 L567.1,506.4 L567.4,506.2 L567.6,506.1 L567.9,505.9 L568.2,505.8 L568.5,505.6 L568.7,505.5 L569.0,505.3 L569.3,505.2 L569.6,505.1 L571.0,504.4 L572.3,503.8 L573.7,503.2 L575.1,502.6 L576.5,502.0 L577.9,501.4 L579.3,500.8 L580.7,500.2 L582.0,499.6 L583.4,499.1 L584.8,498.6 L586.2,498.1 L587.6,497.6 L589.0,497.2 L590.3,496.7 L591.7,496.3 L593.1,495.9 L594.5,495.5 L595.9,495.1 L597.3,494.8 L598.7,494.4 L600.0,494.0 L601.4,493.7 L602.8,493.4 L604.2,493.1 L605.6,492.8 L607.0,492.5 L608.3,492.2 L609.7,491.9 L611.1,491.6 L612.5,491.3 L613.9,491.1 L615.3,490.8 L616.7,490.6 L618.0,490.3 L619.4,490.1 L620.8,489.9 L622.2,489.6 L623.6,489.4 L625.0,489.2 L626.3,489.0 L627.7,488.8 L629.1,488.6 L630.5,488.4 L631.9,488.2 L633.3,488.0 L634.7,487.8 L636.0,487.6 L637.4,487.4 L638.8,487.2 L640.2,487.1 L641.6,486.9 L643.0,486.7 L644.3,486.6 L645.7,486.4 L647.1,486.3 L648.5,486.2 L649.9,486.0 L651.3,485.9 L652.7,485.8 L654.0,485.7 L655.4,485.6 L656.8,485.5 L658.2,485.4 L659.0,485.4 L659.0,484.7 L659.6,485.0 L660.1,485.4 L660.7,485.7 L661.2,486.0 L661.8,486.4 L662.4,486.7 L662.9,487.0 L663.5,487.3 L664.0,487.7 L664.6,488.0 L665.1,488.3 L665.7,488.6 L666.2,488.9 L666.8,489.2 L667.3,489.5 L667.9,489.7 L668.4,490.0 L669.0,490.3 L669.6,490.6 L670.1,490.9 L670.7,491.1 L671.2,491.4 L671.8,491.7 L672.3,491.9 L672.9,492.2 L673.4,492.5 L674.0,492.7 L674.5,493.0 L675.1,493.2 L675.6,493.5 L677.3,494.2 L679.0,494.9 L680.6,495.6 L682.3,496.2 L684.0,496.8 L685.6,497.4 L687.3,498.0 L688.9,498.6 L690.6,499.1 L692.3,499.7 L693.9,500.2 L695.6,500.7 L697.2,501.2 L698.9,501.6 L700.6,502.1 L702.2,502.5 L703.9,502.9 L705.6,503.3 L707.2,503.7 L708.9,504.1 L710.5,504.5 L712.2,504.8 L713.9,505.2 L715.5,505.5 L717.2,505.8 L718.8,506.2 L720.5,506.5 L722.2,506.8 L723.8,507.0 L725.5,507.3 L727.2,507.6 L728.8,507.8 L730.5,508.1 L732.1,508.3 L733.8,508.6 L735.5,508.8 L737.1,509.0 L738.8,509.2 L740.4,509.4 L742.1,509.6 L743.8,509.8 L745.4,510.0 L747.1,510.2 L748.8,510.4 L750.4,510.5 L752.1,510.7 L753.7,510.9 L755.4,511.0 L757.1,511.2 L758.7,511.3 L759.0,511.3" stroke="#f01a1a" stroke-width="1.25"/>
</g>
</g>
<text x="74.0" y="47.6" font-size="19.5" text-anchor="start" >2000 nM</text>
<text x="321.0" y="47.6" font-size="19.5" text-anchor="start" >1500 nM</text>
<text x="563.8" y="47.8" font-size="21.5" text-anchor="start" >669 nM</text>
<text x="266.5" y="229.8" font-size="19.5" text-anchor="end" >67.1 nM</text>
<text x="509.0" y="229.8" font-size="19.5" text-anchor="end" >346 nM</text>
<text x="756.5" y="230.7" font-size="19.5" text-anchor="end" >62.1 nM</text>
<text x="264.5" y="402.3" font-size="19.5" text-anchor="end" >68.3 nM</text>
<text x="512.5" y="401.3" font-size="19.5" text-anchor="end" >94.9 nM</text>
<text x="757.0" y="402.4" font-size="19.5" text-anchor="end" >86.57 nM</text>
<text transform="translate(14.6,143) rotate(-90)" font-size="20.5" >D783A<tspan font-size="15" dy="3" dx="1">S512A</tspan></text>
<text transform="translate(14.6,328.6) rotate(-90)" font-size="20.5" >E864A<tspan font-size="15" dy="3" dx="1">S512A</tspan></text>
<text transform="translate(14.6,500.5) rotate(-90)" font-size="20.5" >D889A<tspan font-size="15" dy="3" dx="1">S512A</tspan></text>
<text transform="translate(41.2,106.4) rotate(-90)" font-size="16" >RU<tspan font-size="12" dy="3">eq</tspan></text>
<text transform="translate(42.2,291.5) rotate(-90)" font-size="16" >RU</text>
<text transform="translate(42.2,461.5) rotate(-90)" font-size="16" >RU</text>
<text x="96.3" y="191.8" font-size="16.8" text-anchor="start" textLength="58.5" lengthAdjust="spacingAndGlyphs">[D783A</text>
<text x="154.9" y="194.4" font-size="10.8" text-anchor="start" textLength="31" lengthAdjust="spacingAndGlyphs">S512A</text>
<text x="185.9" y="191.8" font-size="16.8" text-anchor="start" >]</text>
<text x="195.9" y="191.8" font-size="16.8" text-anchor="start" textLength="39.5" lengthAdjust="spacingAndGlyphs">(µM )</text>
<text x="350.0" y="191.8" font-size="16.8" text-anchor="start" textLength="58.5" lengthAdjust="spacingAndGlyphs">[D783A</text>
<text x="408.6" y="194.4" font-size="10.8" text-anchor="start" textLength="31" lengthAdjust="spacingAndGlyphs">S512A</text>
<text x="439.6" y="191.8" font-size="16.8" text-anchor="start" >]</text>
<text x="449.6" y="191.8" font-size="16.8" text-anchor="start" textLength="39.5" lengthAdjust="spacingAndGlyphs">(µM )</text>
<text x="596.6" y="191.8" font-size="16.8" text-anchor="start" textLength="58.5" lengthAdjust="spacingAndGlyphs">[D783A</text>
<text x="655.2" y="194.4" font-size="10.8" text-anchor="start" textLength="31" lengthAdjust="spacingAndGlyphs">S512A</text>
<text x="686.2" y="191.8" font-size="16.8" text-anchor="start" >]</text>
<text x="696.2" y="191.8" font-size="16.8" text-anchor="start" textLength="39.5" lengthAdjust="spacingAndGlyphs">(µM )</text>
<text x="170.6" y="549.4" font-size="17.4" text-anchor="middle" >Time (s)</text>
<text x="418.0" y="548.5" font-size="17.4" text-anchor="middle" >Time (s)</text>
<text x="663.2" y="549.8" font-size="17.4" text-anchor="middle" >Time (s)</text></svg></body></html>
